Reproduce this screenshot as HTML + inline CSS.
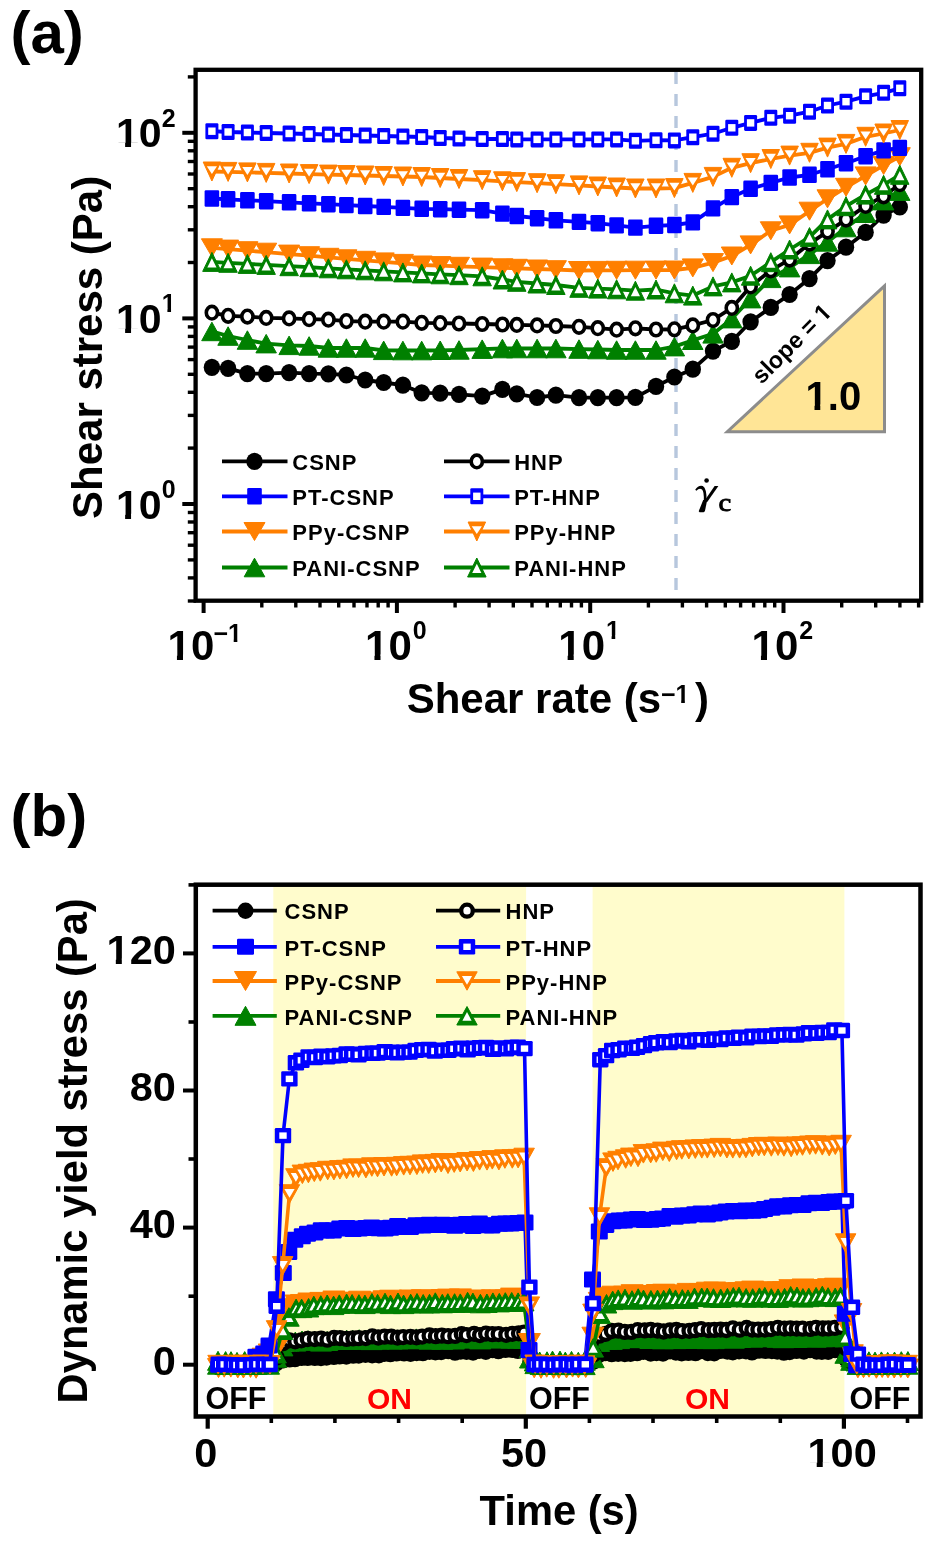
<!DOCTYPE html>
<html><head><meta charset="utf-8"><style>html,body{margin:0;padding:0;background:#fff;}body{width:934px;height:1546px;position:relative;overflow:hidden;}</style></head>
<body>
<svg width="934" height="1546" viewBox="0 0 934 1546" style="position:absolute;left:0;top:0;filter:blur(0.7px)">
<defs><clipPath id="c1b" clipPathUnits="objectBoundingBox"><rect x="-0.1" y="-0.1" width="1.2" height="0.80"/><rect x="0.40" y="0" width="0.26" height="1.1"/></clipPath><clipPath id="c1r" clipPathUnits="objectBoundingBox"><rect x="-0.1" y="-0.1" width="1.2" height="0.815"/><rect x="0.43" y="0" width="0.18" height="1.1"/></clipPath></defs>
<rect x="0" y="0" width="934" height="1546" fill="#fff"/>
<text x="10.5" y="52.6" font-family="Liberation Sans" font-size="60" font-weight="bold" font-style="normal" text-anchor="start" fill="#000" >(a)</text>
<line x1="676" y1="72" x2="676" y2="598" stroke="#b7c7dd" stroke-width="3.4" stroke-dasharray="12 10"/>
<polygon points="884.5,285.9 727.3,431.7 884.5,431.7" fill="#ffe596" stroke="#8c8c8c" stroke-width="3" stroke-linejoin="miter"/>
<text x="805.6" y="409.6" font-family="Liberation Sans" font-size="40" font-weight="bold" font-style="normal" text-anchor="start" fill="#000" clip-path="url(#c1b)">1</text><text x="827.84" y="409.6" font-family="Liberation Sans" font-size="40" font-weight="bold" font-style="normal" text-anchor="start" fill="#000" >.0</text>
<g transform="translate(761.5,385) rotate(-45)"><text x="0" y="0" font-family="Liberation Sans" font-size="23.5" font-weight="bold" font-style="normal" text-anchor="start" fill="#000" >slope = </text><text x="88.17" y="0" font-family="Liberation Sans" font-size="23.5" font-weight="bold" font-style="normal" text-anchor="start" fill="#000" clip-path="url(#c1b)">1</text></g>
<g fill="#000"><path d="M714.6,486 L718.4,486 L707.2,502 L703.6,502 Z"/><path d="M703.2,500 L707.2,500 L704.9,511.3 L703.6,512.3 L699.6,512.3 L698.7,511.2 Z"/><path d="M695.2,489.8 Q698.5,484.6 702.8,485.9 Q706.8,488 706.6,501 L703.8,501 Q704.2,491.5 702.0,489.4 Q699.2,487.6 696.4,490.8 Z"/><circle cx="706.6" cy="480.5" r="2.3"/></g>
<g transform="translate(718.6,511.4) scale(1.13,1)"><text x="0" y="0" font-family="Liberation Serif" font-size="25.5" font-weight="normal" font-style="normal" text-anchor="start" fill="#000" stroke="#000" stroke-width="0.8">c</text></g>
<polyline points="211.9,367.3 228.1,368.4 247.4,373.7 266.2,373.7 289.1,372.6 309.1,373.7 328.4,373.8 346.4,375.0 365.2,380.0 383.7,382.5 402.9,385.2 421.7,392.8 440.2,393.2 459.0,394.4 482.2,396.1 502.4,389.4 516.8,393.9 537.1,397.5 555.9,395.2 579.0,397.7 597.8,397.7 616.6,397.7 635.4,397.4 656.0,386.4 674.4,377.0 692.8,369.2 713.0,351.1 731.8,341.3 750.6,321.8 770.8,307.4 789.6,294.5 809.5,278.6 827.5,260.6 846.0,247.2 865.6,232.3 883.6,215.1 899.8,207.0" fill="none" stroke="#000000" stroke-width="3.8" stroke-linejoin="round"/>
<ellipse cx="211.9" cy="367.3" rx="8.2" ry="8.6" fill="#000000"/>
<ellipse cx="228.1" cy="368.4" rx="8.2" ry="8.6" fill="#000000"/>
<ellipse cx="247.4" cy="373.7" rx="8.2" ry="8.6" fill="#000000"/>
<ellipse cx="266.2" cy="373.7" rx="8.2" ry="8.6" fill="#000000"/>
<ellipse cx="289.1" cy="372.6" rx="8.2" ry="8.6" fill="#000000"/>
<ellipse cx="309.1" cy="373.7" rx="8.2" ry="8.6" fill="#000000"/>
<ellipse cx="328.4" cy="373.8" rx="8.2" ry="8.6" fill="#000000"/>
<ellipse cx="346.4" cy="375.0" rx="8.2" ry="8.6" fill="#000000"/>
<ellipse cx="365.2" cy="380.0" rx="8.2" ry="8.6" fill="#000000"/>
<ellipse cx="383.7" cy="382.5" rx="8.2" ry="8.6" fill="#000000"/>
<ellipse cx="402.9" cy="385.2" rx="8.2" ry="8.6" fill="#000000"/>
<ellipse cx="421.7" cy="392.8" rx="8.2" ry="8.6" fill="#000000"/>
<ellipse cx="440.2" cy="393.2" rx="8.2" ry="8.6" fill="#000000"/>
<ellipse cx="459.0" cy="394.4" rx="8.2" ry="8.6" fill="#000000"/>
<ellipse cx="482.2" cy="396.1" rx="8.2" ry="8.6" fill="#000000"/>
<ellipse cx="502.4" cy="389.4" rx="8.2" ry="8.6" fill="#000000"/>
<ellipse cx="516.8" cy="393.9" rx="8.2" ry="8.6" fill="#000000"/>
<ellipse cx="537.1" cy="397.5" rx="8.2" ry="8.6" fill="#000000"/>
<ellipse cx="555.9" cy="395.2" rx="8.2" ry="8.6" fill="#000000"/>
<ellipse cx="579.0" cy="397.7" rx="8.2" ry="8.6" fill="#000000"/>
<ellipse cx="597.8" cy="397.7" rx="8.2" ry="8.6" fill="#000000"/>
<ellipse cx="616.6" cy="397.7" rx="8.2" ry="8.6" fill="#000000"/>
<ellipse cx="635.4" cy="397.4" rx="8.2" ry="8.6" fill="#000000"/>
<ellipse cx="656.0" cy="386.4" rx="8.2" ry="8.6" fill="#000000"/>
<ellipse cx="674.4" cy="377.0" rx="8.2" ry="8.6" fill="#000000"/>
<ellipse cx="692.8" cy="369.2" rx="8.2" ry="8.6" fill="#000000"/>
<ellipse cx="713.0" cy="351.1" rx="8.2" ry="8.6" fill="#000000"/>
<ellipse cx="731.8" cy="341.3" rx="8.2" ry="8.6" fill="#000000"/>
<ellipse cx="750.6" cy="321.8" rx="8.2" ry="8.6" fill="#000000"/>
<ellipse cx="770.8" cy="307.4" rx="8.2" ry="8.6" fill="#000000"/>
<ellipse cx="789.6" cy="294.5" rx="8.2" ry="8.6" fill="#000000"/>
<ellipse cx="809.5" cy="278.6" rx="8.2" ry="8.6" fill="#000000"/>
<ellipse cx="827.5" cy="260.6" rx="8.2" ry="8.6" fill="#000000"/>
<ellipse cx="846.0" cy="247.2" rx="8.2" ry="8.6" fill="#000000"/>
<ellipse cx="865.6" cy="232.3" rx="8.2" ry="8.6" fill="#000000"/>
<ellipse cx="883.6" cy="215.1" rx="8.2" ry="8.6" fill="#000000"/>
<ellipse cx="899.8" cy="207.0" rx="8.2" ry="8.6" fill="#000000"/>
<polyline points="211.9,331.4 228.1,336.0 247.4,340.0 266.2,343.7 289.1,345.4 309.1,346.0 328.4,348.0 346.4,348.0 365.2,348.0 383.7,350.3 402.9,350.5 421.7,350.5 440.2,350.3 459.0,350.0 482.2,349.2 502.4,348.5 516.8,348.5 537.1,348.5 555.9,348.5 579.0,349.1 597.8,349.5 616.6,350.0 635.4,350.0 656.0,350.0 674.4,346.6 692.8,340.2 713.0,333.9 731.8,318.7 750.6,298.7 770.8,278.4 789.6,267.6 809.5,254.3 827.5,241.9 846.0,227.6 865.6,213.3 883.6,200.6 899.8,191.1" fill="none" stroke="#008000" stroke-width="3.8" stroke-linejoin="round"/>
<polygon points="201.7,340.7 222.2,340.7 211.9,322.2" fill="#008000" stroke="#008000" stroke-width="1" stroke-linejoin="round"/>
<polygon points="217.8,345.3 238.3,345.3 228.1,326.8" fill="#008000" stroke="#008000" stroke-width="1" stroke-linejoin="round"/>
<polygon points="237.2,349.3 257.6,349.3 247.4,330.8" fill="#008000" stroke="#008000" stroke-width="1" stroke-linejoin="round"/>
<polygon points="255.9,352.9 276.4,352.9 266.2,334.4" fill="#008000" stroke="#008000" stroke-width="1" stroke-linejoin="round"/>
<polygon points="278.9,354.6 299.4,354.6 289.1,336.1" fill="#008000" stroke="#008000" stroke-width="1" stroke-linejoin="round"/>
<polygon points="298.9,355.2 319.4,355.2 309.1,336.7" fill="#008000" stroke="#008000" stroke-width="1" stroke-linejoin="round"/>
<polygon points="318.1,357.2 338.6,357.2 328.4,338.8" fill="#008000" stroke="#008000" stroke-width="1" stroke-linejoin="round"/>
<polygon points="336.1,357.2 356.6,357.2 346.4,338.8" fill="#008000" stroke="#008000" stroke-width="1" stroke-linejoin="round"/>
<polygon points="354.9,357.2 375.4,357.2 365.2,338.8" fill="#008000" stroke="#008000" stroke-width="1" stroke-linejoin="round"/>
<polygon points="373.4,359.6 393.9,359.6 383.7,341.1" fill="#008000" stroke="#008000" stroke-width="1" stroke-linejoin="round"/>
<polygon points="392.6,359.8 413.1,359.8 402.9,341.2" fill="#008000" stroke="#008000" stroke-width="1" stroke-linejoin="round"/>
<polygon points="411.4,359.8 431.9,359.8 421.7,341.2" fill="#008000" stroke="#008000" stroke-width="1" stroke-linejoin="round"/>
<polygon points="429.9,359.5 450.4,359.5 440.2,341.0" fill="#008000" stroke="#008000" stroke-width="1" stroke-linejoin="round"/>
<polygon points="448.8,359.2 469.2,359.2 459.0,340.7" fill="#008000" stroke="#008000" stroke-width="1" stroke-linejoin="round"/>
<polygon points="471.9,358.4 492.4,358.4 482.2,339.9" fill="#008000" stroke="#008000" stroke-width="1" stroke-linejoin="round"/>
<polygon points="492.1,357.8 512.6,357.8 502.4,339.2" fill="#008000" stroke="#008000" stroke-width="1" stroke-linejoin="round"/>
<polygon points="506.5,357.8 527.0,357.8 516.8,339.2" fill="#008000" stroke="#008000" stroke-width="1" stroke-linejoin="round"/>
<polygon points="526.9,357.8 547.4,357.8 537.1,339.2" fill="#008000" stroke="#008000" stroke-width="1" stroke-linejoin="round"/>
<polygon points="545.6,357.8 566.1,357.8 555.9,339.2" fill="#008000" stroke="#008000" stroke-width="1" stroke-linejoin="round"/>
<polygon points="568.8,358.3 589.2,358.3 579.0,339.8" fill="#008000" stroke="#008000" stroke-width="1" stroke-linejoin="round"/>
<polygon points="587.5,358.8 608.0,358.8 597.8,340.3" fill="#008000" stroke="#008000" stroke-width="1" stroke-linejoin="round"/>
<polygon points="606.4,359.2 626.9,359.2 616.6,340.8" fill="#008000" stroke="#008000" stroke-width="1" stroke-linejoin="round"/>
<polygon points="625.1,359.2 645.6,359.2 635.4,340.8" fill="#008000" stroke="#008000" stroke-width="1" stroke-linejoin="round"/>
<polygon points="645.8,359.2 666.2,359.2 656.0,340.8" fill="#008000" stroke="#008000" stroke-width="1" stroke-linejoin="round"/>
<polygon points="664.1,355.9 684.6,355.9 674.4,337.4" fill="#008000" stroke="#008000" stroke-width="1" stroke-linejoin="round"/>
<polygon points="682.5,349.5 703.0,349.5 692.8,331.0" fill="#008000" stroke="#008000" stroke-width="1" stroke-linejoin="round"/>
<polygon points="702.8,343.1 723.2,343.1 713.0,324.6" fill="#008000" stroke="#008000" stroke-width="1" stroke-linejoin="round"/>
<polygon points="721.5,327.9 742.0,327.9 731.8,309.4" fill="#008000" stroke="#008000" stroke-width="1" stroke-linejoin="round"/>
<polygon points="740.4,307.9 760.9,307.9 750.6,289.4" fill="#008000" stroke="#008000" stroke-width="1" stroke-linejoin="round"/>
<polygon points="760.5,287.6 781.0,287.6 770.8,269.1" fill="#008000" stroke="#008000" stroke-width="1" stroke-linejoin="round"/>
<polygon points="779.4,276.9 799.9,276.9 789.6,258.4" fill="#008000" stroke="#008000" stroke-width="1" stroke-linejoin="round"/>
<polygon points="799.2,263.6 819.8,263.6 809.5,245.1" fill="#008000" stroke="#008000" stroke-width="1" stroke-linejoin="round"/>
<polygon points="817.2,251.2 837.8,251.2 827.5,232.7" fill="#008000" stroke="#008000" stroke-width="1" stroke-linejoin="round"/>
<polygon points="835.8,236.8 856.2,236.8 846.0,218.3" fill="#008000" stroke="#008000" stroke-width="1" stroke-linejoin="round"/>
<polygon points="855.4,222.5 875.9,222.5 865.6,204.0" fill="#008000" stroke="#008000" stroke-width="1" stroke-linejoin="round"/>
<polygon points="873.4,209.9 893.9,209.9 883.6,191.4" fill="#008000" stroke="#008000" stroke-width="1" stroke-linejoin="round"/>
<polygon points="889.5,200.4 910.0,200.4 899.8,181.9" fill="#008000" stroke="#008000" stroke-width="1" stroke-linejoin="round"/>
<polyline points="211.9,312.7 228.1,315.8 247.4,316.6 266.2,317.9 289.1,318.4 309.1,319.2 328.4,319.7 346.4,321.1 365.2,321.7 383.7,321.7 402.9,321.7 421.7,322.8 440.2,323.2 459.0,323.5 482.2,324.0 502.4,324.5 516.8,324.9 537.1,325.4 555.9,326.0 579.0,326.8 597.8,328.2 616.6,329.7 635.4,328.3 656.0,329.5 674.4,329.3 692.8,325.4 713.0,320.0 731.8,307.9 750.6,286.4 770.8,270.3 789.6,259.6 809.5,243.6 827.5,231.6 846.0,219.6 865.6,205.9 883.6,196.3 899.8,184.2" fill="none" stroke="#000000" stroke-width="3.8" stroke-linejoin="round"/>
<ellipse cx="211.9" cy="312.7" rx="5.6" ry="6.3" fill="#fff" stroke="#000000" stroke-width="3.6"/>
<ellipse cx="228.1" cy="315.8" rx="5.6" ry="6.3" fill="#fff" stroke="#000000" stroke-width="3.6"/>
<ellipse cx="247.4" cy="316.6" rx="5.6" ry="6.3" fill="#fff" stroke="#000000" stroke-width="3.6"/>
<ellipse cx="266.2" cy="317.9" rx="5.6" ry="6.3" fill="#fff" stroke="#000000" stroke-width="3.6"/>
<ellipse cx="289.1" cy="318.4" rx="5.6" ry="6.3" fill="#fff" stroke="#000000" stroke-width="3.6"/>
<ellipse cx="309.1" cy="319.2" rx="5.6" ry="6.3" fill="#fff" stroke="#000000" stroke-width="3.6"/>
<ellipse cx="328.4" cy="319.7" rx="5.6" ry="6.3" fill="#fff" stroke="#000000" stroke-width="3.6"/>
<ellipse cx="346.4" cy="321.1" rx="5.6" ry="6.3" fill="#fff" stroke="#000000" stroke-width="3.6"/>
<ellipse cx="365.2" cy="321.7" rx="5.6" ry="6.3" fill="#fff" stroke="#000000" stroke-width="3.6"/>
<ellipse cx="383.7" cy="321.7" rx="5.6" ry="6.3" fill="#fff" stroke="#000000" stroke-width="3.6"/>
<ellipse cx="402.9" cy="321.7" rx="5.6" ry="6.3" fill="#fff" stroke="#000000" stroke-width="3.6"/>
<ellipse cx="421.7" cy="322.8" rx="5.6" ry="6.3" fill="#fff" stroke="#000000" stroke-width="3.6"/>
<ellipse cx="440.2" cy="323.2" rx="5.6" ry="6.3" fill="#fff" stroke="#000000" stroke-width="3.6"/>
<ellipse cx="459.0" cy="323.5" rx="5.6" ry="6.3" fill="#fff" stroke="#000000" stroke-width="3.6"/>
<ellipse cx="482.2" cy="324.0" rx="5.6" ry="6.3" fill="#fff" stroke="#000000" stroke-width="3.6"/>
<ellipse cx="502.4" cy="324.5" rx="5.6" ry="6.3" fill="#fff" stroke="#000000" stroke-width="3.6"/>
<ellipse cx="516.8" cy="324.9" rx="5.6" ry="6.3" fill="#fff" stroke="#000000" stroke-width="3.6"/>
<ellipse cx="537.1" cy="325.4" rx="5.6" ry="6.3" fill="#fff" stroke="#000000" stroke-width="3.6"/>
<ellipse cx="555.9" cy="326.0" rx="5.6" ry="6.3" fill="#fff" stroke="#000000" stroke-width="3.6"/>
<ellipse cx="579.0" cy="326.8" rx="5.6" ry="6.3" fill="#fff" stroke="#000000" stroke-width="3.6"/>
<ellipse cx="597.8" cy="328.2" rx="5.6" ry="6.3" fill="#fff" stroke="#000000" stroke-width="3.6"/>
<ellipse cx="616.6" cy="329.7" rx="5.6" ry="6.3" fill="#fff" stroke="#000000" stroke-width="3.6"/>
<ellipse cx="635.4" cy="328.3" rx="5.6" ry="6.3" fill="#fff" stroke="#000000" stroke-width="3.6"/>
<ellipse cx="656.0" cy="329.5" rx="5.6" ry="6.3" fill="#fff" stroke="#000000" stroke-width="3.6"/>
<ellipse cx="674.4" cy="329.3" rx="5.6" ry="6.3" fill="#fff" stroke="#000000" stroke-width="3.6"/>
<ellipse cx="692.8" cy="325.4" rx="5.6" ry="6.3" fill="#fff" stroke="#000000" stroke-width="3.6"/>
<ellipse cx="713.0" cy="320.0" rx="5.6" ry="6.3" fill="#fff" stroke="#000000" stroke-width="3.6"/>
<ellipse cx="731.8" cy="307.9" rx="5.6" ry="6.3" fill="#fff" stroke="#000000" stroke-width="3.6"/>
<ellipse cx="750.6" cy="286.4" rx="5.6" ry="6.3" fill="#fff" stroke="#000000" stroke-width="3.6"/>
<ellipse cx="770.8" cy="270.3" rx="5.6" ry="6.3" fill="#fff" stroke="#000000" stroke-width="3.6"/>
<ellipse cx="789.6" cy="259.6" rx="5.6" ry="6.3" fill="#fff" stroke="#000000" stroke-width="3.6"/>
<ellipse cx="809.5" cy="243.6" rx="5.6" ry="6.3" fill="#fff" stroke="#000000" stroke-width="3.6"/>
<ellipse cx="827.5" cy="231.6" rx="5.6" ry="6.3" fill="#fff" stroke="#000000" stroke-width="3.6"/>
<ellipse cx="846.0" cy="219.6" rx="5.6" ry="6.3" fill="#fff" stroke="#000000" stroke-width="3.6"/>
<ellipse cx="865.6" cy="205.9" rx="5.6" ry="6.3" fill="#fff" stroke="#000000" stroke-width="3.6"/>
<ellipse cx="883.6" cy="196.3" rx="5.6" ry="6.3" fill="#fff" stroke="#000000" stroke-width="3.6"/>
<ellipse cx="899.8" cy="184.2" rx="5.6" ry="6.3" fill="#fff" stroke="#000000" stroke-width="3.6"/>
<polyline points="211.9,247.8 228.1,249.1 247.4,250.7 266.2,252.2 289.1,254.1 309.1,255.7 328.4,257.3 346.4,258.8 365.2,260.3 383.7,261.9 402.9,263.4 421.7,265.0 440.2,265.6 459.0,266.3 482.2,267.1 502.4,267.8 516.8,268.3 537.1,269.0 555.9,269.7 579.0,270.5 597.8,270.4 616.6,270.3 635.4,270.2 656.0,270.1 674.4,270.0 692.8,267.9 713.0,262.6 731.8,256.0 750.6,244.9 770.8,230.8 789.6,224.9 809.5,211.2 827.5,198.8 846.0,187.3 865.6,175.9 883.6,165.4 899.8,156.7" fill="none" stroke="#ff7f00" stroke-width="3.8" stroke-linejoin="round"/>
<polygon points="201.4,238.8 222.4,238.8 211.9,256.8" fill="#ff7f00" stroke="#ff7f00" stroke-width="1" stroke-linejoin="round"/>
<polygon points="217.6,240.1 238.6,240.1 228.1,258.1" fill="#ff7f00" stroke="#ff7f00" stroke-width="1" stroke-linejoin="round"/>
<polygon points="236.9,241.7 257.9,241.7 247.4,259.7" fill="#ff7f00" stroke="#ff7f00" stroke-width="1" stroke-linejoin="round"/>
<polygon points="255.7,243.2 276.7,243.2 266.2,261.2" fill="#ff7f00" stroke="#ff7f00" stroke-width="1" stroke-linejoin="round"/>
<polygon points="278.6,245.1 299.6,245.1 289.1,263.1" fill="#ff7f00" stroke="#ff7f00" stroke-width="1" stroke-linejoin="round"/>
<polygon points="298.6,246.7 319.6,246.7 309.1,264.7" fill="#ff7f00" stroke="#ff7f00" stroke-width="1" stroke-linejoin="round"/>
<polygon points="317.9,248.3 338.9,248.3 328.4,266.3" fill="#ff7f00" stroke="#ff7f00" stroke-width="1" stroke-linejoin="round"/>
<polygon points="335.9,249.8 356.9,249.8 346.4,267.8" fill="#ff7f00" stroke="#ff7f00" stroke-width="1" stroke-linejoin="round"/>
<polygon points="354.7,251.3 375.7,251.3 365.2,269.3" fill="#ff7f00" stroke="#ff7f00" stroke-width="1" stroke-linejoin="round"/>
<polygon points="373.2,252.9 394.2,252.9 383.7,270.9" fill="#ff7f00" stroke="#ff7f00" stroke-width="1" stroke-linejoin="round"/>
<polygon points="392.4,254.4 413.4,254.4 402.9,272.4" fill="#ff7f00" stroke="#ff7f00" stroke-width="1" stroke-linejoin="round"/>
<polygon points="411.2,256.0 432.2,256.0 421.7,274.0" fill="#ff7f00" stroke="#ff7f00" stroke-width="1" stroke-linejoin="round"/>
<polygon points="429.7,256.6 450.7,256.6 440.2,274.6" fill="#ff7f00" stroke="#ff7f00" stroke-width="1" stroke-linejoin="round"/>
<polygon points="448.5,257.3 469.5,257.3 459.0,275.3" fill="#ff7f00" stroke="#ff7f00" stroke-width="1" stroke-linejoin="round"/>
<polygon points="471.7,258.1 492.7,258.1 482.2,276.1" fill="#ff7f00" stroke="#ff7f00" stroke-width="1" stroke-linejoin="round"/>
<polygon points="491.9,258.8 512.9,258.8 502.4,276.8" fill="#ff7f00" stroke="#ff7f00" stroke-width="1" stroke-linejoin="round"/>
<polygon points="506.3,259.3 527.3,259.3 516.8,277.3" fill="#ff7f00" stroke="#ff7f00" stroke-width="1" stroke-linejoin="round"/>
<polygon points="526.6,260.0 547.6,260.0 537.1,278.0" fill="#ff7f00" stroke="#ff7f00" stroke-width="1" stroke-linejoin="round"/>
<polygon points="545.4,260.7 566.4,260.7 555.9,278.7" fill="#ff7f00" stroke="#ff7f00" stroke-width="1" stroke-linejoin="round"/>
<polygon points="568.5,261.5 589.5,261.5 579.0,279.5" fill="#ff7f00" stroke="#ff7f00" stroke-width="1" stroke-linejoin="round"/>
<polygon points="587.3,261.4 608.3,261.4 597.8,279.4" fill="#ff7f00" stroke="#ff7f00" stroke-width="1" stroke-linejoin="round"/>
<polygon points="606.1,261.3 627.1,261.3 616.6,279.3" fill="#ff7f00" stroke="#ff7f00" stroke-width="1" stroke-linejoin="round"/>
<polygon points="624.9,261.2 645.9,261.2 635.4,279.2" fill="#ff7f00" stroke="#ff7f00" stroke-width="1" stroke-linejoin="round"/>
<polygon points="645.5,261.1 666.5,261.1 656.0,279.1" fill="#ff7f00" stroke="#ff7f00" stroke-width="1" stroke-linejoin="round"/>
<polygon points="663.9,261.0 684.9,261.0 674.4,279.0" fill="#ff7f00" stroke="#ff7f00" stroke-width="1" stroke-linejoin="round"/>
<polygon points="682.3,258.9 703.3,258.9 692.8,276.9" fill="#ff7f00" stroke="#ff7f00" stroke-width="1" stroke-linejoin="round"/>
<polygon points="702.5,253.6 723.5,253.6 713.0,271.6" fill="#ff7f00" stroke="#ff7f00" stroke-width="1" stroke-linejoin="round"/>
<polygon points="721.3,247.0 742.3,247.0 731.8,265.0" fill="#ff7f00" stroke="#ff7f00" stroke-width="1" stroke-linejoin="round"/>
<polygon points="740.1,235.9 761.1,235.9 750.6,253.9" fill="#ff7f00" stroke="#ff7f00" stroke-width="1" stroke-linejoin="round"/>
<polygon points="760.3,221.8 781.3,221.8 770.8,239.8" fill="#ff7f00" stroke="#ff7f00" stroke-width="1" stroke-linejoin="round"/>
<polygon points="779.1,215.9 800.1,215.9 789.6,233.9" fill="#ff7f00" stroke="#ff7f00" stroke-width="1" stroke-linejoin="round"/>
<polygon points="799.0,202.2 820.0,202.2 809.5,220.2" fill="#ff7f00" stroke="#ff7f00" stroke-width="1" stroke-linejoin="round"/>
<polygon points="817.0,189.8 838.0,189.8 827.5,207.8" fill="#ff7f00" stroke="#ff7f00" stroke-width="1" stroke-linejoin="round"/>
<polygon points="835.5,178.3 856.5,178.3 846.0,196.3" fill="#ff7f00" stroke="#ff7f00" stroke-width="1" stroke-linejoin="round"/>
<polygon points="855.1,166.9 876.1,166.9 865.6,184.9" fill="#ff7f00" stroke="#ff7f00" stroke-width="1" stroke-linejoin="round"/>
<polygon points="873.1,156.4 894.1,156.4 883.6,174.4" fill="#ff7f00" stroke="#ff7f00" stroke-width="1" stroke-linejoin="round"/>
<polygon points="889.3,147.7 910.3,147.7 899.8,165.7" fill="#ff7f00" stroke="#ff7f00" stroke-width="1" stroke-linejoin="round"/>
<polyline points="211.9,261.9 228.1,262.8 247.4,263.9 266.2,264.9 289.1,266.2 309.1,267.2 328.4,268.3 346.4,269.3 365.2,270.3 383.7,271.3 402.9,272.4 421.7,273.4 440.2,274.3 459.0,275.2 482.2,276.3 502.4,279.5 516.8,281.8 537.1,283.5 555.9,285.0 579.0,287.8 597.8,288.6 616.6,289.3 635.4,290.7 656.0,289.5 674.4,293.3 692.8,295.6 713.0,286.4 731.8,282.4 750.6,275.7 770.8,262.2 789.6,249.5 809.5,237.1 827.5,219.4 846.0,206.2 865.6,194.6 883.6,184.8 899.8,174.8" fill="none" stroke="#008000" stroke-width="3.8" stroke-linejoin="round"/>
<polygon points="202.7,271.4 221.2,271.4 211.9,252.4" fill="#008000" stroke="#008000" stroke-width="1" stroke-linejoin="round"/><polygon points="207.3,267.4 216.5,267.4 211.9,258.2" fill="#fff" />
<polygon points="218.8,272.3 237.3,272.3 228.1,253.3" fill="#008000" stroke="#008000" stroke-width="1" stroke-linejoin="round"/><polygon points="223.5,268.3 232.7,268.3 228.1,259.1" fill="#fff" />
<polygon points="238.2,273.4 256.6,273.4 247.4,254.4" fill="#008000" stroke="#008000" stroke-width="1" stroke-linejoin="round"/><polygon points="242.8,269.4 252.0,269.4 247.4,260.2" fill="#fff" />
<polygon points="256.9,274.4 275.4,274.4 266.2,255.4" fill="#008000" stroke="#008000" stroke-width="1" stroke-linejoin="round"/><polygon points="261.6,270.4 270.8,270.4 266.2,261.2" fill="#fff" />
<polygon points="279.9,275.7 298.4,275.7 289.1,256.7" fill="#008000" stroke="#008000" stroke-width="1" stroke-linejoin="round"/><polygon points="284.5,271.7 293.7,271.7 289.1,262.5" fill="#fff" />
<polygon points="299.9,276.7 318.4,276.7 309.1,257.7" fill="#008000" stroke="#008000" stroke-width="1" stroke-linejoin="round"/><polygon points="304.5,272.7 313.7,272.7 309.1,263.5" fill="#fff" />
<polygon points="319.1,277.8 337.6,277.8 328.4,258.8" fill="#008000" stroke="#008000" stroke-width="1" stroke-linejoin="round"/><polygon points="323.8,273.8 333.0,273.8 328.4,264.6" fill="#fff" />
<polygon points="337.1,278.8 355.6,278.8 346.4,259.8" fill="#008000" stroke="#008000" stroke-width="1" stroke-linejoin="round"/><polygon points="341.8,274.8 351.0,274.8 346.4,265.6" fill="#fff" />
<polygon points="355.9,279.8 374.4,279.8 365.2,260.8" fill="#008000" stroke="#008000" stroke-width="1" stroke-linejoin="round"/><polygon points="360.6,275.8 369.8,275.8 365.2,266.6" fill="#fff" />
<polygon points="374.4,280.8 392.9,280.8 383.7,261.8" fill="#008000" stroke="#008000" stroke-width="1" stroke-linejoin="round"/><polygon points="379.1,276.8 388.3,276.8 383.7,267.6" fill="#fff" />
<polygon points="393.6,281.9 412.1,281.9 402.9,262.9" fill="#008000" stroke="#008000" stroke-width="1" stroke-linejoin="round"/><polygon points="398.3,277.9 407.5,277.9 402.9,268.7" fill="#fff" />
<polygon points="412.4,282.9 430.9,282.9 421.7,263.9" fill="#008000" stroke="#008000" stroke-width="1" stroke-linejoin="round"/><polygon points="417.1,278.9 426.3,278.9 421.7,269.7" fill="#fff" />
<polygon points="430.9,283.8 449.4,283.8 440.2,264.8" fill="#008000" stroke="#008000" stroke-width="1" stroke-linejoin="round"/><polygon points="435.6,279.8 444.8,279.8 440.2,270.6" fill="#fff" />
<polygon points="449.8,284.7 468.2,284.7 459.0,265.7" fill="#008000" stroke="#008000" stroke-width="1" stroke-linejoin="round"/><polygon points="454.4,280.7 463.6,280.7 459.0,271.5" fill="#fff" />
<polygon points="472.9,285.8 491.4,285.8 482.2,266.8" fill="#008000" stroke="#008000" stroke-width="1" stroke-linejoin="round"/><polygon points="477.6,281.8 486.8,281.8 482.2,272.6" fill="#fff" />
<polygon points="493.1,289.0 511.6,289.0 502.4,270.0" fill="#008000" stroke="#008000" stroke-width="1" stroke-linejoin="round"/><polygon points="497.8,285.0 507.0,285.0 502.4,275.8" fill="#fff" />
<polygon points="507.5,291.3 526.0,291.3 516.8,272.3" fill="#008000" stroke="#008000" stroke-width="1" stroke-linejoin="round"/><polygon points="512.2,287.3 521.4,287.3 516.8,278.1" fill="#fff" />
<polygon points="527.9,293.0 546.4,293.0 537.1,274.0" fill="#008000" stroke="#008000" stroke-width="1" stroke-linejoin="round"/><polygon points="532.5,289.0 541.7,289.0 537.1,279.8" fill="#fff" />
<polygon points="546.6,294.5 565.1,294.5 555.9,275.5" fill="#008000" stroke="#008000" stroke-width="1" stroke-linejoin="round"/><polygon points="551.3,290.5 560.5,290.5 555.9,281.3" fill="#fff" />
<polygon points="569.8,297.3 588.2,297.3 579.0,278.3" fill="#008000" stroke="#008000" stroke-width="1" stroke-linejoin="round"/><polygon points="574.4,293.3 583.6,293.3 579.0,284.1" fill="#fff" />
<polygon points="588.5,298.1 607.0,298.1 597.8,279.1" fill="#008000" stroke="#008000" stroke-width="1" stroke-linejoin="round"/><polygon points="593.2,294.1 602.4,294.1 597.8,284.9" fill="#fff" />
<polygon points="607.4,298.8 625.9,298.8 616.6,279.8" fill="#008000" stroke="#008000" stroke-width="1" stroke-linejoin="round"/><polygon points="612.0,294.8 621.2,294.8 616.6,285.6" fill="#fff" />
<polygon points="626.1,300.2 644.6,300.2 635.4,281.2" fill="#008000" stroke="#008000" stroke-width="1" stroke-linejoin="round"/><polygon points="630.8,296.2 640.0,296.2 635.4,287.0" fill="#fff" />
<polygon points="646.8,299.0 665.2,299.0 656.0,280.0" fill="#008000" stroke="#008000" stroke-width="1" stroke-linejoin="round"/><polygon points="651.4,295.0 660.6,295.0 656.0,285.8" fill="#fff" />
<polygon points="665.1,302.8 683.6,302.8 674.4,283.8" fill="#008000" stroke="#008000" stroke-width="1" stroke-linejoin="round"/><polygon points="669.8,298.8 679.0,298.8 674.4,289.6" fill="#fff" />
<polygon points="683.5,305.1 702.0,305.1 692.8,286.1" fill="#008000" stroke="#008000" stroke-width="1" stroke-linejoin="round"/><polygon points="688.2,301.1 697.4,301.1 692.8,291.9" fill="#fff" />
<polygon points="703.8,295.9 722.2,295.9 713.0,276.9" fill="#008000" stroke="#008000" stroke-width="1" stroke-linejoin="round"/><polygon points="708.4,291.9 717.6,291.9 713.0,282.7" fill="#fff" />
<polygon points="722.5,291.9 741.0,291.9 731.8,272.9" fill="#008000" stroke="#008000" stroke-width="1" stroke-linejoin="round"/><polygon points="727.2,287.9 736.4,287.9 731.8,278.7" fill="#fff" />
<polygon points="741.4,285.2 759.9,285.2 750.6,266.2" fill="#008000" stroke="#008000" stroke-width="1" stroke-linejoin="round"/><polygon points="746.0,281.2 755.2,281.2 750.6,272.0" fill="#fff" />
<polygon points="761.5,271.7 780.0,271.7 770.8,252.7" fill="#008000" stroke="#008000" stroke-width="1" stroke-linejoin="round"/><polygon points="766.2,267.7 775.4,267.7 770.8,258.5" fill="#fff" />
<polygon points="780.4,259.0 798.9,259.0 789.6,240.0" fill="#008000" stroke="#008000" stroke-width="1" stroke-linejoin="round"/><polygon points="785.0,255.0 794.2,255.0 789.6,245.8" fill="#fff" />
<polygon points="800.2,246.6 818.8,246.6 809.5,227.6" fill="#008000" stroke="#008000" stroke-width="1" stroke-linejoin="round"/><polygon points="804.9,242.6 814.1,242.6 809.5,233.4" fill="#fff" />
<polygon points="818.2,228.9 836.8,228.9 827.5,209.9" fill="#008000" stroke="#008000" stroke-width="1" stroke-linejoin="round"/><polygon points="822.9,224.9 832.1,224.9 827.5,215.7" fill="#fff" />
<polygon points="836.8,215.7 855.2,215.7 846.0,196.7" fill="#008000" stroke="#008000" stroke-width="1" stroke-linejoin="round"/><polygon points="841.4,211.7 850.6,211.7 846.0,202.5" fill="#fff" />
<polygon points="856.4,204.1 874.9,204.1 865.6,185.1" fill="#008000" stroke="#008000" stroke-width="1" stroke-linejoin="round"/><polygon points="861.0,200.1 870.2,200.1 865.6,190.9" fill="#fff" />
<polygon points="874.4,194.3 892.9,194.3 883.6,175.3" fill="#008000" stroke="#008000" stroke-width="1" stroke-linejoin="round"/><polygon points="879.0,190.3 888.2,190.3 883.6,181.1" fill="#fff" />
<polygon points="890.5,184.3 909.0,184.3 899.8,165.3" fill="#008000" stroke="#008000" stroke-width="1" stroke-linejoin="round"/><polygon points="895.2,180.3 904.4,180.3 899.8,171.1" fill="#fff" />
<polyline points="211.9,198.5 228.1,199.3 247.4,200.3 266.2,201.2 289.1,202.3 309.1,203.3 328.4,204.2 346.4,205.1 365.2,206.0 383.7,206.9 402.9,207.9 421.7,208.8 440.2,209.2 459.0,209.7 482.2,210.2 502.4,213.6 516.8,216.0 537.1,218.2 555.9,220.3 579.0,221.9 597.8,223.2 616.6,225.4 635.4,227.6 656.0,225.8 674.4,225.0 692.8,222.4 713.0,208.4 731.8,197.1 750.6,188.8 770.8,182.9 789.6,177.5 809.5,174.8 827.5,169.3 846.0,163.2 865.6,156.2 883.6,150.4 899.8,147.9" fill="none" stroke="#0000ff" stroke-width="3.8" stroke-linejoin="round"/>
<rect x="204.6" y="190.3" width="14.6" height="16.4" rx="1.3" fill="#0000ff"/>
<rect x="220.8" y="191.1" width="14.6" height="16.4" rx="1.3" fill="#0000ff"/>
<rect x="240.1" y="192.1" width="14.6" height="16.4" rx="1.3" fill="#0000ff"/>
<rect x="258.9" y="193.0" width="14.6" height="16.4" rx="1.3" fill="#0000ff"/>
<rect x="281.8" y="194.1" width="14.6" height="16.4" rx="1.3" fill="#0000ff"/>
<rect x="301.8" y="195.1" width="14.6" height="16.4" rx="1.3" fill="#0000ff"/>
<rect x="321.1" y="196.0" width="14.6" height="16.4" rx="1.3" fill="#0000ff"/>
<rect x="339.1" y="196.9" width="14.6" height="16.4" rx="1.3" fill="#0000ff"/>
<rect x="357.9" y="197.8" width="14.6" height="16.4" rx="1.3" fill="#0000ff"/>
<rect x="376.4" y="198.7" width="14.6" height="16.4" rx="1.3" fill="#0000ff"/>
<rect x="395.6" y="199.7" width="14.6" height="16.4" rx="1.3" fill="#0000ff"/>
<rect x="414.4" y="200.6" width="14.6" height="16.4" rx="1.3" fill="#0000ff"/>
<rect x="432.9" y="201.0" width="14.6" height="16.4" rx="1.3" fill="#0000ff"/>
<rect x="451.7" y="201.5" width="14.6" height="16.4" rx="1.3" fill="#0000ff"/>
<rect x="474.9" y="202.0" width="14.6" height="16.4" rx="1.3" fill="#0000ff"/>
<rect x="495.1" y="205.4" width="14.6" height="16.4" rx="1.3" fill="#0000ff"/>
<rect x="509.5" y="207.8" width="14.6" height="16.4" rx="1.3" fill="#0000ff"/>
<rect x="529.8" y="210.0" width="14.6" height="16.4" rx="1.3" fill="#0000ff"/>
<rect x="548.6" y="212.1" width="14.6" height="16.4" rx="1.3" fill="#0000ff"/>
<rect x="571.7" y="213.7" width="14.6" height="16.4" rx="1.3" fill="#0000ff"/>
<rect x="590.5" y="215.0" width="14.6" height="16.4" rx="1.3" fill="#0000ff"/>
<rect x="609.3" y="217.2" width="14.6" height="16.4" rx="1.3" fill="#0000ff"/>
<rect x="628.1" y="219.4" width="14.6" height="16.4" rx="1.3" fill="#0000ff"/>
<rect x="648.7" y="217.6" width="14.6" height="16.4" rx="1.3" fill="#0000ff"/>
<rect x="667.1" y="216.8" width="14.6" height="16.4" rx="1.3" fill="#0000ff"/>
<rect x="685.5" y="214.2" width="14.6" height="16.4" rx="1.3" fill="#0000ff"/>
<rect x="705.7" y="200.2" width="14.6" height="16.4" rx="1.3" fill="#0000ff"/>
<rect x="724.5" y="188.9" width="14.6" height="16.4" rx="1.3" fill="#0000ff"/>
<rect x="743.3" y="180.6" width="14.6" height="16.4" rx="1.3" fill="#0000ff"/>
<rect x="763.5" y="174.7" width="14.6" height="16.4" rx="1.3" fill="#0000ff"/>
<rect x="782.3" y="169.3" width="14.6" height="16.4" rx="1.3" fill="#0000ff"/>
<rect x="802.2" y="166.6" width="14.6" height="16.4" rx="1.3" fill="#0000ff"/>
<rect x="820.2" y="161.1" width="14.6" height="16.4" rx="1.3" fill="#0000ff"/>
<rect x="838.7" y="155.0" width="14.6" height="16.4" rx="1.3" fill="#0000ff"/>
<rect x="858.3" y="148.0" width="14.6" height="16.4" rx="1.3" fill="#0000ff"/>
<rect x="876.3" y="142.2" width="14.6" height="16.4" rx="1.3" fill="#0000ff"/>
<rect x="892.5" y="139.7" width="14.6" height="16.4" rx="1.3" fill="#0000ff"/>
<polyline points="211.9,171.5 228.1,171.9 247.4,172.4 266.2,172.9 289.1,173.5 309.1,174.1 328.4,174.6 346.4,175.0 365.2,175.5 383.7,176.0 402.9,176.5 421.7,177.0 440.2,178.0 459.0,179.0 482.2,180.2 502.4,181.3 516.8,182.1 537.1,183.2 555.9,184.2 579.0,185.4 597.8,186.5 616.6,187.5 635.4,188.5 656.0,188.5 674.4,188.1 692.8,182.9 713.0,176.9 731.8,167.8 750.6,163.2 770.8,159.0 789.6,155.6 809.5,152.8 827.5,147.6 846.0,143.9 865.6,136.8 883.6,133.5 899.8,130.0" fill="none" stroke="#ff7f00" stroke-width="3.8" stroke-linejoin="round"/>
<polygon points="203.2,162.0 220.7,162.0 211.9,181.0" fill="#ff7f00" stroke="#ff7f00" stroke-width="1" stroke-linejoin="round"/><polygon points="206.8,166.2 217.0,166.2 211.9,174.0" fill="#fff" />
<polygon points="219.3,162.4 236.8,162.4 228.1,181.4" fill="#ff7f00" stroke="#ff7f00" stroke-width="1" stroke-linejoin="round"/><polygon points="223.0,166.6 233.2,166.6 228.1,174.4" fill="#fff" />
<polygon points="238.7,162.9 256.1,162.9 247.4,181.9" fill="#ff7f00" stroke="#ff7f00" stroke-width="1" stroke-linejoin="round"/><polygon points="242.3,167.1 252.5,167.1 247.4,174.9" fill="#fff" />
<polygon points="257.4,163.4 274.9,163.4 266.2,182.4" fill="#ff7f00" stroke="#ff7f00" stroke-width="1" stroke-linejoin="round"/><polygon points="261.1,167.6 271.3,167.6 266.2,175.4" fill="#fff" />
<polygon points="280.4,164.0 297.9,164.0 289.1,183.0" fill="#ff7f00" stroke="#ff7f00" stroke-width="1" stroke-linejoin="round"/><polygon points="284.0,168.2 294.2,168.2 289.1,176.0" fill="#fff" />
<polygon points="300.4,164.6 317.9,164.6 309.1,183.6" fill="#ff7f00" stroke="#ff7f00" stroke-width="1" stroke-linejoin="round"/><polygon points="304.0,168.8 314.2,168.8 309.1,176.6" fill="#fff" />
<polygon points="319.6,165.1 337.1,165.1 328.4,184.1" fill="#ff7f00" stroke="#ff7f00" stroke-width="1" stroke-linejoin="round"/><polygon points="323.3,169.3 333.5,169.3 328.4,177.1" fill="#fff" />
<polygon points="337.6,165.5 355.1,165.5 346.4,184.5" fill="#ff7f00" stroke="#ff7f00" stroke-width="1" stroke-linejoin="round"/><polygon points="341.3,169.7 351.5,169.7 346.4,177.5" fill="#fff" />
<polygon points="356.4,166.0 373.9,166.0 365.2,185.0" fill="#ff7f00" stroke="#ff7f00" stroke-width="1" stroke-linejoin="round"/><polygon points="360.1,170.2 370.3,170.2 365.2,178.0" fill="#fff" />
<polygon points="374.9,166.5 392.4,166.5 383.7,185.5" fill="#ff7f00" stroke="#ff7f00" stroke-width="1" stroke-linejoin="round"/><polygon points="378.6,170.7 388.8,170.7 383.7,178.5" fill="#fff" />
<polygon points="394.1,167.0 411.6,167.0 402.9,186.0" fill="#ff7f00" stroke="#ff7f00" stroke-width="1" stroke-linejoin="round"/><polygon points="397.8,171.2 408.0,171.2 402.9,179.0" fill="#fff" />
<polygon points="412.9,167.5 430.4,167.5 421.7,186.5" fill="#ff7f00" stroke="#ff7f00" stroke-width="1" stroke-linejoin="round"/><polygon points="416.6,171.7 426.8,171.7 421.7,179.5" fill="#fff" />
<polygon points="431.4,168.5 448.9,168.5 440.2,187.5" fill="#ff7f00" stroke="#ff7f00" stroke-width="1" stroke-linejoin="round"/><polygon points="435.1,172.7 445.3,172.7 440.2,180.5" fill="#fff" />
<polygon points="450.2,169.5 467.8,169.5 459.0,188.5" fill="#ff7f00" stroke="#ff7f00" stroke-width="1" stroke-linejoin="round"/><polygon points="453.9,173.7 464.1,173.7 459.0,181.5" fill="#fff" />
<polygon points="473.4,170.7 490.9,170.7 482.2,189.7" fill="#ff7f00" stroke="#ff7f00" stroke-width="1" stroke-linejoin="round"/><polygon points="477.1,174.9 487.3,174.9 482.2,182.7" fill="#fff" />
<polygon points="493.6,171.8 511.1,171.8 502.4,190.8" fill="#ff7f00" stroke="#ff7f00" stroke-width="1" stroke-linejoin="round"/><polygon points="497.3,176.0 507.5,176.0 502.4,183.8" fill="#fff" />
<polygon points="508.0,172.6 525.5,172.6 516.8,191.6" fill="#ff7f00" stroke="#ff7f00" stroke-width="1" stroke-linejoin="round"/><polygon points="511.7,176.8 521.9,176.8 516.8,184.6" fill="#fff" />
<polygon points="528.4,173.7 545.9,173.7 537.1,192.7" fill="#ff7f00" stroke="#ff7f00" stroke-width="1" stroke-linejoin="round"/><polygon points="532.0,177.9 542.2,177.9 537.1,185.7" fill="#fff" />
<polygon points="547.1,174.7 564.6,174.7 555.9,193.7" fill="#ff7f00" stroke="#ff7f00" stroke-width="1" stroke-linejoin="round"/><polygon points="550.8,178.9 561.0,178.9 555.9,186.7" fill="#fff" />
<polygon points="570.2,175.9 587.8,175.9 579.0,194.9" fill="#ff7f00" stroke="#ff7f00" stroke-width="1" stroke-linejoin="round"/><polygon points="573.9,180.1 584.1,180.1 579.0,187.9" fill="#fff" />
<polygon points="589.0,177.0 606.5,177.0 597.8,196.0" fill="#ff7f00" stroke="#ff7f00" stroke-width="1" stroke-linejoin="round"/><polygon points="592.7,181.2 602.9,181.2 597.8,189.0" fill="#fff" />
<polygon points="607.9,178.0 625.4,178.0 616.6,197.0" fill="#ff7f00" stroke="#ff7f00" stroke-width="1" stroke-linejoin="round"/><polygon points="611.5,182.2 621.7,182.2 616.6,190.0" fill="#fff" />
<polygon points="626.6,179.0 644.1,179.0 635.4,198.0" fill="#ff7f00" stroke="#ff7f00" stroke-width="1" stroke-linejoin="round"/><polygon points="630.3,183.2 640.5,183.2 635.4,191.0" fill="#fff" />
<polygon points="647.2,179.0 664.8,179.0 656.0,198.0" fill="#ff7f00" stroke="#ff7f00" stroke-width="1" stroke-linejoin="round"/><polygon points="650.9,183.2 661.1,183.2 656.0,191.0" fill="#fff" />
<polygon points="665.6,178.6 683.1,178.6 674.4,197.6" fill="#ff7f00" stroke="#ff7f00" stroke-width="1" stroke-linejoin="round"/><polygon points="669.3,182.8 679.5,182.8 674.4,190.6" fill="#fff" />
<polygon points="684.0,173.4 701.5,173.4 692.8,192.4" fill="#ff7f00" stroke="#ff7f00" stroke-width="1" stroke-linejoin="round"/><polygon points="687.7,177.6 697.9,177.6 692.8,185.4" fill="#fff" />
<polygon points="704.2,167.4 721.8,167.4 713.0,186.4" fill="#ff7f00" stroke="#ff7f00" stroke-width="1" stroke-linejoin="round"/><polygon points="707.9,171.6 718.1,171.6 713.0,179.4" fill="#fff" />
<polygon points="723.0,158.3 740.5,158.3 731.8,177.3" fill="#ff7f00" stroke="#ff7f00" stroke-width="1" stroke-linejoin="round"/><polygon points="726.7,162.5 736.9,162.5 731.8,170.3" fill="#fff" />
<polygon points="741.9,153.7 759.4,153.7 750.6,172.7" fill="#ff7f00" stroke="#ff7f00" stroke-width="1" stroke-linejoin="round"/><polygon points="745.5,157.9 755.7,157.9 750.6,165.7" fill="#fff" />
<polygon points="762.0,149.5 779.5,149.5 770.8,168.5" fill="#ff7f00" stroke="#ff7f00" stroke-width="1" stroke-linejoin="round"/><polygon points="765.7,153.7 775.9,153.7 770.8,161.5" fill="#fff" />
<polygon points="780.9,146.1 798.4,146.1 789.6,165.1" fill="#ff7f00" stroke="#ff7f00" stroke-width="1" stroke-linejoin="round"/><polygon points="784.5,150.3 794.7,150.3 789.6,158.1" fill="#fff" />
<polygon points="800.8,143.3 818.2,143.3 809.5,162.3" fill="#ff7f00" stroke="#ff7f00" stroke-width="1" stroke-linejoin="round"/><polygon points="804.4,147.5 814.6,147.5 809.5,155.3" fill="#fff" />
<polygon points="818.8,138.1 836.2,138.1 827.5,157.1" fill="#ff7f00" stroke="#ff7f00" stroke-width="1" stroke-linejoin="round"/><polygon points="822.4,142.3 832.6,142.3 827.5,150.1" fill="#fff" />
<polygon points="837.2,134.4 854.8,134.4 846.0,153.4" fill="#ff7f00" stroke="#ff7f00" stroke-width="1" stroke-linejoin="round"/><polygon points="840.9,138.6 851.1,138.6 846.0,146.4" fill="#fff" />
<polygon points="856.9,127.3 874.4,127.3 865.6,146.3" fill="#ff7f00" stroke="#ff7f00" stroke-width="1" stroke-linejoin="round"/><polygon points="860.5,131.5 870.7,131.5 865.6,139.3" fill="#fff" />
<polygon points="874.9,124.0 892.4,124.0 883.6,143.0" fill="#ff7f00" stroke="#ff7f00" stroke-width="1" stroke-linejoin="round"/><polygon points="878.5,128.2 888.7,128.2 883.6,136.0" fill="#fff" />
<polygon points="891.0,120.5 908.5,120.5 899.8,139.5" fill="#ff7f00" stroke="#ff7f00" stroke-width="1" stroke-linejoin="round"/><polygon points="894.7,124.7 904.9,124.7 899.8,132.5" fill="#fff" />
<polyline points="211.9,131.2 228.1,132.0 247.4,132.5 266.2,133.0 289.1,133.5 309.1,134.0 328.4,134.5 346.4,135.0 365.2,135.5 383.7,136.0 402.9,136.5 421.7,137.0 440.2,138.0 459.0,138.5 482.2,139.0 502.4,139.0 516.8,139.4 537.1,139.4 555.9,139.4 579.0,139.4 597.8,139.4 616.6,139.4 635.4,140.8 656.0,140.2 674.4,140.4 692.8,137.2 713.0,133.7 731.8,127.8 750.6,122.9 770.8,117.8 789.6,115.7 809.5,111.7 827.5,105.5 846.0,101.7 865.6,96.3 883.6,92.8 899.8,88.3" fill="none" stroke="#0000ff" stroke-width="3.8" stroke-linejoin="round"/>
<rect x="205.4" y="123.2" width="13.0" height="16.0" rx="1.3" fill="#0000ff"/><rect x="208.2" y="127.5" width="7.4" height="7.4" fill="#fff"/>
<rect x="221.6" y="124.0" width="13.0" height="16.0" rx="1.3" fill="#0000ff"/><rect x="224.4" y="128.3" width="7.4" height="7.4" fill="#fff"/>
<rect x="240.9" y="124.5" width="13.0" height="16.0" rx="1.3" fill="#0000ff"/><rect x="243.7" y="128.8" width="7.4" height="7.4" fill="#fff"/>
<rect x="259.7" y="125.0" width="13.0" height="16.0" rx="1.3" fill="#0000ff"/><rect x="262.5" y="129.3" width="7.4" height="7.4" fill="#fff"/>
<rect x="282.6" y="125.5" width="13.0" height="16.0" rx="1.3" fill="#0000ff"/><rect x="285.4" y="129.8" width="7.4" height="7.4" fill="#fff"/>
<rect x="302.6" y="126.0" width="13.0" height="16.0" rx="1.3" fill="#0000ff"/><rect x="305.4" y="130.3" width="7.4" height="7.4" fill="#fff"/>
<rect x="321.9" y="126.5" width="13.0" height="16.0" rx="1.3" fill="#0000ff"/><rect x="324.7" y="130.8" width="7.4" height="7.4" fill="#fff"/>
<rect x="339.9" y="127.0" width="13.0" height="16.0" rx="1.3" fill="#0000ff"/><rect x="342.7" y="131.3" width="7.4" height="7.4" fill="#fff"/>
<rect x="358.7" y="127.5" width="13.0" height="16.0" rx="1.3" fill="#0000ff"/><rect x="361.5" y="131.8" width="7.4" height="7.4" fill="#fff"/>
<rect x="377.2" y="128.0" width="13.0" height="16.0" rx="1.3" fill="#0000ff"/><rect x="380.0" y="132.3" width="7.4" height="7.4" fill="#fff"/>
<rect x="396.4" y="128.5" width="13.0" height="16.0" rx="1.3" fill="#0000ff"/><rect x="399.2" y="132.8" width="7.4" height="7.4" fill="#fff"/>
<rect x="415.2" y="129.0" width="13.0" height="16.0" rx="1.3" fill="#0000ff"/><rect x="418.0" y="133.3" width="7.4" height="7.4" fill="#fff"/>
<rect x="433.7" y="130.0" width="13.0" height="16.0" rx="1.3" fill="#0000ff"/><rect x="436.5" y="134.3" width="7.4" height="7.4" fill="#fff"/>
<rect x="452.5" y="130.5" width="13.0" height="16.0" rx="1.3" fill="#0000ff"/><rect x="455.3" y="134.8" width="7.4" height="7.4" fill="#fff"/>
<rect x="475.7" y="131.0" width="13.0" height="16.0" rx="1.3" fill="#0000ff"/><rect x="478.5" y="135.3" width="7.4" height="7.4" fill="#fff"/>
<rect x="495.9" y="131.0" width="13.0" height="16.0" rx="1.3" fill="#0000ff"/><rect x="498.7" y="135.3" width="7.4" height="7.4" fill="#fff"/>
<rect x="510.3" y="131.4" width="13.0" height="16.0" rx="1.3" fill="#0000ff"/><rect x="513.1" y="135.7" width="7.4" height="7.4" fill="#fff"/>
<rect x="530.6" y="131.4" width="13.0" height="16.0" rx="1.3" fill="#0000ff"/><rect x="533.4" y="135.7" width="7.4" height="7.4" fill="#fff"/>
<rect x="549.4" y="131.4" width="13.0" height="16.0" rx="1.3" fill="#0000ff"/><rect x="552.2" y="135.7" width="7.4" height="7.4" fill="#fff"/>
<rect x="572.5" y="131.4" width="13.0" height="16.0" rx="1.3" fill="#0000ff"/><rect x="575.3" y="135.7" width="7.4" height="7.4" fill="#fff"/>
<rect x="591.3" y="131.4" width="13.0" height="16.0" rx="1.3" fill="#0000ff"/><rect x="594.1" y="135.7" width="7.4" height="7.4" fill="#fff"/>
<rect x="610.1" y="131.4" width="13.0" height="16.0" rx="1.3" fill="#0000ff"/><rect x="612.9" y="135.7" width="7.4" height="7.4" fill="#fff"/>
<rect x="628.9" y="132.8" width="13.0" height="16.0" rx="1.3" fill="#0000ff"/><rect x="631.7" y="137.1" width="7.4" height="7.4" fill="#fff"/>
<rect x="649.5" y="132.2" width="13.0" height="16.0" rx="1.3" fill="#0000ff"/><rect x="652.3" y="136.5" width="7.4" height="7.4" fill="#fff"/>
<rect x="667.9" y="132.4" width="13.0" height="16.0" rx="1.3" fill="#0000ff"/><rect x="670.7" y="136.7" width="7.4" height="7.4" fill="#fff"/>
<rect x="686.3" y="129.2" width="13.0" height="16.0" rx="1.3" fill="#0000ff"/><rect x="689.1" y="133.5" width="7.4" height="7.4" fill="#fff"/>
<rect x="706.5" y="125.7" width="13.0" height="16.0" rx="1.3" fill="#0000ff"/><rect x="709.3" y="130.0" width="7.4" height="7.4" fill="#fff"/>
<rect x="725.3" y="119.8" width="13.0" height="16.0" rx="1.3" fill="#0000ff"/><rect x="728.1" y="124.1" width="7.4" height="7.4" fill="#fff"/>
<rect x="744.1" y="114.9" width="13.0" height="16.0" rx="1.3" fill="#0000ff"/><rect x="746.9" y="119.2" width="7.4" height="7.4" fill="#fff"/>
<rect x="764.3" y="109.8" width="13.0" height="16.0" rx="1.3" fill="#0000ff"/><rect x="767.1" y="114.1" width="7.4" height="7.4" fill="#fff"/>
<rect x="783.1" y="107.7" width="13.0" height="16.0" rx="1.3" fill="#0000ff"/><rect x="785.9" y="112.0" width="7.4" height="7.4" fill="#fff"/>
<rect x="803.0" y="103.7" width="13.0" height="16.0" rx="1.3" fill="#0000ff"/><rect x="805.8" y="108.0" width="7.4" height="7.4" fill="#fff"/>
<rect x="821.0" y="97.5" width="13.0" height="16.0" rx="1.3" fill="#0000ff"/><rect x="823.8" y="101.8" width="7.4" height="7.4" fill="#fff"/>
<rect x="839.5" y="93.7" width="13.0" height="16.0" rx="1.3" fill="#0000ff"/><rect x="842.3" y="98.0" width="7.4" height="7.4" fill="#fff"/>
<rect x="859.1" y="88.3" width="13.0" height="16.0" rx="1.3" fill="#0000ff"/><rect x="861.9" y="92.6" width="7.4" height="7.4" fill="#fff"/>
<rect x="877.1" y="84.8" width="13.0" height="16.0" rx="1.3" fill="#0000ff"/><rect x="879.9" y="89.1" width="7.4" height="7.4" fill="#fff"/>
<rect x="893.3" y="80.3" width="13.0" height="16.0" rx="1.3" fill="#0000ff"/><rect x="896.1" y="84.6" width="7.4" height="7.4" fill="#fff"/>
<rect x="195.6" y="69.8" width="725.6" height="530.9" fill="none" stroke="#000" stroke-width="4.3"/>
<line x1="182.3" y1="504.0" x2="196" y2="504.0" stroke="#000" stroke-width="4"/>
<line x1="182.3" y1="318.4" x2="196" y2="318.4" stroke="#000" stroke-width="4"/>
<line x1="182.3" y1="132.8" x2="196" y2="132.8" stroke="#000" stroke-width="4"/>
<line x1="187.8" y1="601.0" x2="196" y2="601.0" stroke="#000" stroke-width="3.4"/>
<line x1="187.8" y1="577.9" x2="196" y2="577.9" stroke="#000" stroke-width="3.4"/>
<line x1="187.8" y1="559.9" x2="196" y2="559.9" stroke="#000" stroke-width="3.4"/>
<line x1="187.8" y1="545.2" x2="196" y2="545.2" stroke="#000" stroke-width="3.4"/>
<line x1="187.8" y1="532.7" x2="196" y2="532.7" stroke="#000" stroke-width="3.4"/>
<line x1="187.8" y1="522.0" x2="196" y2="522.0" stroke="#000" stroke-width="3.4"/>
<line x1="187.8" y1="512.5" x2="196" y2="512.5" stroke="#000" stroke-width="3.4"/>
<line x1="187.8" y1="448.1" x2="196" y2="448.1" stroke="#000" stroke-width="3.4"/>
<line x1="187.8" y1="415.4" x2="196" y2="415.4" stroke="#000" stroke-width="3.4"/>
<line x1="187.8" y1="392.3" x2="196" y2="392.3" stroke="#000" stroke-width="3.4"/>
<line x1="187.8" y1="374.3" x2="196" y2="374.3" stroke="#000" stroke-width="3.4"/>
<line x1="187.8" y1="359.6" x2="196" y2="359.6" stroke="#000" stroke-width="3.4"/>
<line x1="187.8" y1="347.1" x2="196" y2="347.1" stroke="#000" stroke-width="3.4"/>
<line x1="187.8" y1="336.4" x2="196" y2="336.4" stroke="#000" stroke-width="3.4"/>
<line x1="187.8" y1="326.9" x2="196" y2="326.9" stroke="#000" stroke-width="3.4"/>
<line x1="187.8" y1="262.5" x2="196" y2="262.5" stroke="#000" stroke-width="3.4"/>
<line x1="187.8" y1="229.8" x2="196" y2="229.8" stroke="#000" stroke-width="3.4"/>
<line x1="187.8" y1="206.7" x2="196" y2="206.7" stroke="#000" stroke-width="3.4"/>
<line x1="187.8" y1="188.7" x2="196" y2="188.7" stroke="#000" stroke-width="3.4"/>
<line x1="187.8" y1="174.0" x2="196" y2="174.0" stroke="#000" stroke-width="3.4"/>
<line x1="187.8" y1="161.5" x2="196" y2="161.5" stroke="#000" stroke-width="3.4"/>
<line x1="187.8" y1="150.8" x2="196" y2="150.8" stroke="#000" stroke-width="3.4"/>
<line x1="187.8" y1="141.3" x2="196" y2="141.3" stroke="#000" stroke-width="3.4"/>
<line x1="187.8" y1="76.9" x2="196" y2="76.9" stroke="#000" stroke-width="3.4"/>
<line x1="203.6" y1="600" x2="203.6" y2="613" stroke="#000" stroke-width="4"/>
<line x1="396.9" y1="600" x2="396.9" y2="613" stroke="#000" stroke-width="4"/>
<line x1="590.2" y1="600" x2="590.2" y2="613" stroke="#000" stroke-width="4"/>
<line x1="783.5" y1="600" x2="783.5" y2="613" stroke="#000" stroke-width="4"/>
<line x1="261.8" y1="600" x2="261.8" y2="607.5" stroke="#000" stroke-width="3.4"/>
<line x1="295.8" y1="600" x2="295.8" y2="607.5" stroke="#000" stroke-width="3.4"/>
<line x1="320.0" y1="600" x2="320.0" y2="607.5" stroke="#000" stroke-width="3.4"/>
<line x1="338.7" y1="600" x2="338.7" y2="607.5" stroke="#000" stroke-width="3.4"/>
<line x1="354.0" y1="600" x2="354.0" y2="607.5" stroke="#000" stroke-width="3.4"/>
<line x1="367.0" y1="600" x2="367.0" y2="607.5" stroke="#000" stroke-width="3.4"/>
<line x1="378.2" y1="600" x2="378.2" y2="607.5" stroke="#000" stroke-width="3.4"/>
<line x1="388.1" y1="600" x2="388.1" y2="607.5" stroke="#000" stroke-width="3.4"/>
<line x1="455.1" y1="600" x2="455.1" y2="607.5" stroke="#000" stroke-width="3.4"/>
<line x1="489.1" y1="600" x2="489.1" y2="607.5" stroke="#000" stroke-width="3.4"/>
<line x1="513.3" y1="600" x2="513.3" y2="607.5" stroke="#000" stroke-width="3.4"/>
<line x1="532.0" y1="600" x2="532.0" y2="607.5" stroke="#000" stroke-width="3.4"/>
<line x1="547.3" y1="600" x2="547.3" y2="607.5" stroke="#000" stroke-width="3.4"/>
<line x1="560.3" y1="600" x2="560.3" y2="607.5" stroke="#000" stroke-width="3.4"/>
<line x1="571.5" y1="600" x2="571.5" y2="607.5" stroke="#000" stroke-width="3.4"/>
<line x1="581.4" y1="600" x2="581.4" y2="607.5" stroke="#000" stroke-width="3.4"/>
<line x1="648.4" y1="600" x2="648.4" y2="607.5" stroke="#000" stroke-width="3.4"/>
<line x1="682.4" y1="600" x2="682.4" y2="607.5" stroke="#000" stroke-width="3.4"/>
<line x1="706.6" y1="600" x2="706.6" y2="607.5" stroke="#000" stroke-width="3.4"/>
<line x1="725.3" y1="600" x2="725.3" y2="607.5" stroke="#000" stroke-width="3.4"/>
<line x1="740.6" y1="600" x2="740.6" y2="607.5" stroke="#000" stroke-width="3.4"/>
<line x1="753.6" y1="600" x2="753.6" y2="607.5" stroke="#000" stroke-width="3.4"/>
<line x1="764.8" y1="600" x2="764.8" y2="607.5" stroke="#000" stroke-width="3.4"/>
<line x1="774.7" y1="600" x2="774.7" y2="607.5" stroke="#000" stroke-width="3.4"/>
<line x1="841.7" y1="600" x2="841.7" y2="607.5" stroke="#000" stroke-width="3.4"/>
<line x1="875.7" y1="600" x2="875.7" y2="607.5" stroke="#000" stroke-width="3.4"/>
<line x1="899.9" y1="600" x2="899.9" y2="607.5" stroke="#000" stroke-width="3.4"/>
<line x1="918.6" y1="600" x2="918.6" y2="607.5" stroke="#000" stroke-width="3.4"/>
<text x="116" y="147.4" font-family="Liberation Sans" font-size="41" font-weight="bold" font-style="normal" text-anchor="start" fill="#000" clip-path="url(#c1b)">1</text><text x="138.8" y="147.4" font-family="Liberation Sans" font-size="41" font-weight="bold" font-style="normal" text-anchor="start" fill="#000" >0</text>
<text x="161.8" y="126.6" font-family="Liberation Sans" font-size="25" font-weight="bold" font-style="normal" text-anchor="start" fill="#000" >2</text>
<text x="116" y="333.0" font-family="Liberation Sans" font-size="41" font-weight="bold" font-style="normal" text-anchor="start" fill="#000" clip-path="url(#c1b)">1</text><text x="138.8" y="333.0" font-family="Liberation Sans" font-size="41" font-weight="bold" font-style="normal" text-anchor="start" fill="#000" >0</text>
<text x="161.8" y="312.2" font-family="Liberation Sans" font-size="25" font-weight="bold" font-style="normal" text-anchor="start" fill="#000" clip-path="url(#c1b)">1</text>
<text x="116" y="518.6" font-family="Liberation Sans" font-size="41" font-weight="bold" font-style="normal" text-anchor="start" fill="#000" clip-path="url(#c1b)">1</text><text x="138.8" y="518.6" font-family="Liberation Sans" font-size="41" font-weight="bold" font-style="normal" text-anchor="start" fill="#000" >0</text>
<text x="161.8" y="497.8" font-family="Liberation Sans" font-size="25" font-weight="bold" font-style="normal" text-anchor="start" fill="#000" >0</text>
<text x="167.6" y="659.5" font-family="Liberation Sans" font-size="42" font-weight="bold" font-style="normal" text-anchor="start" fill="#000" clip-path="url(#c1b)">1</text><text x="190.95" y="659.5" font-family="Liberation Sans" font-size="42" font-weight="bold" font-style="normal" text-anchor="start" fill="#000" >0</text>
<text x="213.5" y="642.4" font-family="Liberation Sans" font-size="25" font-weight="bold" font-style="normal" text-anchor="start" fill="#000" >−</text><text x="228.1" y="642.4" font-family="Liberation Sans" font-size="25" font-weight="bold" font-style="normal" text-anchor="start" fill="#000" clip-path="url(#c1b)">1</text>
<text x="365.1" y="659.5" font-family="Liberation Sans" font-size="42" font-weight="bold" font-style="normal" text-anchor="start" fill="#000" clip-path="url(#c1b)">1</text><text x="388.45" y="659.5" font-family="Liberation Sans" font-size="42" font-weight="bold" font-style="normal" text-anchor="start" fill="#000" >0</text>
<text x="412.8" y="639" font-family="Liberation Sans" font-size="25" font-weight="bold" font-style="normal" text-anchor="start" fill="#000" >0</text>
<text x="558.3" y="659.5" font-family="Liberation Sans" font-size="42" font-weight="bold" font-style="normal" text-anchor="start" fill="#000" clip-path="url(#c1b)">1</text><text x="581.65" y="659.5" font-family="Liberation Sans" font-size="42" font-weight="bold" font-style="normal" text-anchor="start" fill="#000" >0</text>
<text x="606" y="639" font-family="Liberation Sans" font-size="25" font-weight="bold" font-style="normal" text-anchor="start" fill="#000" clip-path="url(#c1b)">1</text>
<text x="751.6" y="659.5" font-family="Liberation Sans" font-size="42" font-weight="bold" font-style="normal" text-anchor="start" fill="#000" clip-path="url(#c1b)">1</text><text x="774.95" y="659.5" font-family="Liberation Sans" font-size="42" font-weight="bold" font-style="normal" text-anchor="start" fill="#000" >0</text>
<text x="799.3" y="639" font-family="Liberation Sans" font-size="25" font-weight="bold" font-style="normal" text-anchor="start" fill="#000" >2</text>
<g transform="translate(102,519) rotate(-90)"><text x="0" y="0" font-family="Liberation Sans" font-size="42" font-weight="bold" font-style="normal" text-anchor="start" fill="#000" >Shear stress (Pa)</text></g>
<text x="406.7" y="712.8" font-family="Liberation Sans" font-size="42" font-weight="bold" font-style="normal" text-anchor="start" fill="#000" >Shear rate (s</text><text x="661" y="703.4" font-family="Liberation Sans" font-size="25" font-weight="bold" font-style="normal" text-anchor="start" fill="#000" >−</text><text x="675.6" y="703.4" font-family="Liberation Sans" font-size="25" font-weight="bold" font-style="normal" text-anchor="start" fill="#000" clip-path="url(#c1b)">1</text><text x="695" y="712.8" font-family="Liberation Sans" font-size="42" font-weight="bold" font-style="normal" text-anchor="start" fill="#000" >)</text>
<line x1="222" y1="461.4" x2="287.5" y2="461.4" stroke="#000000" stroke-width="3.8"/>
<ellipse cx="254.5" cy="461.4" rx="8.2" ry="8.6" fill="#000000"/>
<text x="292.3" y="469.7" font-family="Liberation Sans" font-size="22" font-weight="bold" font-style="normal" text-anchor="start" fill="#000" letter-spacing="1">CSNP</text>
<line x1="222" y1="496.3" x2="287.5" y2="496.3" stroke="#0000ff" stroke-width="3.8"/>
<rect x="247.2" y="488.1" width="14.6" height="16.4" rx="1.3" fill="#0000ff"/>
<text x="292.3" y="504.6" font-family="Liberation Sans" font-size="22" font-weight="bold" font-style="normal" text-anchor="start" fill="#000" letter-spacing="1">PT-CSNP</text>
<line x1="222" y1="531.5" x2="287.5" y2="531.5" stroke="#ff7f00" stroke-width="3.8"/>
<polygon points="244.0,522.5 265.0,522.5 254.5,540.5" fill="#ff7f00" stroke="#ff7f00" stroke-width="1" stroke-linejoin="round"/>
<text x="292.3" y="539.8" font-family="Liberation Sans" font-size="22" font-weight="bold" font-style="normal" text-anchor="start" fill="#000" letter-spacing="1">PPy-CSNP</text>
<line x1="222" y1="567.5" x2="287.5" y2="567.5" stroke="#008000" stroke-width="3.8"/>
<polygon points="244.2,576.8 264.8,576.8 254.5,558.2" fill="#008000" stroke="#008000" stroke-width="1" stroke-linejoin="round"/>
<text x="292.3" y="575.8" font-family="Liberation Sans" font-size="22" font-weight="bold" font-style="normal" text-anchor="start" fill="#000" letter-spacing="1">PANI-CSNP</text>
<line x1="444" y1="461.4" x2="509.5" y2="461.4" stroke="#000000" stroke-width="3.8"/>
<ellipse cx="476.8" cy="461.4" rx="5.6" ry="6.3" fill="#fff" stroke="#000000" stroke-width="3.6"/>
<text x="514.2" y="469.7" font-family="Liberation Sans" font-size="22" font-weight="bold" font-style="normal" text-anchor="start" fill="#000" letter-spacing="1">HNP</text>
<line x1="444" y1="496.3" x2="509.5" y2="496.3" stroke="#0000ff" stroke-width="3.8"/>
<rect x="470.3" y="488.3" width="13.0" height="16.0" rx="1.3" fill="#0000ff"/><rect x="473.1" y="492.6" width="7.4" height="7.4" fill="#fff"/>
<text x="514.2" y="504.6" font-family="Liberation Sans" font-size="22" font-weight="bold" font-style="normal" text-anchor="start" fill="#000" letter-spacing="1">PT-HNP</text>
<line x1="444" y1="531.5" x2="509.5" y2="531.5" stroke="#ff7f00" stroke-width="3.8"/>
<polygon points="468.1,522.0 485.6,522.0 476.8,541.0" fill="#ff7f00" stroke="#ff7f00" stroke-width="1" stroke-linejoin="round"/><polygon points="471.7,526.2 481.9,526.2 476.8,534.0" fill="#fff" />
<text x="514.2" y="539.8" font-family="Liberation Sans" font-size="22" font-weight="bold" font-style="normal" text-anchor="start" fill="#000" letter-spacing="1">PPy-HNP</text>
<line x1="444" y1="567.5" x2="509.5" y2="567.5" stroke="#008000" stroke-width="3.8"/>
<polygon points="467.6,577.0 486.1,577.0 476.8,558.0" fill="#008000" stroke="#008000" stroke-width="1" stroke-linejoin="round"/><polygon points="472.2,573.0 481.4,573.0 476.8,563.8" fill="#fff" />
<text x="514.2" y="575.8" font-family="Liberation Sans" font-size="22" font-weight="bold" font-style="normal" text-anchor="start" fill="#000" letter-spacing="1">PANI-HNP</text>
<text x="10.5" y="836" font-family="Liberation Sans" font-size="60" font-weight="bold" font-style="normal" text-anchor="start" fill="#000" >(b)</text>
<rect x="273.3" y="884" width="252.8" height="532" fill="#fffccc"/>
<rect x="592.6" y="884" width="251.8" height="532" fill="#fffccc"/>
<clipPath id="cb"><rect x="196" y="885" width="725" height="531"/></clipPath>
<g clip-path="url(#cb)">
<polyline points="218.2,1365.2 225.1,1365.3 231.3,1364.9 236.9,1364.7 243.3,1364.8 249.7,1365.3 256.6,1364.3 262.5,1365.1 269.6,1364.1 276.5,1363.1 283.5,1360.2 289.7,1359.4 295.0,1359.1 301.6,1357.9 307.7,1357.9 314.8,1357.9 321.0,1358.0 326.6,1357.5 333.9,1356.9 339.7,1356.4 346.3,1356.5 353.2,1355.6 358.7,1355.5 365.5,1354.8 372.2,1355.3 378.9,1355.2 384.4,1353.8 390.4,1354.1 396.6,1353.4 404.1,1353.4 410.6,1353.8 416.7,1353.0 422.9,1353.1 429.6,1351.8 435.4,1352.3 441.2,1352.0 448.4,1351.1 455.0,1352.6 460.7,1351.5 466.5,1351.8 473.1,1352.5 479.3,1350.7 485.8,1351.8 492.6,1350.1 498.4,1351.1 505.5,1349.9 512.3,1349.9 517.8,1350.9 524.3,1349.7 530.3,1361.8 534.2,1365.1 540.0,1364.7 546.9,1365.0 552.4,1364.8 559.3,1364.6 566.6,1364.4 572.3,1364.5 578.9,1365.3 585.6,1364.3 593.8,1361.5 599.4,1354.6 605.4,1353.1 611.7,1354.1 618.2,1353.8 624.8,1354.0 630.6,1353.7 637.2,1353.1 643.4,1351.8 650.7,1353.5 656.5,1353.0 663.0,1353.5 670.1,1351.3 675.9,1352.5 681.7,1353.3 688.4,1352.9 695.5,1353.1 700.7,1351.1 707.8,1353.0 714.2,1353.2 720.5,1350.9 727.4,1351.5 732.8,1352.3 739.1,1351.2 746.0,1351.2 752.0,1352.4 759.1,1350.6 765.5,1350.9 771.9,1351.0 777.3,1351.5 783.9,1352.6 789.7,1352.0 796.5,1350.9 803.9,1351.5 810.2,1350.1 816.6,1351.5 821.8,1351.8 828.2,1351.8 835.2,1350.1 841.9,1351.0 846.0,1359.1 850.9,1363.5 857.9,1364.3 863.4,1364.7 868.9,1364.3 875.5,1364.3 882.8,1364.8 888.3,1364.1 895.1,1365.2 900.6,1365.2 908.1,1364.3" fill="none" stroke="#000000" stroke-width="3.6" stroke-linejoin="round"/>
<ellipse cx="218.2" cy="1365.2" rx="8.0" ry="8.2" fill="#000000"/>
<ellipse cx="225.1" cy="1365.3" rx="8.0" ry="8.2" fill="#000000"/>
<ellipse cx="231.3" cy="1364.9" rx="8.0" ry="8.2" fill="#000000"/>
<ellipse cx="236.9" cy="1364.7" rx="8.0" ry="8.2" fill="#000000"/>
<ellipse cx="243.3" cy="1364.8" rx="8.0" ry="8.2" fill="#000000"/>
<ellipse cx="249.7" cy="1365.3" rx="8.0" ry="8.2" fill="#000000"/>
<ellipse cx="256.6" cy="1364.3" rx="8.0" ry="8.2" fill="#000000"/>
<ellipse cx="262.5" cy="1365.1" rx="8.0" ry="8.2" fill="#000000"/>
<ellipse cx="269.6" cy="1364.1" rx="8.0" ry="8.2" fill="#000000"/>
<ellipse cx="276.5" cy="1363.1" rx="8.0" ry="8.2" fill="#000000"/>
<ellipse cx="283.5" cy="1360.2" rx="8.0" ry="8.2" fill="#000000"/>
<ellipse cx="289.7" cy="1359.4" rx="8.0" ry="8.2" fill="#000000"/>
<ellipse cx="295.0" cy="1359.1" rx="8.0" ry="8.2" fill="#000000"/>
<ellipse cx="301.6" cy="1357.9" rx="8.0" ry="8.2" fill="#000000"/>
<ellipse cx="307.7" cy="1357.9" rx="8.0" ry="8.2" fill="#000000"/>
<ellipse cx="314.8" cy="1357.9" rx="8.0" ry="8.2" fill="#000000"/>
<ellipse cx="321.0" cy="1358.0" rx="8.0" ry="8.2" fill="#000000"/>
<ellipse cx="326.6" cy="1357.5" rx="8.0" ry="8.2" fill="#000000"/>
<ellipse cx="333.9" cy="1356.9" rx="8.0" ry="8.2" fill="#000000"/>
<ellipse cx="339.7" cy="1356.4" rx="8.0" ry="8.2" fill="#000000"/>
<ellipse cx="346.3" cy="1356.5" rx="8.0" ry="8.2" fill="#000000"/>
<ellipse cx="353.2" cy="1355.6" rx="8.0" ry="8.2" fill="#000000"/>
<ellipse cx="358.7" cy="1355.5" rx="8.0" ry="8.2" fill="#000000"/>
<ellipse cx="365.5" cy="1354.8" rx="8.0" ry="8.2" fill="#000000"/>
<ellipse cx="372.2" cy="1355.3" rx="8.0" ry="8.2" fill="#000000"/>
<ellipse cx="378.9" cy="1355.2" rx="8.0" ry="8.2" fill="#000000"/>
<ellipse cx="384.4" cy="1353.8" rx="8.0" ry="8.2" fill="#000000"/>
<ellipse cx="390.4" cy="1354.1" rx="8.0" ry="8.2" fill="#000000"/>
<ellipse cx="396.6" cy="1353.4" rx="8.0" ry="8.2" fill="#000000"/>
<ellipse cx="404.1" cy="1353.4" rx="8.0" ry="8.2" fill="#000000"/>
<ellipse cx="410.6" cy="1353.8" rx="8.0" ry="8.2" fill="#000000"/>
<ellipse cx="416.7" cy="1353.0" rx="8.0" ry="8.2" fill="#000000"/>
<ellipse cx="422.9" cy="1353.1" rx="8.0" ry="8.2" fill="#000000"/>
<ellipse cx="429.6" cy="1351.8" rx="8.0" ry="8.2" fill="#000000"/>
<ellipse cx="435.4" cy="1352.3" rx="8.0" ry="8.2" fill="#000000"/>
<ellipse cx="441.2" cy="1352.0" rx="8.0" ry="8.2" fill="#000000"/>
<ellipse cx="448.4" cy="1351.1" rx="8.0" ry="8.2" fill="#000000"/>
<ellipse cx="455.0" cy="1352.6" rx="8.0" ry="8.2" fill="#000000"/>
<ellipse cx="460.7" cy="1351.5" rx="8.0" ry="8.2" fill="#000000"/>
<ellipse cx="466.5" cy="1351.8" rx="8.0" ry="8.2" fill="#000000"/>
<ellipse cx="473.1" cy="1352.5" rx="8.0" ry="8.2" fill="#000000"/>
<ellipse cx="479.3" cy="1350.7" rx="8.0" ry="8.2" fill="#000000"/>
<ellipse cx="485.8" cy="1351.8" rx="8.0" ry="8.2" fill="#000000"/>
<ellipse cx="492.6" cy="1350.1" rx="8.0" ry="8.2" fill="#000000"/>
<ellipse cx="498.4" cy="1351.1" rx="8.0" ry="8.2" fill="#000000"/>
<ellipse cx="505.5" cy="1349.9" rx="8.0" ry="8.2" fill="#000000"/>
<ellipse cx="512.3" cy="1349.9" rx="8.0" ry="8.2" fill="#000000"/>
<ellipse cx="517.8" cy="1350.9" rx="8.0" ry="8.2" fill="#000000"/>
<ellipse cx="524.3" cy="1349.7" rx="8.0" ry="8.2" fill="#000000"/>
<ellipse cx="530.3" cy="1361.8" rx="8.0" ry="8.2" fill="#000000"/>
<ellipse cx="534.2" cy="1365.1" rx="8.0" ry="8.2" fill="#000000"/>
<ellipse cx="540.0" cy="1364.7" rx="8.0" ry="8.2" fill="#000000"/>
<ellipse cx="546.9" cy="1365.0" rx="8.0" ry="8.2" fill="#000000"/>
<ellipse cx="552.4" cy="1364.8" rx="8.0" ry="8.2" fill="#000000"/>
<ellipse cx="559.3" cy="1364.6" rx="8.0" ry="8.2" fill="#000000"/>
<ellipse cx="566.6" cy="1364.4" rx="8.0" ry="8.2" fill="#000000"/>
<ellipse cx="572.3" cy="1364.5" rx="8.0" ry="8.2" fill="#000000"/>
<ellipse cx="578.9" cy="1365.3" rx="8.0" ry="8.2" fill="#000000"/>
<ellipse cx="585.6" cy="1364.3" rx="8.0" ry="8.2" fill="#000000"/>
<ellipse cx="593.8" cy="1361.5" rx="8.0" ry="8.2" fill="#000000"/>
<ellipse cx="599.4" cy="1354.6" rx="8.0" ry="8.2" fill="#000000"/>
<ellipse cx="605.4" cy="1353.1" rx="8.0" ry="8.2" fill="#000000"/>
<ellipse cx="611.7" cy="1354.1" rx="8.0" ry="8.2" fill="#000000"/>
<ellipse cx="618.2" cy="1353.8" rx="8.0" ry="8.2" fill="#000000"/>
<ellipse cx="624.8" cy="1354.0" rx="8.0" ry="8.2" fill="#000000"/>
<ellipse cx="630.6" cy="1353.7" rx="8.0" ry="8.2" fill="#000000"/>
<ellipse cx="637.2" cy="1353.1" rx="8.0" ry="8.2" fill="#000000"/>
<ellipse cx="643.4" cy="1351.8" rx="8.0" ry="8.2" fill="#000000"/>
<ellipse cx="650.7" cy="1353.5" rx="8.0" ry="8.2" fill="#000000"/>
<ellipse cx="656.5" cy="1353.0" rx="8.0" ry="8.2" fill="#000000"/>
<ellipse cx="663.0" cy="1353.5" rx="8.0" ry="8.2" fill="#000000"/>
<ellipse cx="670.1" cy="1351.3" rx="8.0" ry="8.2" fill="#000000"/>
<ellipse cx="675.9" cy="1352.5" rx="8.0" ry="8.2" fill="#000000"/>
<ellipse cx="681.7" cy="1353.3" rx="8.0" ry="8.2" fill="#000000"/>
<ellipse cx="688.4" cy="1352.9" rx="8.0" ry="8.2" fill="#000000"/>
<ellipse cx="695.5" cy="1353.1" rx="8.0" ry="8.2" fill="#000000"/>
<ellipse cx="700.7" cy="1351.1" rx="8.0" ry="8.2" fill="#000000"/>
<ellipse cx="707.8" cy="1353.0" rx="8.0" ry="8.2" fill="#000000"/>
<ellipse cx="714.2" cy="1353.2" rx="8.0" ry="8.2" fill="#000000"/>
<ellipse cx="720.5" cy="1350.9" rx="8.0" ry="8.2" fill="#000000"/>
<ellipse cx="727.4" cy="1351.5" rx="8.0" ry="8.2" fill="#000000"/>
<ellipse cx="732.8" cy="1352.3" rx="8.0" ry="8.2" fill="#000000"/>
<ellipse cx="739.1" cy="1351.2" rx="8.0" ry="8.2" fill="#000000"/>
<ellipse cx="746.0" cy="1351.2" rx="8.0" ry="8.2" fill="#000000"/>
<ellipse cx="752.0" cy="1352.4" rx="8.0" ry="8.2" fill="#000000"/>
<ellipse cx="759.1" cy="1350.6" rx="8.0" ry="8.2" fill="#000000"/>
<ellipse cx="765.5" cy="1350.9" rx="8.0" ry="8.2" fill="#000000"/>
<ellipse cx="771.9" cy="1351.0" rx="8.0" ry="8.2" fill="#000000"/>
<ellipse cx="777.3" cy="1351.5" rx="8.0" ry="8.2" fill="#000000"/>
<ellipse cx="783.9" cy="1352.6" rx="8.0" ry="8.2" fill="#000000"/>
<ellipse cx="789.7" cy="1352.0" rx="8.0" ry="8.2" fill="#000000"/>
<ellipse cx="796.5" cy="1350.9" rx="8.0" ry="8.2" fill="#000000"/>
<ellipse cx="803.9" cy="1351.5" rx="8.0" ry="8.2" fill="#000000"/>
<ellipse cx="810.2" cy="1350.1" rx="8.0" ry="8.2" fill="#000000"/>
<ellipse cx="816.6" cy="1351.5" rx="8.0" ry="8.2" fill="#000000"/>
<ellipse cx="821.8" cy="1351.8" rx="8.0" ry="8.2" fill="#000000"/>
<ellipse cx="828.2" cy="1351.8" rx="8.0" ry="8.2" fill="#000000"/>
<ellipse cx="835.2" cy="1350.1" rx="8.0" ry="8.2" fill="#000000"/>
<ellipse cx="841.9" cy="1351.0" rx="8.0" ry="8.2" fill="#000000"/>
<ellipse cx="846.0" cy="1359.1" rx="8.0" ry="8.2" fill="#000000"/>
<ellipse cx="850.9" cy="1363.5" rx="8.0" ry="8.2" fill="#000000"/>
<ellipse cx="857.9" cy="1364.3" rx="8.0" ry="8.2" fill="#000000"/>
<ellipse cx="863.4" cy="1364.7" rx="8.0" ry="8.2" fill="#000000"/>
<ellipse cx="868.9" cy="1364.3" rx="8.0" ry="8.2" fill="#000000"/>
<ellipse cx="875.5" cy="1364.3" rx="8.0" ry="8.2" fill="#000000"/>
<ellipse cx="882.8" cy="1364.8" rx="8.0" ry="8.2" fill="#000000"/>
<ellipse cx="888.3" cy="1364.1" rx="8.0" ry="8.2" fill="#000000"/>
<ellipse cx="895.1" cy="1365.2" rx="8.0" ry="8.2" fill="#000000"/>
<ellipse cx="900.6" cy="1365.2" rx="8.0" ry="8.2" fill="#000000"/>
<ellipse cx="908.1" cy="1364.3" rx="8.0" ry="8.2" fill="#000000"/>
<polyline points="218.0,1360.8 225.6,1361.1 231.0,1361.2 237.0,1361.9 244.7,1361.1 250.4,1360.7 256.6,1360.8 263.5,1361.7 269.0,1361.6 276.0,1357.7 282.4,1346.4 288.6,1341.6 295.3,1341.6 302.0,1340.5 308.1,1340.2 314.6,1340.7 321.0,1341.6 327.2,1341.0 332.9,1339.5 339.5,1340.0 346.7,1339.8 352.5,1339.8 359.2,1339.2 364.9,1339.6 371.5,1340.1 378.6,1339.6 384.7,1339.0 391.6,1339.6 397.5,1339.4 403.7,1339.0 409.9,1339.3 416.3,1338.4 423.0,1338.5 429.8,1339.7 435.6,1338.2 442.3,1339.8 447.6,1339.1 453.9,1339.5 460.3,1338.5 467.7,1338.0 473.1,1338.3 480.2,1339.4 486.9,1337.7 492.3,1337.7 498.9,1338.6 506.2,1337.8 511.3,1338.6 518.2,1338.7 524.1,1338.7 530.0,1358.5 534.8,1361.4 539.7,1361.5 547.0,1361.3 552.5,1360.6 560.0,1360.6 565.3,1361.6 571.5,1360.9 578.3,1361.8 584.8,1360.7 593.7,1358.2 599.1,1341.9 606.1,1339.7 611.7,1339.9 619.0,1339.1 624.4,1337.9 631.6,1338.2 637.1,1338.0 643.5,1337.9 650.4,1339.0 656.9,1337.7 662.9,1339.3 669.6,1339.0 675.3,1339.1 681.6,1339.0 688.4,1338.7 695.4,1338.7 701.4,1338.8 707.5,1339.1 713.7,1339.1 720.8,1337.9 726.4,1338.0 733.9,1338.7 740.1,1338.0 745.9,1337.1 752.1,1337.7 758.9,1336.7 764.8,1336.9 771.7,1337.3 777.6,1337.8 783.4,1338.2 789.8,1336.9 796.4,1338.0 802.5,1336.6 810.1,1336.9 815.6,1337.7 822.0,1337.2 828.1,1337.2 834.6,1336.0 842.1,1336.8 845.4,1353.8 851.2,1360.8 856.5,1361.4 862.9,1361.3 868.9,1361.3 875.0,1361.6 881.4,1361.4 887.7,1361.9 894.5,1361.6 901.3,1361.2 907.9,1361.1" fill="none" stroke="#008000" stroke-width="3.6" stroke-linejoin="round"/>
<polygon points="207.5,1370.3 228.5,1370.3 218.0,1351.3" fill="#008000" stroke="#008000" stroke-width="1" stroke-linejoin="round"/>
<polygon points="215.1,1370.6 236.1,1370.6 225.6,1351.6" fill="#008000" stroke="#008000" stroke-width="1" stroke-linejoin="round"/>
<polygon points="220.5,1370.7 241.5,1370.7 231.0,1351.7" fill="#008000" stroke="#008000" stroke-width="1" stroke-linejoin="round"/>
<polygon points="226.5,1371.4 247.5,1371.4 237.0,1352.4" fill="#008000" stroke="#008000" stroke-width="1" stroke-linejoin="round"/>
<polygon points="234.2,1370.6 255.2,1370.6 244.7,1351.6" fill="#008000" stroke="#008000" stroke-width="1" stroke-linejoin="round"/>
<polygon points="239.9,1370.2 260.9,1370.2 250.4,1351.2" fill="#008000" stroke="#008000" stroke-width="1" stroke-linejoin="round"/>
<polygon points="246.1,1370.3 267.1,1370.3 256.6,1351.3" fill="#008000" stroke="#008000" stroke-width="1" stroke-linejoin="round"/>
<polygon points="253.0,1371.2 274.0,1371.2 263.5,1352.2" fill="#008000" stroke="#008000" stroke-width="1" stroke-linejoin="round"/>
<polygon points="258.5,1371.1 279.5,1371.1 269.0,1352.1" fill="#008000" stroke="#008000" stroke-width="1" stroke-linejoin="round"/>
<polygon points="265.5,1367.2 286.5,1367.2 276.0,1348.2" fill="#008000" stroke="#008000" stroke-width="1" stroke-linejoin="round"/>
<polygon points="271.9,1355.9 292.9,1355.9 282.4,1336.9" fill="#008000" stroke="#008000" stroke-width="1" stroke-linejoin="round"/>
<polygon points="278.1,1351.1 299.1,1351.1 288.6,1332.1" fill="#008000" stroke="#008000" stroke-width="1" stroke-linejoin="round"/>
<polygon points="284.8,1351.1 305.8,1351.1 295.3,1332.1" fill="#008000" stroke="#008000" stroke-width="1" stroke-linejoin="round"/>
<polygon points="291.5,1350.0 312.5,1350.0 302.0,1331.0" fill="#008000" stroke="#008000" stroke-width="1" stroke-linejoin="round"/>
<polygon points="297.6,1349.7 318.6,1349.7 308.1,1330.7" fill="#008000" stroke="#008000" stroke-width="1" stroke-linejoin="round"/>
<polygon points="304.1,1350.2 325.1,1350.2 314.6,1331.2" fill="#008000" stroke="#008000" stroke-width="1" stroke-linejoin="round"/>
<polygon points="310.5,1351.1 331.5,1351.1 321.0,1332.1" fill="#008000" stroke="#008000" stroke-width="1" stroke-linejoin="round"/>
<polygon points="316.7,1350.5 337.7,1350.5 327.2,1331.5" fill="#008000" stroke="#008000" stroke-width="1" stroke-linejoin="round"/>
<polygon points="322.4,1349.0 343.4,1349.0 332.9,1330.0" fill="#008000" stroke="#008000" stroke-width="1" stroke-linejoin="round"/>
<polygon points="329.0,1349.5 350.0,1349.5 339.5,1330.5" fill="#008000" stroke="#008000" stroke-width="1" stroke-linejoin="round"/>
<polygon points="336.2,1349.3 357.2,1349.3 346.7,1330.3" fill="#008000" stroke="#008000" stroke-width="1" stroke-linejoin="round"/>
<polygon points="342.0,1349.3 363.0,1349.3 352.5,1330.3" fill="#008000" stroke="#008000" stroke-width="1" stroke-linejoin="round"/>
<polygon points="348.7,1348.7 369.7,1348.7 359.2,1329.7" fill="#008000" stroke="#008000" stroke-width="1" stroke-linejoin="round"/>
<polygon points="354.4,1349.1 375.4,1349.1 364.9,1330.1" fill="#008000" stroke="#008000" stroke-width="1" stroke-linejoin="round"/>
<polygon points="361.0,1349.6 382.0,1349.6 371.5,1330.6" fill="#008000" stroke="#008000" stroke-width="1" stroke-linejoin="round"/>
<polygon points="368.1,1349.1 389.1,1349.1 378.6,1330.1" fill="#008000" stroke="#008000" stroke-width="1" stroke-linejoin="round"/>
<polygon points="374.2,1348.5 395.2,1348.5 384.7,1329.5" fill="#008000" stroke="#008000" stroke-width="1" stroke-linejoin="round"/>
<polygon points="381.1,1349.1 402.1,1349.1 391.6,1330.1" fill="#008000" stroke="#008000" stroke-width="1" stroke-linejoin="round"/>
<polygon points="387.0,1348.9 408.0,1348.9 397.5,1329.9" fill="#008000" stroke="#008000" stroke-width="1" stroke-linejoin="round"/>
<polygon points="393.2,1348.5 414.2,1348.5 403.7,1329.5" fill="#008000" stroke="#008000" stroke-width="1" stroke-linejoin="round"/>
<polygon points="399.4,1348.8 420.4,1348.8 409.9,1329.8" fill="#008000" stroke="#008000" stroke-width="1" stroke-linejoin="round"/>
<polygon points="405.8,1347.9 426.8,1347.9 416.3,1328.9" fill="#008000" stroke="#008000" stroke-width="1" stroke-linejoin="round"/>
<polygon points="412.5,1348.0 433.5,1348.0 423.0,1329.0" fill="#008000" stroke="#008000" stroke-width="1" stroke-linejoin="round"/>
<polygon points="419.3,1349.2 440.3,1349.2 429.8,1330.2" fill="#008000" stroke="#008000" stroke-width="1" stroke-linejoin="round"/>
<polygon points="425.1,1347.7 446.1,1347.7 435.6,1328.7" fill="#008000" stroke="#008000" stroke-width="1" stroke-linejoin="round"/>
<polygon points="431.8,1349.3 452.8,1349.3 442.3,1330.3" fill="#008000" stroke="#008000" stroke-width="1" stroke-linejoin="round"/>
<polygon points="437.1,1348.6 458.1,1348.6 447.6,1329.6" fill="#008000" stroke="#008000" stroke-width="1" stroke-linejoin="round"/>
<polygon points="443.4,1349.0 464.4,1349.0 453.9,1330.0" fill="#008000" stroke="#008000" stroke-width="1" stroke-linejoin="round"/>
<polygon points="449.8,1348.0 470.8,1348.0 460.3,1329.0" fill="#008000" stroke="#008000" stroke-width="1" stroke-linejoin="round"/>
<polygon points="457.2,1347.5 478.2,1347.5 467.7,1328.5" fill="#008000" stroke="#008000" stroke-width="1" stroke-linejoin="round"/>
<polygon points="462.6,1347.8 483.6,1347.8 473.1,1328.8" fill="#008000" stroke="#008000" stroke-width="1" stroke-linejoin="round"/>
<polygon points="469.7,1348.9 490.7,1348.9 480.2,1329.9" fill="#008000" stroke="#008000" stroke-width="1" stroke-linejoin="round"/>
<polygon points="476.4,1347.2 497.4,1347.2 486.9,1328.2" fill="#008000" stroke="#008000" stroke-width="1" stroke-linejoin="round"/>
<polygon points="481.8,1347.2 502.8,1347.2 492.3,1328.2" fill="#008000" stroke="#008000" stroke-width="1" stroke-linejoin="round"/>
<polygon points="488.4,1348.1 509.4,1348.1 498.9,1329.1" fill="#008000" stroke="#008000" stroke-width="1" stroke-linejoin="round"/>
<polygon points="495.7,1347.3 516.7,1347.3 506.2,1328.3" fill="#008000" stroke="#008000" stroke-width="1" stroke-linejoin="round"/>
<polygon points="500.8,1348.1 521.8,1348.1 511.3,1329.1" fill="#008000" stroke="#008000" stroke-width="1" stroke-linejoin="round"/>
<polygon points="507.7,1348.2 528.7,1348.2 518.2,1329.2" fill="#008000" stroke="#008000" stroke-width="1" stroke-linejoin="round"/>
<polygon points="513.6,1348.2 534.6,1348.2 524.1,1329.2" fill="#008000" stroke="#008000" stroke-width="1" stroke-linejoin="round"/>
<polygon points="519.5,1368.0 540.5,1368.0 530.0,1349.0" fill="#008000" stroke="#008000" stroke-width="1" stroke-linejoin="round"/>
<polygon points="524.3,1370.9 545.3,1370.9 534.8,1351.9" fill="#008000" stroke="#008000" stroke-width="1" stroke-linejoin="round"/>
<polygon points="529.2,1371.0 550.2,1371.0 539.7,1352.0" fill="#008000" stroke="#008000" stroke-width="1" stroke-linejoin="round"/>
<polygon points="536.5,1370.8 557.5,1370.8 547.0,1351.8" fill="#008000" stroke="#008000" stroke-width="1" stroke-linejoin="round"/>
<polygon points="542.0,1370.1 563.0,1370.1 552.5,1351.1" fill="#008000" stroke="#008000" stroke-width="1" stroke-linejoin="round"/>
<polygon points="549.5,1370.1 570.5,1370.1 560.0,1351.1" fill="#008000" stroke="#008000" stroke-width="1" stroke-linejoin="round"/>
<polygon points="554.8,1371.1 575.8,1371.1 565.3,1352.1" fill="#008000" stroke="#008000" stroke-width="1" stroke-linejoin="round"/>
<polygon points="561.0,1370.4 582.0,1370.4 571.5,1351.4" fill="#008000" stroke="#008000" stroke-width="1" stroke-linejoin="round"/>
<polygon points="567.8,1371.3 588.8,1371.3 578.3,1352.3" fill="#008000" stroke="#008000" stroke-width="1" stroke-linejoin="round"/>
<polygon points="574.3,1370.2 595.3,1370.2 584.8,1351.2" fill="#008000" stroke="#008000" stroke-width="1" stroke-linejoin="round"/>
<polygon points="583.2,1367.7 604.2,1367.7 593.7,1348.7" fill="#008000" stroke="#008000" stroke-width="1" stroke-linejoin="round"/>
<polygon points="588.6,1351.4 609.6,1351.4 599.1,1332.4" fill="#008000" stroke="#008000" stroke-width="1" stroke-linejoin="round"/>
<polygon points="595.6,1349.2 616.6,1349.2 606.1,1330.2" fill="#008000" stroke="#008000" stroke-width="1" stroke-linejoin="round"/>
<polygon points="601.2,1349.4 622.2,1349.4 611.7,1330.4" fill="#008000" stroke="#008000" stroke-width="1" stroke-linejoin="round"/>
<polygon points="608.5,1348.6 629.5,1348.6 619.0,1329.6" fill="#008000" stroke="#008000" stroke-width="1" stroke-linejoin="round"/>
<polygon points="613.9,1347.4 634.9,1347.4 624.4,1328.4" fill="#008000" stroke="#008000" stroke-width="1" stroke-linejoin="round"/>
<polygon points="621.1,1347.7 642.1,1347.7 631.6,1328.7" fill="#008000" stroke="#008000" stroke-width="1" stroke-linejoin="round"/>
<polygon points="626.6,1347.5 647.6,1347.5 637.1,1328.5" fill="#008000" stroke="#008000" stroke-width="1" stroke-linejoin="round"/>
<polygon points="633.0,1347.4 654.0,1347.4 643.5,1328.4" fill="#008000" stroke="#008000" stroke-width="1" stroke-linejoin="round"/>
<polygon points="639.9,1348.5 660.9,1348.5 650.4,1329.5" fill="#008000" stroke="#008000" stroke-width="1" stroke-linejoin="round"/>
<polygon points="646.4,1347.2 667.4,1347.2 656.9,1328.2" fill="#008000" stroke="#008000" stroke-width="1" stroke-linejoin="round"/>
<polygon points="652.4,1348.8 673.4,1348.8 662.9,1329.8" fill="#008000" stroke="#008000" stroke-width="1" stroke-linejoin="round"/>
<polygon points="659.1,1348.5 680.1,1348.5 669.6,1329.5" fill="#008000" stroke="#008000" stroke-width="1" stroke-linejoin="round"/>
<polygon points="664.8,1348.6 685.8,1348.6 675.3,1329.6" fill="#008000" stroke="#008000" stroke-width="1" stroke-linejoin="round"/>
<polygon points="671.1,1348.5 692.1,1348.5 681.6,1329.5" fill="#008000" stroke="#008000" stroke-width="1" stroke-linejoin="round"/>
<polygon points="677.9,1348.2 698.9,1348.2 688.4,1329.2" fill="#008000" stroke="#008000" stroke-width="1" stroke-linejoin="round"/>
<polygon points="684.9,1348.2 705.9,1348.2 695.4,1329.2" fill="#008000" stroke="#008000" stroke-width="1" stroke-linejoin="round"/>
<polygon points="690.9,1348.3 711.9,1348.3 701.4,1329.3" fill="#008000" stroke="#008000" stroke-width="1" stroke-linejoin="round"/>
<polygon points="697.0,1348.6 718.0,1348.6 707.5,1329.6" fill="#008000" stroke="#008000" stroke-width="1" stroke-linejoin="round"/>
<polygon points="703.2,1348.6 724.2,1348.6 713.7,1329.6" fill="#008000" stroke="#008000" stroke-width="1" stroke-linejoin="round"/>
<polygon points="710.3,1347.4 731.3,1347.4 720.8,1328.4" fill="#008000" stroke="#008000" stroke-width="1" stroke-linejoin="round"/>
<polygon points="715.9,1347.5 736.9,1347.5 726.4,1328.5" fill="#008000" stroke="#008000" stroke-width="1" stroke-linejoin="round"/>
<polygon points="723.4,1348.2 744.4,1348.2 733.9,1329.2" fill="#008000" stroke="#008000" stroke-width="1" stroke-linejoin="round"/>
<polygon points="729.6,1347.5 750.6,1347.5 740.1,1328.5" fill="#008000" stroke="#008000" stroke-width="1" stroke-linejoin="round"/>
<polygon points="735.4,1346.6 756.4,1346.6 745.9,1327.6" fill="#008000" stroke="#008000" stroke-width="1" stroke-linejoin="round"/>
<polygon points="741.6,1347.2 762.6,1347.2 752.1,1328.2" fill="#008000" stroke="#008000" stroke-width="1" stroke-linejoin="round"/>
<polygon points="748.4,1346.2 769.4,1346.2 758.9,1327.2" fill="#008000" stroke="#008000" stroke-width="1" stroke-linejoin="round"/>
<polygon points="754.3,1346.4 775.3,1346.4 764.8,1327.4" fill="#008000" stroke="#008000" stroke-width="1" stroke-linejoin="round"/>
<polygon points="761.2,1346.8 782.2,1346.8 771.7,1327.8" fill="#008000" stroke="#008000" stroke-width="1" stroke-linejoin="round"/>
<polygon points="767.1,1347.3 788.1,1347.3 777.6,1328.3" fill="#008000" stroke="#008000" stroke-width="1" stroke-linejoin="round"/>
<polygon points="772.9,1347.7 793.9,1347.7 783.4,1328.7" fill="#008000" stroke="#008000" stroke-width="1" stroke-linejoin="round"/>
<polygon points="779.3,1346.4 800.3,1346.4 789.8,1327.4" fill="#008000" stroke="#008000" stroke-width="1" stroke-linejoin="round"/>
<polygon points="785.9,1347.5 806.9,1347.5 796.4,1328.5" fill="#008000" stroke="#008000" stroke-width="1" stroke-linejoin="round"/>
<polygon points="792.0,1346.1 813.0,1346.1 802.5,1327.1" fill="#008000" stroke="#008000" stroke-width="1" stroke-linejoin="round"/>
<polygon points="799.6,1346.4 820.6,1346.4 810.1,1327.4" fill="#008000" stroke="#008000" stroke-width="1" stroke-linejoin="round"/>
<polygon points="805.1,1347.2 826.1,1347.2 815.6,1328.2" fill="#008000" stroke="#008000" stroke-width="1" stroke-linejoin="round"/>
<polygon points="811.5,1346.7 832.5,1346.7 822.0,1327.7" fill="#008000" stroke="#008000" stroke-width="1" stroke-linejoin="round"/>
<polygon points="817.6,1346.7 838.6,1346.7 828.1,1327.7" fill="#008000" stroke="#008000" stroke-width="1" stroke-linejoin="round"/>
<polygon points="824.1,1345.5 845.1,1345.5 834.6,1326.5" fill="#008000" stroke="#008000" stroke-width="1" stroke-linejoin="round"/>
<polygon points="831.6,1346.3 852.6,1346.3 842.1,1327.3" fill="#008000" stroke="#008000" stroke-width="1" stroke-linejoin="round"/>
<polygon points="834.9,1363.3 855.9,1363.3 845.4,1344.3" fill="#008000" stroke="#008000" stroke-width="1" stroke-linejoin="round"/>
<polygon points="840.7,1370.3 861.7,1370.3 851.2,1351.3" fill="#008000" stroke="#008000" stroke-width="1" stroke-linejoin="round"/>
<polygon points="846.0,1370.9 867.0,1370.9 856.5,1351.9" fill="#008000" stroke="#008000" stroke-width="1" stroke-linejoin="round"/>
<polygon points="852.4,1370.8 873.4,1370.8 862.9,1351.8" fill="#008000" stroke="#008000" stroke-width="1" stroke-linejoin="round"/>
<polygon points="858.4,1370.8 879.4,1370.8 868.9,1351.8" fill="#008000" stroke="#008000" stroke-width="1" stroke-linejoin="round"/>
<polygon points="864.5,1371.1 885.5,1371.1 875.0,1352.1" fill="#008000" stroke="#008000" stroke-width="1" stroke-linejoin="round"/>
<polygon points="870.9,1370.9 891.9,1370.9 881.4,1351.9" fill="#008000" stroke="#008000" stroke-width="1" stroke-linejoin="round"/>
<polygon points="877.2,1371.4 898.2,1371.4 887.7,1352.4" fill="#008000" stroke="#008000" stroke-width="1" stroke-linejoin="round"/>
<polygon points="884.0,1371.1 905.0,1371.1 894.5,1352.1" fill="#008000" stroke="#008000" stroke-width="1" stroke-linejoin="round"/>
<polygon points="890.8,1370.7 911.8,1370.7 901.3,1351.7" fill="#008000" stroke="#008000" stroke-width="1" stroke-linejoin="round"/>
<polygon points="897.4,1370.6 918.4,1370.6 907.9,1351.6" fill="#008000" stroke="#008000" stroke-width="1" stroke-linejoin="round"/>
<polyline points="218.8,1364.2 224.7,1364.9 232.0,1365.2 237.9,1364.5 243.3,1364.2 250.9,1364.5 257.0,1364.3 262.5,1364.7 269.4,1364.2 276.9,1357.4 282.9,1343.3 289.4,1340.3 295.1,1341.3 301.3,1340.3 307.6,1339.0 314.7,1339.1 321.1,1338.7 327.3,1339.7 334.1,1337.9 340.0,1338.1 346.6,1338.9 353.1,1338.4 358.5,1338.2 365.8,1338.1 372.2,1336.4 378.2,1337.5 384.5,1336.7 391.3,1336.7 397.5,1337.6 403.1,1337.1 410.4,1336.8 416.5,1337.3 422.1,1336.6 429.4,1335.5 435.7,1336.2 441.8,1335.7 448.1,1336.2 455.1,1335.9 461.6,1334.2 466.5,1335.1 474.1,1333.8 479.9,1335.1 485.9,1333.6 492.3,1334.2 498.5,1334.1 506.1,1334.8 512.3,1333.8 518.8,1333.3 524.1,1332.7 529.6,1355.1 533.9,1364.7 540.4,1365.0 546.2,1364.9 552.9,1364.2 558.8,1364.4 566.4,1365.2 572.9,1364.4 579.2,1365.0 584.8,1364.8 594.0,1354.3 599.4,1335.7 605.6,1333.8 611.7,1331.0 618.4,1330.7 624.7,1331.9 631.4,1331.9 637.6,1330.2 644.7,1330.4 650.7,1330.0 657.5,1330.6 663.6,1331.5 669.9,1330.5 676.3,1330.0 682.0,1331.1 689.3,1330.8 695.0,1330.2 701.1,1329.2 708.5,1330.1 714.4,1329.9 720.6,1329.6 726.3,1330.0 732.8,1328.3 739.6,1329.7 746.5,1328.0 752.2,1329.6 758.2,1329.7 764.8,1329.6 771.0,1329.1 777.8,1327.8 784.5,1328.6 790.3,1328.3 796.6,1328.6 802.5,1328.7 810.3,1328.9 815.9,1327.8 822.8,1328.5 828.3,1328.4 834.8,1327.9 842.0,1327.0 846.4,1348.5 850.8,1361.0 857.9,1364.7 863.1,1365.4 869.2,1364.1 876.2,1364.2 882.8,1365.0 887.8,1365.2 894.8,1364.5 901.8,1364.4 907.7,1364.3" fill="none" stroke="#000000" stroke-width="3.6" stroke-linejoin="round"/>
<ellipse cx="218.8" cy="1364.2" rx="5.8" ry="6.0" fill="#fff" stroke="#000000" stroke-width="4.3"/>
<ellipse cx="224.7" cy="1364.9" rx="5.8" ry="6.0" fill="#fff" stroke="#000000" stroke-width="4.3"/>
<ellipse cx="232.0" cy="1365.2" rx="5.8" ry="6.0" fill="#fff" stroke="#000000" stroke-width="4.3"/>
<ellipse cx="237.9" cy="1364.5" rx="5.8" ry="6.0" fill="#fff" stroke="#000000" stroke-width="4.3"/>
<ellipse cx="243.3" cy="1364.2" rx="5.8" ry="6.0" fill="#fff" stroke="#000000" stroke-width="4.3"/>
<ellipse cx="250.9" cy="1364.5" rx="5.8" ry="6.0" fill="#fff" stroke="#000000" stroke-width="4.3"/>
<ellipse cx="257.0" cy="1364.3" rx="5.8" ry="6.0" fill="#fff" stroke="#000000" stroke-width="4.3"/>
<ellipse cx="262.5" cy="1364.7" rx="5.8" ry="6.0" fill="#fff" stroke="#000000" stroke-width="4.3"/>
<ellipse cx="269.4" cy="1364.2" rx="5.8" ry="6.0" fill="#fff" stroke="#000000" stroke-width="4.3"/>
<ellipse cx="276.9" cy="1357.4" rx="5.8" ry="6.0" fill="#fff" stroke="#000000" stroke-width="4.3"/>
<ellipse cx="282.9" cy="1343.3" rx="5.8" ry="6.0" fill="#fff" stroke="#000000" stroke-width="4.3"/>
<ellipse cx="289.4" cy="1340.3" rx="5.8" ry="6.0" fill="#fff" stroke="#000000" stroke-width="4.3"/>
<ellipse cx="295.1" cy="1341.3" rx="5.8" ry="6.0" fill="#fff" stroke="#000000" stroke-width="4.3"/>
<ellipse cx="301.3" cy="1340.3" rx="5.8" ry="6.0" fill="#fff" stroke="#000000" stroke-width="4.3"/>
<ellipse cx="307.6" cy="1339.0" rx="5.8" ry="6.0" fill="#fff" stroke="#000000" stroke-width="4.3"/>
<ellipse cx="314.7" cy="1339.1" rx="5.8" ry="6.0" fill="#fff" stroke="#000000" stroke-width="4.3"/>
<ellipse cx="321.1" cy="1338.7" rx="5.8" ry="6.0" fill="#fff" stroke="#000000" stroke-width="4.3"/>
<ellipse cx="327.3" cy="1339.7" rx="5.8" ry="6.0" fill="#fff" stroke="#000000" stroke-width="4.3"/>
<ellipse cx="334.1" cy="1337.9" rx="5.8" ry="6.0" fill="#fff" stroke="#000000" stroke-width="4.3"/>
<ellipse cx="340.0" cy="1338.1" rx="5.8" ry="6.0" fill="#fff" stroke="#000000" stroke-width="4.3"/>
<ellipse cx="346.6" cy="1338.9" rx="5.8" ry="6.0" fill="#fff" stroke="#000000" stroke-width="4.3"/>
<ellipse cx="353.1" cy="1338.4" rx="5.8" ry="6.0" fill="#fff" stroke="#000000" stroke-width="4.3"/>
<ellipse cx="358.5" cy="1338.2" rx="5.8" ry="6.0" fill="#fff" stroke="#000000" stroke-width="4.3"/>
<ellipse cx="365.8" cy="1338.1" rx="5.8" ry="6.0" fill="#fff" stroke="#000000" stroke-width="4.3"/>
<ellipse cx="372.2" cy="1336.4" rx="5.8" ry="6.0" fill="#fff" stroke="#000000" stroke-width="4.3"/>
<ellipse cx="378.2" cy="1337.5" rx="5.8" ry="6.0" fill="#fff" stroke="#000000" stroke-width="4.3"/>
<ellipse cx="384.5" cy="1336.7" rx="5.8" ry="6.0" fill="#fff" stroke="#000000" stroke-width="4.3"/>
<ellipse cx="391.3" cy="1336.7" rx="5.8" ry="6.0" fill="#fff" stroke="#000000" stroke-width="4.3"/>
<ellipse cx="397.5" cy="1337.6" rx="5.8" ry="6.0" fill="#fff" stroke="#000000" stroke-width="4.3"/>
<ellipse cx="403.1" cy="1337.1" rx="5.8" ry="6.0" fill="#fff" stroke="#000000" stroke-width="4.3"/>
<ellipse cx="410.4" cy="1336.8" rx="5.8" ry="6.0" fill="#fff" stroke="#000000" stroke-width="4.3"/>
<ellipse cx="416.5" cy="1337.3" rx="5.8" ry="6.0" fill="#fff" stroke="#000000" stroke-width="4.3"/>
<ellipse cx="422.1" cy="1336.6" rx="5.8" ry="6.0" fill="#fff" stroke="#000000" stroke-width="4.3"/>
<ellipse cx="429.4" cy="1335.5" rx="5.8" ry="6.0" fill="#fff" stroke="#000000" stroke-width="4.3"/>
<ellipse cx="435.7" cy="1336.2" rx="5.8" ry="6.0" fill="#fff" stroke="#000000" stroke-width="4.3"/>
<ellipse cx="441.8" cy="1335.7" rx="5.8" ry="6.0" fill="#fff" stroke="#000000" stroke-width="4.3"/>
<ellipse cx="448.1" cy="1336.2" rx="5.8" ry="6.0" fill="#fff" stroke="#000000" stroke-width="4.3"/>
<ellipse cx="455.1" cy="1335.9" rx="5.8" ry="6.0" fill="#fff" stroke="#000000" stroke-width="4.3"/>
<ellipse cx="461.6" cy="1334.2" rx="5.8" ry="6.0" fill="#fff" stroke="#000000" stroke-width="4.3"/>
<ellipse cx="466.5" cy="1335.1" rx="5.8" ry="6.0" fill="#fff" stroke="#000000" stroke-width="4.3"/>
<ellipse cx="474.1" cy="1333.8" rx="5.8" ry="6.0" fill="#fff" stroke="#000000" stroke-width="4.3"/>
<ellipse cx="479.9" cy="1335.1" rx="5.8" ry="6.0" fill="#fff" stroke="#000000" stroke-width="4.3"/>
<ellipse cx="485.9" cy="1333.6" rx="5.8" ry="6.0" fill="#fff" stroke="#000000" stroke-width="4.3"/>
<ellipse cx="492.3" cy="1334.2" rx="5.8" ry="6.0" fill="#fff" stroke="#000000" stroke-width="4.3"/>
<ellipse cx="498.5" cy="1334.1" rx="5.8" ry="6.0" fill="#fff" stroke="#000000" stroke-width="4.3"/>
<ellipse cx="506.1" cy="1334.8" rx="5.8" ry="6.0" fill="#fff" stroke="#000000" stroke-width="4.3"/>
<ellipse cx="512.3" cy="1333.8" rx="5.8" ry="6.0" fill="#fff" stroke="#000000" stroke-width="4.3"/>
<ellipse cx="518.8" cy="1333.3" rx="5.8" ry="6.0" fill="#fff" stroke="#000000" stroke-width="4.3"/>
<ellipse cx="524.1" cy="1332.7" rx="5.8" ry="6.0" fill="#fff" stroke="#000000" stroke-width="4.3"/>
<ellipse cx="529.6" cy="1355.1" rx="5.8" ry="6.0" fill="#fff" stroke="#000000" stroke-width="4.3"/>
<ellipse cx="533.9" cy="1364.7" rx="5.8" ry="6.0" fill="#fff" stroke="#000000" stroke-width="4.3"/>
<ellipse cx="540.4" cy="1365.0" rx="5.8" ry="6.0" fill="#fff" stroke="#000000" stroke-width="4.3"/>
<ellipse cx="546.2" cy="1364.9" rx="5.8" ry="6.0" fill="#fff" stroke="#000000" stroke-width="4.3"/>
<ellipse cx="552.9" cy="1364.2" rx="5.8" ry="6.0" fill="#fff" stroke="#000000" stroke-width="4.3"/>
<ellipse cx="558.8" cy="1364.4" rx="5.8" ry="6.0" fill="#fff" stroke="#000000" stroke-width="4.3"/>
<ellipse cx="566.4" cy="1365.2" rx="5.8" ry="6.0" fill="#fff" stroke="#000000" stroke-width="4.3"/>
<ellipse cx="572.9" cy="1364.4" rx="5.8" ry="6.0" fill="#fff" stroke="#000000" stroke-width="4.3"/>
<ellipse cx="579.2" cy="1365.0" rx="5.8" ry="6.0" fill="#fff" stroke="#000000" stroke-width="4.3"/>
<ellipse cx="584.8" cy="1364.8" rx="5.8" ry="6.0" fill="#fff" stroke="#000000" stroke-width="4.3"/>
<ellipse cx="594.0" cy="1354.3" rx="5.8" ry="6.0" fill="#fff" stroke="#000000" stroke-width="4.3"/>
<ellipse cx="599.4" cy="1335.7" rx="5.8" ry="6.0" fill="#fff" stroke="#000000" stroke-width="4.3"/>
<ellipse cx="605.6" cy="1333.8" rx="5.8" ry="6.0" fill="#fff" stroke="#000000" stroke-width="4.3"/>
<ellipse cx="611.7" cy="1331.0" rx="5.8" ry="6.0" fill="#fff" stroke="#000000" stroke-width="4.3"/>
<ellipse cx="618.4" cy="1330.7" rx="5.8" ry="6.0" fill="#fff" stroke="#000000" stroke-width="4.3"/>
<ellipse cx="624.7" cy="1331.9" rx="5.8" ry="6.0" fill="#fff" stroke="#000000" stroke-width="4.3"/>
<ellipse cx="631.4" cy="1331.9" rx="5.8" ry="6.0" fill="#fff" stroke="#000000" stroke-width="4.3"/>
<ellipse cx="637.6" cy="1330.2" rx="5.8" ry="6.0" fill="#fff" stroke="#000000" stroke-width="4.3"/>
<ellipse cx="644.7" cy="1330.4" rx="5.8" ry="6.0" fill="#fff" stroke="#000000" stroke-width="4.3"/>
<ellipse cx="650.7" cy="1330.0" rx="5.8" ry="6.0" fill="#fff" stroke="#000000" stroke-width="4.3"/>
<ellipse cx="657.5" cy="1330.6" rx="5.8" ry="6.0" fill="#fff" stroke="#000000" stroke-width="4.3"/>
<ellipse cx="663.6" cy="1331.5" rx="5.8" ry="6.0" fill="#fff" stroke="#000000" stroke-width="4.3"/>
<ellipse cx="669.9" cy="1330.5" rx="5.8" ry="6.0" fill="#fff" stroke="#000000" stroke-width="4.3"/>
<ellipse cx="676.3" cy="1330.0" rx="5.8" ry="6.0" fill="#fff" stroke="#000000" stroke-width="4.3"/>
<ellipse cx="682.0" cy="1331.1" rx="5.8" ry="6.0" fill="#fff" stroke="#000000" stroke-width="4.3"/>
<ellipse cx="689.3" cy="1330.8" rx="5.8" ry="6.0" fill="#fff" stroke="#000000" stroke-width="4.3"/>
<ellipse cx="695.0" cy="1330.2" rx="5.8" ry="6.0" fill="#fff" stroke="#000000" stroke-width="4.3"/>
<ellipse cx="701.1" cy="1329.2" rx="5.8" ry="6.0" fill="#fff" stroke="#000000" stroke-width="4.3"/>
<ellipse cx="708.5" cy="1330.1" rx="5.8" ry="6.0" fill="#fff" stroke="#000000" stroke-width="4.3"/>
<ellipse cx="714.4" cy="1329.9" rx="5.8" ry="6.0" fill="#fff" stroke="#000000" stroke-width="4.3"/>
<ellipse cx="720.6" cy="1329.6" rx="5.8" ry="6.0" fill="#fff" stroke="#000000" stroke-width="4.3"/>
<ellipse cx="726.3" cy="1330.0" rx="5.8" ry="6.0" fill="#fff" stroke="#000000" stroke-width="4.3"/>
<ellipse cx="732.8" cy="1328.3" rx="5.8" ry="6.0" fill="#fff" stroke="#000000" stroke-width="4.3"/>
<ellipse cx="739.6" cy="1329.7" rx="5.8" ry="6.0" fill="#fff" stroke="#000000" stroke-width="4.3"/>
<ellipse cx="746.5" cy="1328.0" rx="5.8" ry="6.0" fill="#fff" stroke="#000000" stroke-width="4.3"/>
<ellipse cx="752.2" cy="1329.6" rx="5.8" ry="6.0" fill="#fff" stroke="#000000" stroke-width="4.3"/>
<ellipse cx="758.2" cy="1329.7" rx="5.8" ry="6.0" fill="#fff" stroke="#000000" stroke-width="4.3"/>
<ellipse cx="764.8" cy="1329.6" rx="5.8" ry="6.0" fill="#fff" stroke="#000000" stroke-width="4.3"/>
<ellipse cx="771.0" cy="1329.1" rx="5.8" ry="6.0" fill="#fff" stroke="#000000" stroke-width="4.3"/>
<ellipse cx="777.8" cy="1327.8" rx="5.8" ry="6.0" fill="#fff" stroke="#000000" stroke-width="4.3"/>
<ellipse cx="784.5" cy="1328.6" rx="5.8" ry="6.0" fill="#fff" stroke="#000000" stroke-width="4.3"/>
<ellipse cx="790.3" cy="1328.3" rx="5.8" ry="6.0" fill="#fff" stroke="#000000" stroke-width="4.3"/>
<ellipse cx="796.6" cy="1328.6" rx="5.8" ry="6.0" fill="#fff" stroke="#000000" stroke-width="4.3"/>
<ellipse cx="802.5" cy="1328.7" rx="5.8" ry="6.0" fill="#fff" stroke="#000000" stroke-width="4.3"/>
<ellipse cx="810.3" cy="1328.9" rx="5.8" ry="6.0" fill="#fff" stroke="#000000" stroke-width="4.3"/>
<ellipse cx="815.9" cy="1327.8" rx="5.8" ry="6.0" fill="#fff" stroke="#000000" stroke-width="4.3"/>
<ellipse cx="822.8" cy="1328.5" rx="5.8" ry="6.0" fill="#fff" stroke="#000000" stroke-width="4.3"/>
<ellipse cx="828.3" cy="1328.4" rx="5.8" ry="6.0" fill="#fff" stroke="#000000" stroke-width="4.3"/>
<ellipse cx="834.8" cy="1327.9" rx="5.8" ry="6.0" fill="#fff" stroke="#000000" stroke-width="4.3"/>
<ellipse cx="842.0" cy="1327.0" rx="5.8" ry="6.0" fill="#fff" stroke="#000000" stroke-width="4.3"/>
<ellipse cx="846.4" cy="1348.5" rx="5.8" ry="6.0" fill="#fff" stroke="#000000" stroke-width="4.3"/>
<ellipse cx="850.8" cy="1361.0" rx="5.8" ry="6.0" fill="#fff" stroke="#000000" stroke-width="4.3"/>
<ellipse cx="857.9" cy="1364.7" rx="5.8" ry="6.0" fill="#fff" stroke="#000000" stroke-width="4.3"/>
<ellipse cx="863.1" cy="1365.4" rx="5.8" ry="6.0" fill="#fff" stroke="#000000" stroke-width="4.3"/>
<ellipse cx="869.2" cy="1364.1" rx="5.8" ry="6.0" fill="#fff" stroke="#000000" stroke-width="4.3"/>
<ellipse cx="876.2" cy="1364.2" rx="5.8" ry="6.0" fill="#fff" stroke="#000000" stroke-width="4.3"/>
<ellipse cx="882.8" cy="1365.0" rx="5.8" ry="6.0" fill="#fff" stroke="#000000" stroke-width="4.3"/>
<ellipse cx="887.8" cy="1365.2" rx="5.8" ry="6.0" fill="#fff" stroke="#000000" stroke-width="4.3"/>
<ellipse cx="894.8" cy="1364.5" rx="5.8" ry="6.0" fill="#fff" stroke="#000000" stroke-width="4.3"/>
<ellipse cx="901.8" cy="1364.4" rx="5.8" ry="6.0" fill="#fff" stroke="#000000" stroke-width="4.3"/>
<ellipse cx="907.7" cy="1364.3" rx="5.8" ry="6.0" fill="#fff" stroke="#000000" stroke-width="4.3"/>
<polyline points="218.5,1368.1 224.2,1367.7 230.8,1367.6 237.8,1368.4 243.4,1368.5 250.5,1367.9 256.1,1368.7 263.1,1357.7 269.2,1353.5 276.6,1348.9 282.5,1320.3 289.8,1307.7 296.1,1304.5 301.5,1304.1 308.9,1302.5 314.3,1304.0 320.9,1301.9 327.2,1302.7 333.9,1300.5 339.6,1302.8 346.1,1301.7 353.0,1302.2 359.6,1300.7 365.5,1302.1 372.6,1301.7 378.7,1301.8 384.1,1300.3 390.6,1299.7 397.3,1301.7 403.2,1301.0 410.3,1299.5 415.8,1300.9 422.3,1299.2 428.6,1301.6 434.8,1300.5 442.4,1299.0 448.5,1298.6 455.2,1300.2 460.4,1298.4 467.6,1300.8 473.9,1299.7 479.8,1299.7 485.9,1300.4 492.4,1299.3 499.8,1299.8 506.2,1299.4 511.6,1297.6 518.7,1298.5 523.8,1298.3 529.4,1343.0 534.2,1368.3 541.0,1368.8 546.7,1367.7 553.6,1368.8 558.8,1368.7 566.5,1368.5 572.6,1367.6 578.4,1368.4 585.7,1368.0 592.9,1336.7 599.3,1301.9 605.2,1296.9 613.0,1295.7 619.4,1297.1 624.6,1295.7 632.1,1294.2 637.6,1295.9 644.0,1295.0 651.1,1295.7 657.3,1294.0 663.7,1293.7 669.7,1294.7 675.7,1294.4 682.7,1295.0 688.2,1292.9 694.6,1294.6 700.7,1293.1 707.5,1291.7 714.7,1291.5 720.1,1293.7 726.2,1292.4 733.5,1292.3 739.2,1292.2 746.1,1291.3 752.7,1290.6 758.9,1292.4 765.5,1291.7 771.5,1291.3 778.1,1291.5 783.7,1291.2 789.9,1289.2 796.9,1290.6 803.0,1288.5 809.6,1290.4 816.4,1289.0 823.0,1290.3 828.6,1288.2 835.5,1287.7 840.7,1289.2 845.2,1324.4 852.3,1354.3 857.9,1368.3 863.5,1368.2 869.0,1367.7 876.4,1368.7 882.2,1368.0 888.0,1368.3 894.2,1368.5 900.8,1368.0 907.8,1368.5" fill="none" stroke="#ff7f00" stroke-width="3.6" stroke-linejoin="round"/>
<polygon points="207.5,1358.6 229.5,1358.6 218.5,1377.6" fill="#ff7f00" stroke="#ff7f00" stroke-width="1" stroke-linejoin="round"/>
<polygon points="213.2,1358.2 235.2,1358.2 224.2,1377.2" fill="#ff7f00" stroke="#ff7f00" stroke-width="1" stroke-linejoin="round"/>
<polygon points="219.8,1358.1 241.8,1358.1 230.8,1377.1" fill="#ff7f00" stroke="#ff7f00" stroke-width="1" stroke-linejoin="round"/>
<polygon points="226.8,1358.9 248.8,1358.9 237.8,1377.9" fill="#ff7f00" stroke="#ff7f00" stroke-width="1" stroke-linejoin="round"/>
<polygon points="232.4,1359.0 254.4,1359.0 243.4,1378.0" fill="#ff7f00" stroke="#ff7f00" stroke-width="1" stroke-linejoin="round"/>
<polygon points="239.5,1358.4 261.5,1358.4 250.5,1377.4" fill="#ff7f00" stroke="#ff7f00" stroke-width="1" stroke-linejoin="round"/>
<polygon points="245.1,1359.2 267.1,1359.2 256.1,1378.2" fill="#ff7f00" stroke="#ff7f00" stroke-width="1" stroke-linejoin="round"/>
<polygon points="252.1,1348.2 274.1,1348.2 263.1,1367.2" fill="#ff7f00" stroke="#ff7f00" stroke-width="1" stroke-linejoin="round"/>
<polygon points="258.2,1344.0 280.2,1344.0 269.2,1363.0" fill="#ff7f00" stroke="#ff7f00" stroke-width="1" stroke-linejoin="round"/>
<polygon points="265.6,1339.4 287.6,1339.4 276.6,1358.4" fill="#ff7f00" stroke="#ff7f00" stroke-width="1" stroke-linejoin="round"/>
<polygon points="271.5,1310.8 293.5,1310.8 282.5,1329.8" fill="#ff7f00" stroke="#ff7f00" stroke-width="1" stroke-linejoin="round"/>
<polygon points="278.8,1298.2 300.8,1298.2 289.8,1317.2" fill="#ff7f00" stroke="#ff7f00" stroke-width="1" stroke-linejoin="round"/>
<polygon points="285.1,1295.0 307.1,1295.0 296.1,1314.0" fill="#ff7f00" stroke="#ff7f00" stroke-width="1" stroke-linejoin="round"/>
<polygon points="290.5,1294.6 312.5,1294.6 301.5,1313.6" fill="#ff7f00" stroke="#ff7f00" stroke-width="1" stroke-linejoin="round"/>
<polygon points="297.9,1293.0 319.9,1293.0 308.9,1312.0" fill="#ff7f00" stroke="#ff7f00" stroke-width="1" stroke-linejoin="round"/>
<polygon points="303.3,1294.5 325.3,1294.5 314.3,1313.5" fill="#ff7f00" stroke="#ff7f00" stroke-width="1" stroke-linejoin="round"/>
<polygon points="309.9,1292.4 331.9,1292.4 320.9,1311.4" fill="#ff7f00" stroke="#ff7f00" stroke-width="1" stroke-linejoin="round"/>
<polygon points="316.2,1293.2 338.2,1293.2 327.2,1312.2" fill="#ff7f00" stroke="#ff7f00" stroke-width="1" stroke-linejoin="round"/>
<polygon points="322.9,1291.0 344.9,1291.0 333.9,1310.0" fill="#ff7f00" stroke="#ff7f00" stroke-width="1" stroke-linejoin="round"/>
<polygon points="328.6,1293.3 350.6,1293.3 339.6,1312.3" fill="#ff7f00" stroke="#ff7f00" stroke-width="1" stroke-linejoin="round"/>
<polygon points="335.1,1292.2 357.1,1292.2 346.1,1311.2" fill="#ff7f00" stroke="#ff7f00" stroke-width="1" stroke-linejoin="round"/>
<polygon points="342.0,1292.7 364.0,1292.7 353.0,1311.7" fill="#ff7f00" stroke="#ff7f00" stroke-width="1" stroke-linejoin="round"/>
<polygon points="348.6,1291.2 370.6,1291.2 359.6,1310.2" fill="#ff7f00" stroke="#ff7f00" stroke-width="1" stroke-linejoin="round"/>
<polygon points="354.5,1292.6 376.5,1292.6 365.5,1311.6" fill="#ff7f00" stroke="#ff7f00" stroke-width="1" stroke-linejoin="round"/>
<polygon points="361.6,1292.2 383.6,1292.2 372.6,1311.2" fill="#ff7f00" stroke="#ff7f00" stroke-width="1" stroke-linejoin="round"/>
<polygon points="367.7,1292.3 389.7,1292.3 378.7,1311.3" fill="#ff7f00" stroke="#ff7f00" stroke-width="1" stroke-linejoin="round"/>
<polygon points="373.1,1290.8 395.1,1290.8 384.1,1309.8" fill="#ff7f00" stroke="#ff7f00" stroke-width="1" stroke-linejoin="round"/>
<polygon points="379.6,1290.2 401.6,1290.2 390.6,1309.2" fill="#ff7f00" stroke="#ff7f00" stroke-width="1" stroke-linejoin="round"/>
<polygon points="386.3,1292.2 408.3,1292.2 397.3,1311.2" fill="#ff7f00" stroke="#ff7f00" stroke-width="1" stroke-linejoin="round"/>
<polygon points="392.2,1291.5 414.2,1291.5 403.2,1310.5" fill="#ff7f00" stroke="#ff7f00" stroke-width="1" stroke-linejoin="round"/>
<polygon points="399.3,1290.0 421.3,1290.0 410.3,1309.0" fill="#ff7f00" stroke="#ff7f00" stroke-width="1" stroke-linejoin="round"/>
<polygon points="404.8,1291.4 426.8,1291.4 415.8,1310.4" fill="#ff7f00" stroke="#ff7f00" stroke-width="1" stroke-linejoin="round"/>
<polygon points="411.3,1289.7 433.3,1289.7 422.3,1308.7" fill="#ff7f00" stroke="#ff7f00" stroke-width="1" stroke-linejoin="round"/>
<polygon points="417.6,1292.1 439.6,1292.1 428.6,1311.1" fill="#ff7f00" stroke="#ff7f00" stroke-width="1" stroke-linejoin="round"/>
<polygon points="423.8,1291.0 445.8,1291.0 434.8,1310.0" fill="#ff7f00" stroke="#ff7f00" stroke-width="1" stroke-linejoin="round"/>
<polygon points="431.4,1289.5 453.4,1289.5 442.4,1308.5" fill="#ff7f00" stroke="#ff7f00" stroke-width="1" stroke-linejoin="round"/>
<polygon points="437.5,1289.1 459.5,1289.1 448.5,1308.1" fill="#ff7f00" stroke="#ff7f00" stroke-width="1" stroke-linejoin="round"/>
<polygon points="444.2,1290.7 466.2,1290.7 455.2,1309.7" fill="#ff7f00" stroke="#ff7f00" stroke-width="1" stroke-linejoin="round"/>
<polygon points="449.4,1288.9 471.4,1288.9 460.4,1307.9" fill="#ff7f00" stroke="#ff7f00" stroke-width="1" stroke-linejoin="round"/>
<polygon points="456.6,1291.3 478.6,1291.3 467.6,1310.3" fill="#ff7f00" stroke="#ff7f00" stroke-width="1" stroke-linejoin="round"/>
<polygon points="462.9,1290.2 484.9,1290.2 473.9,1309.2" fill="#ff7f00" stroke="#ff7f00" stroke-width="1" stroke-linejoin="round"/>
<polygon points="468.8,1290.2 490.8,1290.2 479.8,1309.2" fill="#ff7f00" stroke="#ff7f00" stroke-width="1" stroke-linejoin="round"/>
<polygon points="474.9,1290.9 496.9,1290.9 485.9,1309.9" fill="#ff7f00" stroke="#ff7f00" stroke-width="1" stroke-linejoin="round"/>
<polygon points="481.4,1289.8 503.4,1289.8 492.4,1308.8" fill="#ff7f00" stroke="#ff7f00" stroke-width="1" stroke-linejoin="round"/>
<polygon points="488.8,1290.3 510.8,1290.3 499.8,1309.3" fill="#ff7f00" stroke="#ff7f00" stroke-width="1" stroke-linejoin="round"/>
<polygon points="495.2,1289.9 517.2,1289.9 506.2,1308.9" fill="#ff7f00" stroke="#ff7f00" stroke-width="1" stroke-linejoin="round"/>
<polygon points="500.6,1288.1 522.6,1288.1 511.6,1307.1" fill="#ff7f00" stroke="#ff7f00" stroke-width="1" stroke-linejoin="round"/>
<polygon points="507.7,1289.0 529.7,1289.0 518.7,1308.0" fill="#ff7f00" stroke="#ff7f00" stroke-width="1" stroke-linejoin="round"/>
<polygon points="512.8,1288.8 534.8,1288.8 523.8,1307.8" fill="#ff7f00" stroke="#ff7f00" stroke-width="1" stroke-linejoin="round"/>
<polygon points="518.4,1333.5 540.4,1333.5 529.4,1352.5" fill="#ff7f00" stroke="#ff7f00" stroke-width="1" stroke-linejoin="round"/>
<polygon points="523.2,1358.8 545.2,1358.8 534.2,1377.8" fill="#ff7f00" stroke="#ff7f00" stroke-width="1" stroke-linejoin="round"/>
<polygon points="530.0,1359.3 552.0,1359.3 541.0,1378.3" fill="#ff7f00" stroke="#ff7f00" stroke-width="1" stroke-linejoin="round"/>
<polygon points="535.7,1358.2 557.7,1358.2 546.7,1377.2" fill="#ff7f00" stroke="#ff7f00" stroke-width="1" stroke-linejoin="round"/>
<polygon points="542.6,1359.3 564.6,1359.3 553.6,1378.3" fill="#ff7f00" stroke="#ff7f00" stroke-width="1" stroke-linejoin="round"/>
<polygon points="547.8,1359.2 569.8,1359.2 558.8,1378.2" fill="#ff7f00" stroke="#ff7f00" stroke-width="1" stroke-linejoin="round"/>
<polygon points="555.5,1359.0 577.5,1359.0 566.5,1378.0" fill="#ff7f00" stroke="#ff7f00" stroke-width="1" stroke-linejoin="round"/>
<polygon points="561.6,1358.1 583.6,1358.1 572.6,1377.1" fill="#ff7f00" stroke="#ff7f00" stroke-width="1" stroke-linejoin="round"/>
<polygon points="567.4,1358.9 589.4,1358.9 578.4,1377.9" fill="#ff7f00" stroke="#ff7f00" stroke-width="1" stroke-linejoin="round"/>
<polygon points="574.7,1358.5 596.7,1358.5 585.7,1377.5" fill="#ff7f00" stroke="#ff7f00" stroke-width="1" stroke-linejoin="round"/>
<polygon points="581.9,1327.2 603.9,1327.2 592.9,1346.2" fill="#ff7f00" stroke="#ff7f00" stroke-width="1" stroke-linejoin="round"/>
<polygon points="588.3,1292.4 610.3,1292.4 599.3,1311.4" fill="#ff7f00" stroke="#ff7f00" stroke-width="1" stroke-linejoin="round"/>
<polygon points="594.2,1287.4 616.2,1287.4 605.2,1306.4" fill="#ff7f00" stroke="#ff7f00" stroke-width="1" stroke-linejoin="round"/>
<polygon points="602.0,1286.2 624.0,1286.2 613.0,1305.2" fill="#ff7f00" stroke="#ff7f00" stroke-width="1" stroke-linejoin="round"/>
<polygon points="608.4,1287.6 630.4,1287.6 619.4,1306.6" fill="#ff7f00" stroke="#ff7f00" stroke-width="1" stroke-linejoin="round"/>
<polygon points="613.6,1286.2 635.6,1286.2 624.6,1305.2" fill="#ff7f00" stroke="#ff7f00" stroke-width="1" stroke-linejoin="round"/>
<polygon points="621.1,1284.7 643.1,1284.7 632.1,1303.7" fill="#ff7f00" stroke="#ff7f00" stroke-width="1" stroke-linejoin="round"/>
<polygon points="626.6,1286.4 648.6,1286.4 637.6,1305.4" fill="#ff7f00" stroke="#ff7f00" stroke-width="1" stroke-linejoin="round"/>
<polygon points="633.0,1285.5 655.0,1285.5 644.0,1304.5" fill="#ff7f00" stroke="#ff7f00" stroke-width="1" stroke-linejoin="round"/>
<polygon points="640.1,1286.2 662.1,1286.2 651.1,1305.2" fill="#ff7f00" stroke="#ff7f00" stroke-width="1" stroke-linejoin="round"/>
<polygon points="646.3,1284.5 668.3,1284.5 657.3,1303.5" fill="#ff7f00" stroke="#ff7f00" stroke-width="1" stroke-linejoin="round"/>
<polygon points="652.7,1284.2 674.7,1284.2 663.7,1303.2" fill="#ff7f00" stroke="#ff7f00" stroke-width="1" stroke-linejoin="round"/>
<polygon points="658.7,1285.2 680.7,1285.2 669.7,1304.2" fill="#ff7f00" stroke="#ff7f00" stroke-width="1" stroke-linejoin="round"/>
<polygon points="664.7,1284.9 686.7,1284.9 675.7,1303.9" fill="#ff7f00" stroke="#ff7f00" stroke-width="1" stroke-linejoin="round"/>
<polygon points="671.7,1285.5 693.7,1285.5 682.7,1304.5" fill="#ff7f00" stroke="#ff7f00" stroke-width="1" stroke-linejoin="round"/>
<polygon points="677.2,1283.4 699.2,1283.4 688.2,1302.4" fill="#ff7f00" stroke="#ff7f00" stroke-width="1" stroke-linejoin="round"/>
<polygon points="683.6,1285.1 705.6,1285.1 694.6,1304.1" fill="#ff7f00" stroke="#ff7f00" stroke-width="1" stroke-linejoin="round"/>
<polygon points="689.7,1283.6 711.7,1283.6 700.7,1302.6" fill="#ff7f00" stroke="#ff7f00" stroke-width="1" stroke-linejoin="round"/>
<polygon points="696.5,1282.2 718.5,1282.2 707.5,1301.2" fill="#ff7f00" stroke="#ff7f00" stroke-width="1" stroke-linejoin="round"/>
<polygon points="703.7,1282.0 725.7,1282.0 714.7,1301.0" fill="#ff7f00" stroke="#ff7f00" stroke-width="1" stroke-linejoin="round"/>
<polygon points="709.1,1284.2 731.1,1284.2 720.1,1303.2" fill="#ff7f00" stroke="#ff7f00" stroke-width="1" stroke-linejoin="round"/>
<polygon points="715.2,1282.9 737.2,1282.9 726.2,1301.9" fill="#ff7f00" stroke="#ff7f00" stroke-width="1" stroke-linejoin="round"/>
<polygon points="722.5,1282.8 744.5,1282.8 733.5,1301.8" fill="#ff7f00" stroke="#ff7f00" stroke-width="1" stroke-linejoin="round"/>
<polygon points="728.2,1282.7 750.2,1282.7 739.2,1301.7" fill="#ff7f00" stroke="#ff7f00" stroke-width="1" stroke-linejoin="round"/>
<polygon points="735.1,1281.8 757.1,1281.8 746.1,1300.8" fill="#ff7f00" stroke="#ff7f00" stroke-width="1" stroke-linejoin="round"/>
<polygon points="741.7,1281.1 763.7,1281.1 752.7,1300.1" fill="#ff7f00" stroke="#ff7f00" stroke-width="1" stroke-linejoin="round"/>
<polygon points="747.9,1282.9 769.9,1282.9 758.9,1301.9" fill="#ff7f00" stroke="#ff7f00" stroke-width="1" stroke-linejoin="round"/>
<polygon points="754.5,1282.2 776.5,1282.2 765.5,1301.2" fill="#ff7f00" stroke="#ff7f00" stroke-width="1" stroke-linejoin="round"/>
<polygon points="760.5,1281.8 782.5,1281.8 771.5,1300.8" fill="#ff7f00" stroke="#ff7f00" stroke-width="1" stroke-linejoin="round"/>
<polygon points="767.1,1282.0 789.1,1282.0 778.1,1301.0" fill="#ff7f00" stroke="#ff7f00" stroke-width="1" stroke-linejoin="round"/>
<polygon points="772.7,1281.7 794.7,1281.7 783.7,1300.7" fill="#ff7f00" stroke="#ff7f00" stroke-width="1" stroke-linejoin="round"/>
<polygon points="778.9,1279.7 800.9,1279.7 789.9,1298.7" fill="#ff7f00" stroke="#ff7f00" stroke-width="1" stroke-linejoin="round"/>
<polygon points="785.9,1281.1 807.9,1281.1 796.9,1300.1" fill="#ff7f00" stroke="#ff7f00" stroke-width="1" stroke-linejoin="round"/>
<polygon points="792.0,1279.0 814.0,1279.0 803.0,1298.0" fill="#ff7f00" stroke="#ff7f00" stroke-width="1" stroke-linejoin="round"/>
<polygon points="798.6,1280.9 820.6,1280.9 809.6,1299.9" fill="#ff7f00" stroke="#ff7f00" stroke-width="1" stroke-linejoin="round"/>
<polygon points="805.4,1279.5 827.4,1279.5 816.4,1298.5" fill="#ff7f00" stroke="#ff7f00" stroke-width="1" stroke-linejoin="round"/>
<polygon points="812.0,1280.8 834.0,1280.8 823.0,1299.8" fill="#ff7f00" stroke="#ff7f00" stroke-width="1" stroke-linejoin="round"/>
<polygon points="817.6,1278.7 839.6,1278.7 828.6,1297.7" fill="#ff7f00" stroke="#ff7f00" stroke-width="1" stroke-linejoin="round"/>
<polygon points="824.5,1278.2 846.5,1278.2 835.5,1297.2" fill="#ff7f00" stroke="#ff7f00" stroke-width="1" stroke-linejoin="round"/>
<polygon points="829.7,1279.7 851.7,1279.7 840.7,1298.7" fill="#ff7f00" stroke="#ff7f00" stroke-width="1" stroke-linejoin="round"/>
<polygon points="834.2,1314.9 856.2,1314.9 845.2,1333.9" fill="#ff7f00" stroke="#ff7f00" stroke-width="1" stroke-linejoin="round"/>
<polygon points="841.3,1344.8 863.3,1344.8 852.3,1363.8" fill="#ff7f00" stroke="#ff7f00" stroke-width="1" stroke-linejoin="round"/>
<polygon points="846.9,1358.8 868.9,1358.8 857.9,1377.8" fill="#ff7f00" stroke="#ff7f00" stroke-width="1" stroke-linejoin="round"/>
<polygon points="852.5,1358.7 874.5,1358.7 863.5,1377.7" fill="#ff7f00" stroke="#ff7f00" stroke-width="1" stroke-linejoin="round"/>
<polygon points="858.0,1358.2 880.0,1358.2 869.0,1377.2" fill="#ff7f00" stroke="#ff7f00" stroke-width="1" stroke-linejoin="round"/>
<polygon points="865.4,1359.2 887.4,1359.2 876.4,1378.2" fill="#ff7f00" stroke="#ff7f00" stroke-width="1" stroke-linejoin="round"/>
<polygon points="871.2,1358.5 893.2,1358.5 882.2,1377.5" fill="#ff7f00" stroke="#ff7f00" stroke-width="1" stroke-linejoin="round"/>
<polygon points="877.0,1358.8 899.0,1358.8 888.0,1377.8" fill="#ff7f00" stroke="#ff7f00" stroke-width="1" stroke-linejoin="round"/>
<polygon points="883.2,1359.0 905.2,1359.0 894.2,1378.0" fill="#ff7f00" stroke="#ff7f00" stroke-width="1" stroke-linejoin="round"/>
<polygon points="889.8,1358.5 911.8,1358.5 900.8,1377.5" fill="#ff7f00" stroke="#ff7f00" stroke-width="1" stroke-linejoin="round"/>
<polygon points="896.8,1359.0 918.8,1359.0 907.8,1378.0" fill="#ff7f00" stroke="#ff7f00" stroke-width="1" stroke-linejoin="round"/>
<polyline points="217.8,1364.9 225.1,1365.1 231.0,1365.1 238.1,1364.6 243.3,1365.2 250.2,1364.6 256.9,1365.3 262.5,1364.4 269.3,1365.0 276.1,1353.8 282.5,1330.3 288.9,1316.9 296.1,1308.4 301.6,1308.4 308.6,1307.7 313.8,1305.4 320.8,1305.0 327.2,1304.2 333.6,1305.3 339.3,1304.2 346.6,1303.2 352.1,1303.8 358.9,1304.0 364.9,1304.4 371.9,1302.7 377.6,1303.7 385.0,1302.4 390.5,1304.3 398.0,1302.2 403.6,1304.3 410.7,1303.4 417.0,1302.7 423.2,1303.8 429.5,1303.6 435.3,1302.0 442.3,1303.5 447.8,1303.0 454.6,1302.9 460.3,1303.2 467.6,1301.6 472.9,1302.3 480.4,1303.5 486.9,1303.3 492.9,1302.2 499.3,1302.7 505.3,1302.0 511.7,1301.7 518.1,1302.2 523.8,1301.7 529.6,1348.2 535.1,1364.3 540.4,1365.1 546.8,1365.2 552.6,1364.8 558.9,1364.8 565.9,1365.3 572.5,1365.3 579.0,1364.3 585.0,1365.3 593.2,1347.9 600.3,1314.2 606.5,1303.8 612.7,1300.4 618.2,1299.2 625.0,1298.5 632.0,1300.0 638.2,1298.1 643.5,1299.4 650.9,1299.7 657.5,1299.4 663.7,1299.6 669.6,1297.6 675.5,1299.1 682.3,1298.9 688.0,1299.1 694.5,1297.2 701.7,1297.2 707.2,1297.4 713.5,1297.9 720.7,1298.2 727.4,1297.7 733.3,1296.8 739.0,1296.4 746.1,1297.8 752.7,1298.0 759.4,1297.2 764.8,1296.6 771.3,1297.9 778.1,1298.2 784.6,1297.6 790.7,1295.7 797.0,1296.4 802.9,1297.9 808.8,1297.5 816.1,1296.7 822.3,1295.5 828.1,1297.0 835.2,1297.4 840.6,1296.5 845.2,1337.6 851.1,1357.7 857.4,1365.1 863.2,1364.7 868.8,1364.1 875.3,1365.2 881.5,1364.5 889.0,1364.3 894.6,1365.0 900.4,1364.5 907.6,1364.9" fill="none" stroke="#008000" stroke-width="3.6" stroke-linejoin="round"/>
<polygon points="207.5,1374.2 228.0,1374.2 217.8,1355.7" fill="#008000" stroke="#008000" stroke-width="1" stroke-linejoin="round"/><polygon points="213.2,1369.9 222.4,1369.9 217.8,1361.3" fill="#fff" />
<polygon points="214.9,1374.4 235.4,1374.4 225.1,1355.9" fill="#008000" stroke="#008000" stroke-width="1" stroke-linejoin="round"/><polygon points="220.5,1370.1 229.7,1370.1 225.1,1361.5" fill="#fff" />
<polygon points="220.7,1374.4 241.2,1374.4 231.0,1355.9" fill="#008000" stroke="#008000" stroke-width="1" stroke-linejoin="round"/><polygon points="226.4,1370.1 235.6,1370.1 231.0,1361.5" fill="#fff" />
<polygon points="227.8,1373.9 248.3,1373.9 238.1,1355.4" fill="#008000" stroke="#008000" stroke-width="1" stroke-linejoin="round"/><polygon points="233.5,1369.6 242.7,1369.6 238.1,1361.0" fill="#fff" />
<polygon points="233.0,1374.5 253.5,1374.5 243.3,1356.0" fill="#008000" stroke="#008000" stroke-width="1" stroke-linejoin="round"/><polygon points="238.7,1370.2 247.9,1370.2 243.3,1361.6" fill="#fff" />
<polygon points="239.9,1373.9 260.4,1373.9 250.2,1355.4" fill="#008000" stroke="#008000" stroke-width="1" stroke-linejoin="round"/><polygon points="245.6,1369.6 254.8,1369.6 250.2,1361.0" fill="#fff" />
<polygon points="246.6,1374.5 267.1,1374.5 256.9,1356.0" fill="#008000" stroke="#008000" stroke-width="1" stroke-linejoin="round"/><polygon points="252.3,1370.2 261.5,1370.2 256.9,1361.6" fill="#fff" />
<polygon points="252.3,1373.7 272.8,1373.7 262.5,1355.2" fill="#008000" stroke="#008000" stroke-width="1" stroke-linejoin="round"/><polygon points="257.9,1369.4 267.1,1369.4 262.5,1360.8" fill="#fff" />
<polygon points="259.0,1374.2 279.5,1374.2 269.3,1355.7" fill="#008000" stroke="#008000" stroke-width="1" stroke-linejoin="round"/><polygon points="264.7,1369.9 273.9,1369.9 269.3,1361.3" fill="#fff" />
<polygon points="265.9,1363.0 286.4,1363.0 276.1,1344.5" fill="#008000" stroke="#008000" stroke-width="1" stroke-linejoin="round"/><polygon points="271.5,1358.7 280.7,1358.7 276.1,1350.1" fill="#fff" />
<polygon points="272.2,1339.5 292.7,1339.5 282.5,1321.0" fill="#008000" stroke="#008000" stroke-width="1" stroke-linejoin="round"/><polygon points="277.9,1335.2 287.1,1335.2 282.5,1326.6" fill="#fff" />
<polygon points="278.7,1326.2 299.2,1326.2 288.9,1307.7" fill="#008000" stroke="#008000" stroke-width="1" stroke-linejoin="round"/><polygon points="284.3,1321.9 293.5,1321.9 288.9,1313.3" fill="#fff" />
<polygon points="285.8,1317.6 306.3,1317.6 296.1,1299.1" fill="#008000" stroke="#008000" stroke-width="1" stroke-linejoin="round"/><polygon points="291.5,1313.3 300.7,1313.3 296.1,1304.7" fill="#fff" />
<polygon points="291.4,1317.6 311.9,1317.6 301.6,1299.1" fill="#008000" stroke="#008000" stroke-width="1" stroke-linejoin="round"/><polygon points="297.0,1313.3 306.2,1313.3 301.6,1304.7" fill="#fff" />
<polygon points="298.3,1317.0 318.8,1317.0 308.6,1298.5" fill="#008000" stroke="#008000" stroke-width="1" stroke-linejoin="round"/><polygon points="304.0,1312.7 313.2,1312.7 308.6,1304.1" fill="#fff" />
<polygon points="303.6,1314.7 324.1,1314.7 313.8,1296.2" fill="#008000" stroke="#008000" stroke-width="1" stroke-linejoin="round"/><polygon points="309.2,1310.4 318.4,1310.4 313.8,1301.8" fill="#fff" />
<polygon points="310.6,1314.2 331.1,1314.2 320.8,1295.7" fill="#008000" stroke="#008000" stroke-width="1" stroke-linejoin="round"/><polygon points="316.2,1309.9 325.4,1309.9 320.8,1301.3" fill="#fff" />
<polygon points="316.9,1313.5 337.4,1313.5 327.2,1295.0" fill="#008000" stroke="#008000" stroke-width="1" stroke-linejoin="round"/><polygon points="322.6,1309.2 331.8,1309.2 327.2,1300.6" fill="#fff" />
<polygon points="323.4,1314.6 343.9,1314.6 333.6,1296.1" fill="#008000" stroke="#008000" stroke-width="1" stroke-linejoin="round"/><polygon points="329.0,1310.3 338.2,1310.3 333.6,1301.7" fill="#fff" />
<polygon points="329.0,1313.4 349.5,1313.4 339.3,1294.9" fill="#008000" stroke="#008000" stroke-width="1" stroke-linejoin="round"/><polygon points="334.7,1309.1 343.9,1309.1 339.3,1300.5" fill="#fff" />
<polygon points="336.4,1312.5 356.9,1312.5 346.6,1294.0" fill="#008000" stroke="#008000" stroke-width="1" stroke-linejoin="round"/><polygon points="342.0,1308.2 351.2,1308.2 346.6,1299.6" fill="#fff" />
<polygon points="341.9,1313.0 362.4,1313.0 352.1,1294.5" fill="#008000" stroke="#008000" stroke-width="1" stroke-linejoin="round"/><polygon points="347.5,1308.7 356.7,1308.7 352.1,1300.1" fill="#fff" />
<polygon points="348.7,1313.2 369.2,1313.2 358.9,1294.7" fill="#008000" stroke="#008000" stroke-width="1" stroke-linejoin="round"/><polygon points="354.3,1308.9 363.5,1308.9 358.9,1300.3" fill="#fff" />
<polygon points="354.7,1313.6 375.2,1313.6 364.9,1295.1" fill="#008000" stroke="#008000" stroke-width="1" stroke-linejoin="round"/><polygon points="360.3,1309.3 369.5,1309.3 364.9,1300.7" fill="#fff" />
<polygon points="361.6,1312.0 382.1,1312.0 371.9,1293.5" fill="#008000" stroke="#008000" stroke-width="1" stroke-linejoin="round"/><polygon points="367.3,1307.7 376.5,1307.7 371.9,1299.1" fill="#fff" />
<polygon points="367.4,1312.9 387.9,1312.9 377.6,1294.4" fill="#008000" stroke="#008000" stroke-width="1" stroke-linejoin="round"/><polygon points="373.0,1308.6 382.2,1308.6 377.6,1300.0" fill="#fff" />
<polygon points="374.8,1311.7 395.3,1311.7 385.0,1293.2" fill="#008000" stroke="#008000" stroke-width="1" stroke-linejoin="round"/><polygon points="380.4,1307.4 389.6,1307.4 385.0,1298.8" fill="#fff" />
<polygon points="380.2,1313.6 400.7,1313.6 390.5,1295.1" fill="#008000" stroke="#008000" stroke-width="1" stroke-linejoin="round"/><polygon points="385.9,1309.3 395.1,1309.3 390.5,1300.7" fill="#fff" />
<polygon points="387.7,1311.5 408.2,1311.5 398.0,1293.0" fill="#008000" stroke="#008000" stroke-width="1" stroke-linejoin="round"/><polygon points="393.4,1307.2 402.6,1307.2 398.0,1298.6" fill="#fff" />
<polygon points="393.4,1313.6 413.9,1313.6 403.6,1295.1" fill="#008000" stroke="#008000" stroke-width="1" stroke-linejoin="round"/><polygon points="399.0,1309.3 408.2,1309.3 403.6,1300.7" fill="#fff" />
<polygon points="400.4,1312.7 420.9,1312.7 410.7,1294.2" fill="#008000" stroke="#008000" stroke-width="1" stroke-linejoin="round"/><polygon points="406.1,1308.4 415.3,1308.4 410.7,1299.8" fill="#fff" />
<polygon points="406.7,1312.0 427.2,1312.0 417.0,1293.5" fill="#008000" stroke="#008000" stroke-width="1" stroke-linejoin="round"/><polygon points="412.4,1307.7 421.6,1307.7 417.0,1299.1" fill="#fff" />
<polygon points="413.0,1313.0 433.5,1313.0 423.2,1294.5" fill="#008000" stroke="#008000" stroke-width="1" stroke-linejoin="round"/><polygon points="418.6,1308.7 427.8,1308.7 423.2,1300.1" fill="#fff" />
<polygon points="419.3,1312.8 439.8,1312.8 429.5,1294.3" fill="#008000" stroke="#008000" stroke-width="1" stroke-linejoin="round"/><polygon points="424.9,1308.5 434.1,1308.5 429.5,1299.9" fill="#fff" />
<polygon points="425.1,1311.3 445.6,1311.3 435.3,1292.8" fill="#008000" stroke="#008000" stroke-width="1" stroke-linejoin="round"/><polygon points="430.7,1307.0 439.9,1307.0 435.3,1298.4" fill="#fff" />
<polygon points="432.1,1312.8 452.6,1312.8 442.3,1294.3" fill="#008000" stroke="#008000" stroke-width="1" stroke-linejoin="round"/><polygon points="437.7,1308.5 446.9,1308.5 442.3,1299.9" fill="#fff" />
<polygon points="437.5,1312.2 458.0,1312.2 447.8,1293.7" fill="#008000" stroke="#008000" stroke-width="1" stroke-linejoin="round"/><polygon points="443.2,1307.9 452.4,1307.9 447.8,1299.3" fill="#fff" />
<polygon points="444.3,1312.2 464.8,1312.2 454.6,1293.7" fill="#008000" stroke="#008000" stroke-width="1" stroke-linejoin="round"/><polygon points="450.0,1307.9 459.2,1307.9 454.6,1299.3" fill="#fff" />
<polygon points="450.1,1312.4 470.6,1312.4 460.3,1293.9" fill="#008000" stroke="#008000" stroke-width="1" stroke-linejoin="round"/><polygon points="455.7,1308.1 464.9,1308.1 460.3,1299.5" fill="#fff" />
<polygon points="457.4,1310.8 477.9,1310.8 467.6,1292.3" fill="#008000" stroke="#008000" stroke-width="1" stroke-linejoin="round"/><polygon points="463.0,1306.5 472.2,1306.5 467.6,1297.9" fill="#fff" />
<polygon points="462.7,1311.6 483.2,1311.6 472.9,1293.1" fill="#008000" stroke="#008000" stroke-width="1" stroke-linejoin="round"/><polygon points="468.3,1307.3 477.5,1307.3 472.9,1298.7" fill="#fff" />
<polygon points="470.1,1312.8 490.6,1312.8 480.4,1294.3" fill="#008000" stroke="#008000" stroke-width="1" stroke-linejoin="round"/><polygon points="475.8,1308.5 485.0,1308.5 480.4,1299.9" fill="#fff" />
<polygon points="476.6,1312.5 497.1,1312.5 486.9,1294.0" fill="#008000" stroke="#008000" stroke-width="1" stroke-linejoin="round"/><polygon points="482.3,1308.2 491.5,1308.2 486.9,1299.6" fill="#fff" />
<polygon points="482.6,1311.4 503.1,1311.4 492.9,1292.9" fill="#008000" stroke="#008000" stroke-width="1" stroke-linejoin="round"/><polygon points="488.3,1307.1 497.5,1307.1 492.9,1298.5" fill="#fff" />
<polygon points="489.0,1311.9 509.5,1311.9 499.3,1293.4" fill="#008000" stroke="#008000" stroke-width="1" stroke-linejoin="round"/><polygon points="494.7,1307.6 503.9,1307.6 499.3,1299.0" fill="#fff" />
<polygon points="495.1,1311.2 515.6,1311.2 505.3,1292.7" fill="#008000" stroke="#008000" stroke-width="1" stroke-linejoin="round"/><polygon points="500.7,1306.9 509.9,1306.9 505.3,1298.3" fill="#fff" />
<polygon points="501.4,1311.0 521.9,1311.0 511.7,1292.5" fill="#008000" stroke="#008000" stroke-width="1" stroke-linejoin="round"/><polygon points="507.1,1306.7 516.3,1306.7 511.7,1298.1" fill="#fff" />
<polygon points="507.8,1311.4 528.3,1311.4 518.1,1292.9" fill="#008000" stroke="#008000" stroke-width="1" stroke-linejoin="round"/><polygon points="513.5,1307.1 522.7,1307.1 518.1,1298.5" fill="#fff" />
<polygon points="513.5,1310.9 534.0,1310.9 523.8,1292.4" fill="#008000" stroke="#008000" stroke-width="1" stroke-linejoin="round"/><polygon points="519.2,1306.6 528.4,1306.6 523.8,1298.0" fill="#fff" />
<polygon points="519.4,1357.4 539.9,1357.4 529.6,1338.9" fill="#008000" stroke="#008000" stroke-width="1" stroke-linejoin="round"/><polygon points="525.0,1353.1 534.2,1353.1 529.6,1344.5" fill="#fff" />
<polygon points="524.9,1373.6 545.4,1373.6 535.1,1355.1" fill="#008000" stroke="#008000" stroke-width="1" stroke-linejoin="round"/><polygon points="530.5,1369.3 539.7,1369.3 535.1,1360.7" fill="#fff" />
<polygon points="530.1,1374.4 550.6,1374.4 540.4,1355.9" fill="#008000" stroke="#008000" stroke-width="1" stroke-linejoin="round"/><polygon points="535.8,1370.1 545.0,1370.1 540.4,1361.5" fill="#fff" />
<polygon points="536.5,1374.5 557.0,1374.5 546.8,1356.0" fill="#008000" stroke="#008000" stroke-width="1" stroke-linejoin="round"/><polygon points="542.2,1370.2 551.4,1370.2 546.8,1361.6" fill="#fff" />
<polygon points="542.3,1374.0 562.8,1374.0 552.6,1355.5" fill="#008000" stroke="#008000" stroke-width="1" stroke-linejoin="round"/><polygon points="548.0,1369.7 557.2,1369.7 552.6,1361.1" fill="#fff" />
<polygon points="548.6,1374.0 569.1,1374.0 558.9,1355.5" fill="#008000" stroke="#008000" stroke-width="1" stroke-linejoin="round"/><polygon points="554.3,1369.7 563.5,1369.7 558.9,1361.1" fill="#fff" />
<polygon points="555.6,1374.6 576.1,1374.6 565.9,1356.1" fill="#008000" stroke="#008000" stroke-width="1" stroke-linejoin="round"/><polygon points="561.3,1370.3 570.5,1370.3 565.9,1361.7" fill="#fff" />
<polygon points="562.2,1374.5 582.7,1374.5 572.5,1356.0" fill="#008000" stroke="#008000" stroke-width="1" stroke-linejoin="round"/><polygon points="567.9,1370.2 577.1,1370.2 572.5,1361.6" fill="#fff" />
<polygon points="568.7,1373.6 589.2,1373.6 579.0,1355.1" fill="#008000" stroke="#008000" stroke-width="1" stroke-linejoin="round"/><polygon points="574.4,1369.3 583.6,1369.3 579.0,1360.7" fill="#fff" />
<polygon points="574.7,1374.6 595.2,1374.6 585.0,1356.1" fill="#008000" stroke="#008000" stroke-width="1" stroke-linejoin="round"/><polygon points="580.4,1370.3 589.6,1370.3 585.0,1361.7" fill="#fff" />
<polygon points="583.0,1357.1 603.5,1357.1 593.2,1338.6" fill="#008000" stroke="#008000" stroke-width="1" stroke-linejoin="round"/><polygon points="588.6,1352.8 597.8,1352.8 593.2,1344.2" fill="#fff" />
<polygon points="590.0,1323.4 610.5,1323.4 600.3,1304.9" fill="#008000" stroke="#008000" stroke-width="1" stroke-linejoin="round"/><polygon points="595.7,1319.1 604.9,1319.1 600.3,1310.5" fill="#fff" />
<polygon points="596.3,1313.0 616.8,1313.0 606.5,1294.5" fill="#008000" stroke="#008000" stroke-width="1" stroke-linejoin="round"/><polygon points="601.9,1308.7 611.1,1308.7 606.5,1300.1" fill="#fff" />
<polygon points="602.4,1309.6 622.9,1309.6 612.7,1291.1" fill="#008000" stroke="#008000" stroke-width="1" stroke-linejoin="round"/><polygon points="608.1,1305.3 617.3,1305.3 612.7,1296.7" fill="#fff" />
<polygon points="608.0,1308.4 628.5,1308.4 618.2,1289.9" fill="#008000" stroke="#008000" stroke-width="1" stroke-linejoin="round"/><polygon points="613.6,1304.1 622.8,1304.1 618.2,1295.5" fill="#fff" />
<polygon points="614.8,1307.7 635.3,1307.7 625.0,1289.2" fill="#008000" stroke="#008000" stroke-width="1" stroke-linejoin="round"/><polygon points="620.4,1303.4 629.6,1303.4 625.0,1294.8" fill="#fff" />
<polygon points="621.8,1309.2 642.3,1309.2 632.0,1290.7" fill="#008000" stroke="#008000" stroke-width="1" stroke-linejoin="round"/><polygon points="627.4,1304.9 636.6,1304.9 632.0,1296.3" fill="#fff" />
<polygon points="628.0,1307.3 648.5,1307.3 638.2,1288.8" fill="#008000" stroke="#008000" stroke-width="1" stroke-linejoin="round"/><polygon points="633.6,1303.0 642.8,1303.0 638.2,1294.4" fill="#fff" />
<polygon points="633.2,1308.6 653.7,1308.6 643.5,1290.1" fill="#008000" stroke="#008000" stroke-width="1" stroke-linejoin="round"/><polygon points="638.9,1304.3 648.1,1304.3 643.5,1295.7" fill="#fff" />
<polygon points="640.6,1309.0 661.1,1309.0 650.9,1290.5" fill="#008000" stroke="#008000" stroke-width="1" stroke-linejoin="round"/><polygon points="646.3,1304.7 655.5,1304.7 650.9,1296.1" fill="#fff" />
<polygon points="647.2,1308.6 667.7,1308.6 657.5,1290.1" fill="#008000" stroke="#008000" stroke-width="1" stroke-linejoin="round"/><polygon points="652.9,1304.3 662.1,1304.3 657.5,1295.7" fill="#fff" />
<polygon points="653.5,1308.8 674.0,1308.8 663.7,1290.3" fill="#008000" stroke="#008000" stroke-width="1" stroke-linejoin="round"/><polygon points="659.1,1304.5 668.3,1304.5 663.7,1295.9" fill="#fff" />
<polygon points="659.3,1306.9 679.8,1306.9 669.6,1288.4" fill="#008000" stroke="#008000" stroke-width="1" stroke-linejoin="round"/><polygon points="665.0,1302.6 674.2,1302.6 669.6,1294.0" fill="#fff" />
<polygon points="665.2,1308.4 685.7,1308.4 675.5,1289.9" fill="#008000" stroke="#008000" stroke-width="1" stroke-linejoin="round"/><polygon points="670.9,1304.1 680.1,1304.1 675.5,1295.5" fill="#fff" />
<polygon points="672.1,1308.1 692.6,1308.1 682.3,1289.6" fill="#008000" stroke="#008000" stroke-width="1" stroke-linejoin="round"/><polygon points="677.7,1303.8 686.9,1303.8 682.3,1295.2" fill="#fff" />
<polygon points="677.7,1308.4 698.2,1308.4 688.0,1289.9" fill="#008000" stroke="#008000" stroke-width="1" stroke-linejoin="round"/><polygon points="683.4,1304.1 692.6,1304.1 688.0,1295.5" fill="#fff" />
<polygon points="684.3,1306.5 704.8,1306.5 694.5,1288.0" fill="#008000" stroke="#008000" stroke-width="1" stroke-linejoin="round"/><polygon points="689.9,1302.2 699.1,1302.2 694.5,1293.6" fill="#fff" />
<polygon points="691.4,1306.5 711.9,1306.5 701.7,1288.0" fill="#008000" stroke="#008000" stroke-width="1" stroke-linejoin="round"/><polygon points="697.1,1302.2 706.3,1302.2 701.7,1293.6" fill="#fff" />
<polygon points="697.0,1306.6 717.5,1306.6 707.2,1288.1" fill="#008000" stroke="#008000" stroke-width="1" stroke-linejoin="round"/><polygon points="702.6,1302.3 711.8,1302.3 707.2,1293.7" fill="#fff" />
<polygon points="703.3,1307.2 723.8,1307.2 713.5,1288.7" fill="#008000" stroke="#008000" stroke-width="1" stroke-linejoin="round"/><polygon points="708.9,1302.9 718.1,1302.9 713.5,1294.3" fill="#fff" />
<polygon points="710.4,1307.5 730.9,1307.5 720.7,1289.0" fill="#008000" stroke="#008000" stroke-width="1" stroke-linejoin="round"/><polygon points="716.1,1303.2 725.3,1303.2 720.7,1294.6" fill="#fff" />
<polygon points="717.2,1306.9 737.7,1306.9 727.4,1288.4" fill="#008000" stroke="#008000" stroke-width="1" stroke-linejoin="round"/><polygon points="722.8,1302.6 732.0,1302.6 727.4,1294.0" fill="#fff" />
<polygon points="723.1,1306.0 743.6,1306.0 733.3,1287.5" fill="#008000" stroke="#008000" stroke-width="1" stroke-linejoin="round"/><polygon points="728.7,1301.7 737.9,1301.7 733.3,1293.1" fill="#fff" />
<polygon points="728.7,1305.7 749.2,1305.7 739.0,1287.2" fill="#008000" stroke="#008000" stroke-width="1" stroke-linejoin="round"/><polygon points="734.4,1301.4 743.6,1301.4 739.0,1292.8" fill="#fff" />
<polygon points="735.9,1307.0 756.4,1307.0 746.1,1288.5" fill="#008000" stroke="#008000" stroke-width="1" stroke-linejoin="round"/><polygon points="741.5,1302.7 750.7,1302.7 746.1,1294.1" fill="#fff" />
<polygon points="742.5,1307.2 763.0,1307.2 752.7,1288.7" fill="#008000" stroke="#008000" stroke-width="1" stroke-linejoin="round"/><polygon points="748.1,1302.9 757.3,1302.9 752.7,1294.3" fill="#fff" />
<polygon points="749.1,1306.4 769.6,1306.4 759.4,1287.9" fill="#008000" stroke="#008000" stroke-width="1" stroke-linejoin="round"/><polygon points="754.8,1302.1 764.0,1302.1 759.4,1293.5" fill="#fff" />
<polygon points="754.5,1305.9 775.0,1305.9 764.8,1287.4" fill="#008000" stroke="#008000" stroke-width="1" stroke-linejoin="round"/><polygon points="760.2,1301.6 769.4,1301.6 764.8,1293.0" fill="#fff" />
<polygon points="761.0,1307.2 781.5,1307.2 771.3,1288.7" fill="#008000" stroke="#008000" stroke-width="1" stroke-linejoin="round"/><polygon points="766.7,1302.9 775.9,1302.9 771.3,1294.3" fill="#fff" />
<polygon points="767.9,1307.4 788.4,1307.4 778.1,1288.9" fill="#008000" stroke="#008000" stroke-width="1" stroke-linejoin="round"/><polygon points="773.5,1303.1 782.7,1303.1 778.1,1294.5" fill="#fff" />
<polygon points="774.3,1306.8 794.8,1306.8 784.6,1288.3" fill="#008000" stroke="#008000" stroke-width="1" stroke-linejoin="round"/><polygon points="780.0,1302.5 789.2,1302.5 784.6,1293.9" fill="#fff" />
<polygon points="780.4,1305.0 800.9,1305.0 790.7,1286.5" fill="#008000" stroke="#008000" stroke-width="1" stroke-linejoin="round"/><polygon points="786.1,1300.7 795.3,1300.7 790.7,1292.1" fill="#fff" />
<polygon points="786.7,1305.6 807.2,1305.6 797.0,1287.1" fill="#008000" stroke="#008000" stroke-width="1" stroke-linejoin="round"/><polygon points="792.4,1301.3 801.6,1301.3 797.0,1292.7" fill="#fff" />
<polygon points="792.6,1307.1 813.1,1307.1 802.9,1288.6" fill="#008000" stroke="#008000" stroke-width="1" stroke-linejoin="round"/><polygon points="798.3,1302.8 807.5,1302.8 802.9,1294.2" fill="#fff" />
<polygon points="798.6,1306.7 819.1,1306.7 808.8,1288.2" fill="#008000" stroke="#008000" stroke-width="1" stroke-linejoin="round"/><polygon points="804.2,1302.4 813.4,1302.4 808.8,1293.8" fill="#fff" />
<polygon points="805.8,1305.9 826.3,1305.9 816.1,1287.4" fill="#008000" stroke="#008000" stroke-width="1" stroke-linejoin="round"/><polygon points="811.5,1301.6 820.7,1301.6 816.1,1293.0" fill="#fff" />
<polygon points="812.0,1304.7 832.5,1304.7 822.3,1286.2" fill="#008000" stroke="#008000" stroke-width="1" stroke-linejoin="round"/><polygon points="817.7,1300.4 826.9,1300.4 822.3,1291.8" fill="#fff" />
<polygon points="817.8,1306.2 838.3,1306.2 828.1,1287.7" fill="#008000" stroke="#008000" stroke-width="1" stroke-linejoin="round"/><polygon points="823.5,1301.9 832.7,1301.9 828.1,1293.3" fill="#fff" />
<polygon points="825.0,1306.6 845.5,1306.6 835.2,1288.1" fill="#008000" stroke="#008000" stroke-width="1" stroke-linejoin="round"/><polygon points="830.6,1302.3 839.8,1302.3 835.2,1293.7" fill="#fff" />
<polygon points="830.3,1305.7 850.8,1305.7 840.6,1287.2" fill="#008000" stroke="#008000" stroke-width="1" stroke-linejoin="round"/><polygon points="836.0,1301.4 845.2,1301.4 840.6,1292.8" fill="#fff" />
<polygon points="835.0,1346.9 855.5,1346.9 845.2,1328.4" fill="#008000" stroke="#008000" stroke-width="1" stroke-linejoin="round"/><polygon points="840.6,1342.6 849.8,1342.6 845.2,1334.0" fill="#fff" />
<polygon points="840.9,1367.0 861.4,1367.0 851.1,1348.5" fill="#008000" stroke="#008000" stroke-width="1" stroke-linejoin="round"/><polygon points="846.5,1362.7 855.7,1362.7 851.1,1354.1" fill="#fff" />
<polygon points="847.1,1374.4 867.6,1374.4 857.4,1355.9" fill="#008000" stroke="#008000" stroke-width="1" stroke-linejoin="round"/><polygon points="852.8,1370.1 862.0,1370.1 857.4,1361.5" fill="#fff" />
<polygon points="852.9,1374.0 873.4,1374.0 863.2,1355.5" fill="#008000" stroke="#008000" stroke-width="1" stroke-linejoin="round"/><polygon points="858.6,1369.7 867.8,1369.7 863.2,1361.1" fill="#fff" />
<polygon points="858.5,1373.4 879.0,1373.4 868.8,1354.9" fill="#008000" stroke="#008000" stroke-width="1" stroke-linejoin="round"/><polygon points="864.2,1369.1 873.4,1369.1 868.8,1360.5" fill="#fff" />
<polygon points="865.1,1374.4 885.6,1374.4 875.3,1355.9" fill="#008000" stroke="#008000" stroke-width="1" stroke-linejoin="round"/><polygon points="870.7,1370.1 879.9,1370.1 875.3,1361.5" fill="#fff" />
<polygon points="871.2,1373.8 891.7,1373.8 881.5,1355.3" fill="#008000" stroke="#008000" stroke-width="1" stroke-linejoin="round"/><polygon points="876.9,1369.5 886.1,1369.5 881.5,1360.9" fill="#fff" />
<polygon points="878.8,1373.6 899.3,1373.6 889.0,1355.1" fill="#008000" stroke="#008000" stroke-width="1" stroke-linejoin="round"/><polygon points="884.4,1369.3 893.6,1369.3 889.0,1360.7" fill="#fff" />
<polygon points="884.4,1374.3 904.9,1374.3 894.6,1355.8" fill="#008000" stroke="#008000" stroke-width="1" stroke-linejoin="round"/><polygon points="890.0,1370.0 899.2,1370.0 894.6,1361.4" fill="#fff" />
<polygon points="890.2,1373.8 910.7,1373.8 900.4,1355.3" fill="#008000" stroke="#008000" stroke-width="1" stroke-linejoin="round"/><polygon points="895.8,1369.5 905.0,1369.5 900.4,1360.9" fill="#fff" />
<polygon points="897.4,1374.2 917.9,1374.2 907.6,1355.7" fill="#008000" stroke="#008000" stroke-width="1" stroke-linejoin="round"/><polygon points="903.0,1369.9 912.2,1369.9 907.6,1361.3" fill="#fff" />
<polyline points="218.7,1364.8 225.5,1364.4 230.9,1364.1 236.9,1364.7 243.8,1365.1 249.7,1364.3 255.9,1356.7 263.7,1353.6 269.0,1345.6 276.4,1299.2 283.3,1272.9 288.8,1252.1 294.8,1239.8 302.3,1236.3 307.5,1233.7 315.0,1232.4 321.3,1230.2 326.9,1230.4 333.3,1230.4 339.8,1228.4 346.7,1228.0 353.1,1229.1 359.2,1228.5 365.9,1228.0 371.5,1227.5 378.9,1228.3 385.1,1228.6 390.6,1227.8 397.7,1225.9 404.0,1227.1 410.6,1226.9 416.0,1225.3 422.9,1225.6 429.3,1224.8 435.4,1225.0 442.1,1224.8 448.1,1224.9 454.7,1225.7 460.5,1224.8 466.6,1224.0 473.1,1225.9 479.4,1223.6 486.1,1225.3 492.0,1225.4 499.4,1223.8 505.7,1223.4 511.1,1223.6 518.0,1222.9 525.0,1222.5 529.0,1350.1 535.3,1364.1 539.8,1365.1 546.2,1365.3 553.7,1364.3 559.7,1364.3 566.1,1365.0 571.6,1365.3 579.0,1365.1 584.7,1364.8 592.5,1279.6 599.3,1231.5 605.8,1224.9 613.0,1221.2 619.2,1220.5 624.3,1220.6 631.3,1219.4 637.5,1219.1 644.2,1219.9 651.0,1219.8 657.3,1219.1 662.5,1218.5 670.0,1216.1 675.2,1216.7 682.3,1215.4 688.2,1215.6 694.8,1214.3 701.0,1213.4 707.4,1214.6 714.4,1213.4 719.9,1212.5 726.2,1211.5 733.5,1210.9 739.8,1211.3 745.8,1210.6 752.9,1210.7 759.2,1210.2 764.6,1209.0 772.0,1207.8 777.6,1206.3 783.7,1206.6 790.5,1205.3 797.2,1204.9 803.0,1205.1 809.0,1203.2 816.2,1202.8 821.8,1202.9 829.0,1201.9 834.4,1201.6 841.9,1201.5 845.3,1313.8 851.8,1353.9 856.7,1365.2 862.6,1364.9 869.4,1365.2 875.4,1365.1 882.8,1364.4 887.8,1364.1 894.2,1364.9 901.9,1364.3 907.9,1364.8" fill="none" stroke="#0000ff" stroke-width="3.6" stroke-linejoin="round"/>
<rect x="210.2" y="1356.8" width="17.0" height="16.0" rx="1.3" fill="#0000ff"/>
<rect x="217.0" y="1356.4" width="17.0" height="16.0" rx="1.3" fill="#0000ff"/>
<rect x="222.4" y="1356.1" width="17.0" height="16.0" rx="1.3" fill="#0000ff"/>
<rect x="228.4" y="1356.7" width="17.0" height="16.0" rx="1.3" fill="#0000ff"/>
<rect x="235.3" y="1357.1" width="17.0" height="16.0" rx="1.3" fill="#0000ff"/>
<rect x="241.2" y="1356.3" width="17.0" height="16.0" rx="1.3" fill="#0000ff"/>
<rect x="247.4" y="1348.7" width="17.0" height="16.0" rx="1.3" fill="#0000ff"/>
<rect x="255.2" y="1345.6" width="17.0" height="16.0" rx="1.3" fill="#0000ff"/>
<rect x="260.5" y="1337.6" width="17.0" height="16.0" rx="1.3" fill="#0000ff"/>
<rect x="267.9" y="1291.2" width="17.0" height="16.0" rx="1.3" fill="#0000ff"/>
<rect x="274.8" y="1264.9" width="17.0" height="16.0" rx="1.3" fill="#0000ff"/>
<rect x="280.3" y="1244.1" width="17.0" height="16.0" rx="1.3" fill="#0000ff"/>
<rect x="286.3" y="1231.8" width="17.0" height="16.0" rx="1.3" fill="#0000ff"/>
<rect x="293.8" y="1228.3" width="17.0" height="16.0" rx="1.3" fill="#0000ff"/>
<rect x="299.0" y="1225.7" width="17.0" height="16.0" rx="1.3" fill="#0000ff"/>
<rect x="306.5" y="1224.4" width="17.0" height="16.0" rx="1.3" fill="#0000ff"/>
<rect x="312.8" y="1222.2" width="17.0" height="16.0" rx="1.3" fill="#0000ff"/>
<rect x="318.4" y="1222.4" width="17.0" height="16.0" rx="1.3" fill="#0000ff"/>
<rect x="324.8" y="1222.4" width="17.0" height="16.0" rx="1.3" fill="#0000ff"/>
<rect x="331.3" y="1220.4" width="17.0" height="16.0" rx="1.3" fill="#0000ff"/>
<rect x="338.2" y="1220.0" width="17.0" height="16.0" rx="1.3" fill="#0000ff"/>
<rect x="344.6" y="1221.1" width="17.0" height="16.0" rx="1.3" fill="#0000ff"/>
<rect x="350.7" y="1220.5" width="17.0" height="16.0" rx="1.3" fill="#0000ff"/>
<rect x="357.4" y="1220.0" width="17.0" height="16.0" rx="1.3" fill="#0000ff"/>
<rect x="363.0" y="1219.5" width="17.0" height="16.0" rx="1.3" fill="#0000ff"/>
<rect x="370.4" y="1220.3" width="17.0" height="16.0" rx="1.3" fill="#0000ff"/>
<rect x="376.6" y="1220.6" width="17.0" height="16.0" rx="1.3" fill="#0000ff"/>
<rect x="382.1" y="1219.8" width="17.0" height="16.0" rx="1.3" fill="#0000ff"/>
<rect x="389.2" y="1217.9" width="17.0" height="16.0" rx="1.3" fill="#0000ff"/>
<rect x="395.5" y="1219.1" width="17.0" height="16.0" rx="1.3" fill="#0000ff"/>
<rect x="402.1" y="1218.9" width="17.0" height="16.0" rx="1.3" fill="#0000ff"/>
<rect x="407.5" y="1217.3" width="17.0" height="16.0" rx="1.3" fill="#0000ff"/>
<rect x="414.4" y="1217.6" width="17.0" height="16.0" rx="1.3" fill="#0000ff"/>
<rect x="420.8" y="1216.8" width="17.0" height="16.0" rx="1.3" fill="#0000ff"/>
<rect x="426.9" y="1217.0" width="17.0" height="16.0" rx="1.3" fill="#0000ff"/>
<rect x="433.6" y="1216.8" width="17.0" height="16.0" rx="1.3" fill="#0000ff"/>
<rect x="439.6" y="1216.9" width="17.0" height="16.0" rx="1.3" fill="#0000ff"/>
<rect x="446.2" y="1217.7" width="17.0" height="16.0" rx="1.3" fill="#0000ff"/>
<rect x="452.0" y="1216.8" width="17.0" height="16.0" rx="1.3" fill="#0000ff"/>
<rect x="458.1" y="1216.0" width="17.0" height="16.0" rx="1.3" fill="#0000ff"/>
<rect x="464.6" y="1217.9" width="17.0" height="16.0" rx="1.3" fill="#0000ff"/>
<rect x="470.9" y="1215.6" width="17.0" height="16.0" rx="1.3" fill="#0000ff"/>
<rect x="477.6" y="1217.3" width="17.0" height="16.0" rx="1.3" fill="#0000ff"/>
<rect x="483.5" y="1217.4" width="17.0" height="16.0" rx="1.3" fill="#0000ff"/>
<rect x="490.9" y="1215.8" width="17.0" height="16.0" rx="1.3" fill="#0000ff"/>
<rect x="497.2" y="1215.4" width="17.0" height="16.0" rx="1.3" fill="#0000ff"/>
<rect x="502.6" y="1215.6" width="17.0" height="16.0" rx="1.3" fill="#0000ff"/>
<rect x="509.5" y="1214.9" width="17.0" height="16.0" rx="1.3" fill="#0000ff"/>
<rect x="516.5" y="1214.5" width="17.0" height="16.0" rx="1.3" fill="#0000ff"/>
<rect x="520.5" y="1342.1" width="17.0" height="16.0" rx="1.3" fill="#0000ff"/>
<rect x="526.8" y="1356.1" width="17.0" height="16.0" rx="1.3" fill="#0000ff"/>
<rect x="531.3" y="1357.1" width="17.0" height="16.0" rx="1.3" fill="#0000ff"/>
<rect x="537.7" y="1357.3" width="17.0" height="16.0" rx="1.3" fill="#0000ff"/>
<rect x="545.2" y="1356.3" width="17.0" height="16.0" rx="1.3" fill="#0000ff"/>
<rect x="551.2" y="1356.3" width="17.0" height="16.0" rx="1.3" fill="#0000ff"/>
<rect x="557.6" y="1357.0" width="17.0" height="16.0" rx="1.3" fill="#0000ff"/>
<rect x="563.1" y="1357.3" width="17.0" height="16.0" rx="1.3" fill="#0000ff"/>
<rect x="570.5" y="1357.1" width="17.0" height="16.0" rx="1.3" fill="#0000ff"/>
<rect x="576.2" y="1356.8" width="17.0" height="16.0" rx="1.3" fill="#0000ff"/>
<rect x="584.0" y="1271.6" width="17.0" height="16.0" rx="1.3" fill="#0000ff"/>
<rect x="590.8" y="1223.5" width="17.0" height="16.0" rx="1.3" fill="#0000ff"/>
<rect x="597.3" y="1216.9" width="17.0" height="16.0" rx="1.3" fill="#0000ff"/>
<rect x="604.5" y="1213.2" width="17.0" height="16.0" rx="1.3" fill="#0000ff"/>
<rect x="610.7" y="1212.5" width="17.0" height="16.0" rx="1.3" fill="#0000ff"/>
<rect x="615.8" y="1212.6" width="17.0" height="16.0" rx="1.3" fill="#0000ff"/>
<rect x="622.8" y="1211.4" width="17.0" height="16.0" rx="1.3" fill="#0000ff"/>
<rect x="629.0" y="1211.1" width="17.0" height="16.0" rx="1.3" fill="#0000ff"/>
<rect x="635.7" y="1211.9" width="17.0" height="16.0" rx="1.3" fill="#0000ff"/>
<rect x="642.5" y="1211.8" width="17.0" height="16.0" rx="1.3" fill="#0000ff"/>
<rect x="648.8" y="1211.1" width="17.0" height="16.0" rx="1.3" fill="#0000ff"/>
<rect x="654.0" y="1210.5" width="17.0" height="16.0" rx="1.3" fill="#0000ff"/>
<rect x="661.5" y="1208.1" width="17.0" height="16.0" rx="1.3" fill="#0000ff"/>
<rect x="666.7" y="1208.7" width="17.0" height="16.0" rx="1.3" fill="#0000ff"/>
<rect x="673.8" y="1207.4" width="17.0" height="16.0" rx="1.3" fill="#0000ff"/>
<rect x="679.7" y="1207.6" width="17.0" height="16.0" rx="1.3" fill="#0000ff"/>
<rect x="686.3" y="1206.3" width="17.0" height="16.0" rx="1.3" fill="#0000ff"/>
<rect x="692.5" y="1205.4" width="17.0" height="16.0" rx="1.3" fill="#0000ff"/>
<rect x="698.9" y="1206.6" width="17.0" height="16.0" rx="1.3" fill="#0000ff"/>
<rect x="705.9" y="1205.4" width="17.0" height="16.0" rx="1.3" fill="#0000ff"/>
<rect x="711.4" y="1204.5" width="17.0" height="16.0" rx="1.3" fill="#0000ff"/>
<rect x="717.7" y="1203.5" width="17.0" height="16.0" rx="1.3" fill="#0000ff"/>
<rect x="725.0" y="1202.9" width="17.0" height="16.0" rx="1.3" fill="#0000ff"/>
<rect x="731.3" y="1203.3" width="17.0" height="16.0" rx="1.3" fill="#0000ff"/>
<rect x="737.3" y="1202.6" width="17.0" height="16.0" rx="1.3" fill="#0000ff"/>
<rect x="744.4" y="1202.7" width="17.0" height="16.0" rx="1.3" fill="#0000ff"/>
<rect x="750.7" y="1202.2" width="17.0" height="16.0" rx="1.3" fill="#0000ff"/>
<rect x="756.1" y="1201.0" width="17.0" height="16.0" rx="1.3" fill="#0000ff"/>
<rect x="763.5" y="1199.8" width="17.0" height="16.0" rx="1.3" fill="#0000ff"/>
<rect x="769.1" y="1198.3" width="17.0" height="16.0" rx="1.3" fill="#0000ff"/>
<rect x="775.2" y="1198.6" width="17.0" height="16.0" rx="1.3" fill="#0000ff"/>
<rect x="782.0" y="1197.3" width="17.0" height="16.0" rx="1.3" fill="#0000ff"/>
<rect x="788.7" y="1196.9" width="17.0" height="16.0" rx="1.3" fill="#0000ff"/>
<rect x="794.5" y="1197.1" width="17.0" height="16.0" rx="1.3" fill="#0000ff"/>
<rect x="800.5" y="1195.2" width="17.0" height="16.0" rx="1.3" fill="#0000ff"/>
<rect x="807.7" y="1194.8" width="17.0" height="16.0" rx="1.3" fill="#0000ff"/>
<rect x="813.3" y="1194.9" width="17.0" height="16.0" rx="1.3" fill="#0000ff"/>
<rect x="820.5" y="1193.9" width="17.0" height="16.0" rx="1.3" fill="#0000ff"/>
<rect x="825.9" y="1193.6" width="17.0" height="16.0" rx="1.3" fill="#0000ff"/>
<rect x="833.4" y="1193.5" width="17.0" height="16.0" rx="1.3" fill="#0000ff"/>
<rect x="836.8" y="1305.8" width="17.0" height="16.0" rx="1.3" fill="#0000ff"/>
<rect x="843.3" y="1345.9" width="17.0" height="16.0" rx="1.3" fill="#0000ff"/>
<rect x="848.2" y="1357.2" width="17.0" height="16.0" rx="1.3" fill="#0000ff"/>
<rect x="854.1" y="1356.9" width="17.0" height="16.0" rx="1.3" fill="#0000ff"/>
<rect x="860.9" y="1357.2" width="17.0" height="16.0" rx="1.3" fill="#0000ff"/>
<rect x="866.9" y="1357.1" width="17.0" height="16.0" rx="1.3" fill="#0000ff"/>
<rect x="874.3" y="1356.4" width="17.0" height="16.0" rx="1.3" fill="#0000ff"/>
<rect x="879.3" y="1356.1" width="17.0" height="16.0" rx="1.3" fill="#0000ff"/>
<rect x="885.7" y="1356.9" width="17.0" height="16.0" rx="1.3" fill="#0000ff"/>
<rect x="893.4" y="1356.3" width="17.0" height="16.0" rx="1.3" fill="#0000ff"/>
<rect x="899.4" y="1356.8" width="17.0" height="16.0" rx="1.3" fill="#0000ff"/>
<polyline points="218.1,1364.5 224.3,1365.1 231.1,1365.3 237.4,1364.3 244.3,1364.7 250.5,1364.8 256.1,1364.6 262.9,1364.4 270.0,1364.8 276.5,1329.9 282.7,1265.9 289.5,1193.9 295.9,1177.9 302.4,1174.3 308.4,1173.6 314.3,1172.4 320.3,1172.0 327.7,1170.6 333.9,1170.7 339.9,1169.8 346.6,1169.6 353.0,1168.2 358.6,1168.4 365.9,1168.6 371.8,1167.1 377.5,1167.6 384.0,1166.8 391.6,1167.0 396.7,1166.5 403.7,1165.8 410.0,1165.6 416.9,1165.4 422.6,1164.1 428.7,1164.2 435.3,1163.7 441.2,1162.8 448.0,1164.3 454.2,1163.2 460.2,1162.7 467.1,1161.7 473.4,1162.2 479.6,1160.8 487.0,1160.8 492.3,1159.8 498.9,1160.6 504.9,1159.1 512.3,1158.9 518.1,1158.7 524.1,1157.4 529.4,1306.1 535.2,1364.3 540.4,1365.0 546.9,1365.2 553.7,1364.9 560.1,1365.0 565.7,1365.0 572.1,1365.1 577.8,1364.4 584.6,1365.0 592.9,1313.3 599.5,1217.0 606.2,1167.9 613.0,1162.2 618.0,1160.6 625.7,1159.1 630.9,1157.4 638.0,1157.4 643.4,1153.9 650.7,1153.7 656.2,1153.0 662.8,1151.3 669.3,1152.2 676.6,1150.5 681.8,1149.9 688.8,1149.8 695.3,1149.2 701.8,1148.9 707.3,1148.8 714.2,1148.3 720.4,1147.6 726.9,1148.7 732.8,1148.8 739.6,1148.8 745.9,1148.5 752.3,1147.6 758.7,1146.7 764.3,1146.6 771.3,1147.0 778.0,1146.3 783.9,1147.0 791.2,1147.5 797.0,1146.2 802.5,1146.1 809.8,1145.3 815.6,1145.0 822.3,1145.9 829.2,1146.6 835.3,1145.2 841.1,1144.6 845.6,1243.1 851.6,1312.7 856.8,1364.8 862.9,1364.6 869.8,1365.0 876.2,1364.8 882.1,1365.0 888.4,1364.0 895.0,1364.3 900.9,1365.0 907.2,1364.6" fill="none" stroke="#ff7f00" stroke-width="3.6" stroke-linejoin="round"/>
<polygon points="207.8,1355.3 228.3,1355.3 218.1,1373.8" fill="#ff7f00" stroke="#ff7f00" stroke-width="1" stroke-linejoin="round"/><polygon points="213.0,1359.6 223.2,1359.6 218.1,1368.4" fill="#fff" />
<polygon points="214.0,1355.9 234.5,1355.9 224.3,1374.4" fill="#ff7f00" stroke="#ff7f00" stroke-width="1" stroke-linejoin="round"/><polygon points="219.2,1360.2 229.4,1360.2 224.3,1369.0" fill="#fff" />
<polygon points="220.8,1356.1 241.3,1356.1 231.1,1374.6" fill="#ff7f00" stroke="#ff7f00" stroke-width="1" stroke-linejoin="round"/><polygon points="226.0,1360.4 236.2,1360.4 231.1,1369.2" fill="#fff" />
<polygon points="227.2,1355.1 247.7,1355.1 237.4,1373.6" fill="#ff7f00" stroke="#ff7f00" stroke-width="1" stroke-linejoin="round"/><polygon points="232.3,1359.4 242.5,1359.4 237.4,1368.2" fill="#fff" />
<polygon points="234.0,1355.4 254.5,1355.4 244.3,1373.9" fill="#ff7f00" stroke="#ff7f00" stroke-width="1" stroke-linejoin="round"/><polygon points="239.2,1359.7 249.4,1359.7 244.3,1368.5" fill="#fff" />
<polygon points="240.3,1355.5 260.8,1355.5 250.5,1374.0" fill="#ff7f00" stroke="#ff7f00" stroke-width="1" stroke-linejoin="round"/><polygon points="245.4,1359.8 255.6,1359.8 250.5,1368.6" fill="#fff" />
<polygon points="245.9,1355.3 266.4,1355.3 256.1,1373.8" fill="#ff7f00" stroke="#ff7f00" stroke-width="1" stroke-linejoin="round"/><polygon points="251.0,1359.6 261.2,1359.6 256.1,1368.4" fill="#fff" />
<polygon points="252.7,1355.1 273.2,1355.1 262.9,1373.6" fill="#ff7f00" stroke="#ff7f00" stroke-width="1" stroke-linejoin="round"/><polygon points="257.8,1359.4 268.0,1359.4 262.9,1368.2" fill="#fff" />
<polygon points="259.8,1355.5 280.3,1355.5 270.0,1374.0" fill="#ff7f00" stroke="#ff7f00" stroke-width="1" stroke-linejoin="round"/><polygon points="264.9,1359.8 275.1,1359.8 270.0,1368.6" fill="#fff" />
<polygon points="266.3,1320.7 286.8,1320.7 276.5,1339.2" fill="#ff7f00" stroke="#ff7f00" stroke-width="1" stroke-linejoin="round"/><polygon points="271.4,1325.0 281.6,1325.0 276.5,1333.8" fill="#fff" />
<polygon points="272.4,1256.6 292.9,1256.6 282.7,1275.1" fill="#ff7f00" stroke="#ff7f00" stroke-width="1" stroke-linejoin="round"/><polygon points="277.6,1260.9 287.8,1260.9 282.7,1269.7" fill="#fff" />
<polygon points="279.2,1184.7 299.7,1184.7 289.5,1203.2" fill="#ff7f00" stroke="#ff7f00" stroke-width="1" stroke-linejoin="round"/><polygon points="284.4,1189.0 294.6,1189.0 289.5,1197.8" fill="#fff" />
<polygon points="285.7,1168.7 306.2,1168.7 295.9,1187.2" fill="#ff7f00" stroke="#ff7f00" stroke-width="1" stroke-linejoin="round"/><polygon points="290.8,1173.0 301.0,1173.0 295.9,1181.8" fill="#fff" />
<polygon points="292.1,1165.1 312.6,1165.1 302.4,1183.6" fill="#ff7f00" stroke="#ff7f00" stroke-width="1" stroke-linejoin="round"/><polygon points="297.3,1169.4 307.5,1169.4 302.4,1178.2" fill="#fff" />
<polygon points="298.2,1164.3 318.7,1164.3 308.4,1182.8" fill="#ff7f00" stroke="#ff7f00" stroke-width="1" stroke-linejoin="round"/><polygon points="303.3,1168.6 313.5,1168.6 308.4,1177.4" fill="#fff" />
<polygon points="304.0,1163.1 324.5,1163.1 314.3,1181.6" fill="#ff7f00" stroke="#ff7f00" stroke-width="1" stroke-linejoin="round"/><polygon points="309.2,1167.4 319.4,1167.4 314.3,1176.2" fill="#fff" />
<polygon points="310.1,1162.7 330.6,1162.7 320.3,1181.2" fill="#ff7f00" stroke="#ff7f00" stroke-width="1" stroke-linejoin="round"/><polygon points="315.2,1167.0 325.4,1167.0 320.3,1175.8" fill="#fff" />
<polygon points="317.5,1161.3 338.0,1161.3 327.7,1179.8" fill="#ff7f00" stroke="#ff7f00" stroke-width="1" stroke-linejoin="round"/><polygon points="322.6,1165.6 332.8,1165.6 327.7,1174.4" fill="#fff" />
<polygon points="323.6,1161.4 344.1,1161.4 333.9,1179.9" fill="#ff7f00" stroke="#ff7f00" stroke-width="1" stroke-linejoin="round"/><polygon points="328.8,1165.7 339.0,1165.7 333.9,1174.5" fill="#fff" />
<polygon points="329.7,1160.6 350.2,1160.6 339.9,1179.1" fill="#ff7f00" stroke="#ff7f00" stroke-width="1" stroke-linejoin="round"/><polygon points="334.8,1164.9 345.0,1164.9 339.9,1173.7" fill="#fff" />
<polygon points="336.3,1160.3 356.8,1160.3 346.6,1178.8" fill="#ff7f00" stroke="#ff7f00" stroke-width="1" stroke-linejoin="round"/><polygon points="341.5,1164.6 351.7,1164.6 346.6,1173.4" fill="#fff" />
<polygon points="342.8,1158.9 363.3,1158.9 353.0,1177.4" fill="#ff7f00" stroke="#ff7f00" stroke-width="1" stroke-linejoin="round"/><polygon points="347.9,1163.2 358.1,1163.2 353.0,1172.0" fill="#fff" />
<polygon points="348.4,1159.1 368.9,1159.1 358.6,1177.6" fill="#ff7f00" stroke="#ff7f00" stroke-width="1" stroke-linejoin="round"/><polygon points="353.5,1163.4 363.7,1163.4 358.6,1172.2" fill="#fff" />
<polygon points="355.7,1159.4 376.2,1159.4 365.9,1177.9" fill="#ff7f00" stroke="#ff7f00" stroke-width="1" stroke-linejoin="round"/><polygon points="360.8,1163.7 371.0,1163.7 365.9,1172.5" fill="#fff" />
<polygon points="361.6,1157.8 382.1,1157.8 371.8,1176.3" fill="#ff7f00" stroke="#ff7f00" stroke-width="1" stroke-linejoin="round"/><polygon points="366.7,1162.1 376.9,1162.1 371.8,1170.9" fill="#fff" />
<polygon points="367.2,1158.3 387.7,1158.3 377.5,1176.8" fill="#ff7f00" stroke="#ff7f00" stroke-width="1" stroke-linejoin="round"/><polygon points="372.4,1162.6 382.6,1162.6 377.5,1171.4" fill="#fff" />
<polygon points="373.8,1157.5 394.3,1157.5 384.0,1176.0" fill="#ff7f00" stroke="#ff7f00" stroke-width="1" stroke-linejoin="round"/><polygon points="378.9,1161.8 389.1,1161.8 384.0,1170.6" fill="#fff" />
<polygon points="381.3,1157.7 401.8,1157.7 391.6,1176.2" fill="#ff7f00" stroke="#ff7f00" stroke-width="1" stroke-linejoin="round"/><polygon points="386.5,1162.0 396.7,1162.0 391.6,1170.8" fill="#fff" />
<polygon points="386.4,1157.3 406.9,1157.3 396.7,1175.8" fill="#ff7f00" stroke="#ff7f00" stroke-width="1" stroke-linejoin="round"/><polygon points="391.6,1161.6 401.8,1161.6 396.7,1170.4" fill="#fff" />
<polygon points="393.5,1156.6 414.0,1156.6 403.7,1175.1" fill="#ff7f00" stroke="#ff7f00" stroke-width="1" stroke-linejoin="round"/><polygon points="398.6,1160.9 408.8,1160.9 403.7,1169.7" fill="#fff" />
<polygon points="399.8,1156.3 420.3,1156.3 410.0,1174.8" fill="#ff7f00" stroke="#ff7f00" stroke-width="1" stroke-linejoin="round"/><polygon points="404.9,1160.6 415.1,1160.6 410.0,1169.4" fill="#fff" />
<polygon points="406.6,1156.1 427.1,1156.1 416.9,1174.6" fill="#ff7f00" stroke="#ff7f00" stroke-width="1" stroke-linejoin="round"/><polygon points="411.8,1160.4 422.0,1160.4 416.9,1169.2" fill="#fff" />
<polygon points="412.3,1154.9 432.8,1154.9 422.6,1173.4" fill="#ff7f00" stroke="#ff7f00" stroke-width="1" stroke-linejoin="round"/><polygon points="417.5,1159.2 427.7,1159.2 422.6,1168.0" fill="#fff" />
<polygon points="418.4,1155.0 438.9,1155.0 428.7,1173.5" fill="#ff7f00" stroke="#ff7f00" stroke-width="1" stroke-linejoin="round"/><polygon points="423.6,1159.3 433.8,1159.3 428.7,1168.1" fill="#fff" />
<polygon points="425.0,1154.4 445.5,1154.4 435.3,1172.9" fill="#ff7f00" stroke="#ff7f00" stroke-width="1" stroke-linejoin="round"/><polygon points="430.2,1158.7 440.4,1158.7 435.3,1167.5" fill="#fff" />
<polygon points="431.0,1153.5 451.5,1153.5 441.2,1172.0" fill="#ff7f00" stroke="#ff7f00" stroke-width="1" stroke-linejoin="round"/><polygon points="436.1,1157.8 446.3,1157.8 441.2,1166.6" fill="#fff" />
<polygon points="437.7,1155.0 458.2,1155.0 448.0,1173.5" fill="#ff7f00" stroke="#ff7f00" stroke-width="1" stroke-linejoin="round"/><polygon points="442.9,1159.3 453.1,1159.3 448.0,1168.1" fill="#fff" />
<polygon points="444.0,1153.9 464.5,1153.9 454.2,1172.4" fill="#ff7f00" stroke="#ff7f00" stroke-width="1" stroke-linejoin="round"/><polygon points="449.1,1158.2 459.3,1158.2 454.2,1167.0" fill="#fff" />
<polygon points="449.9,1153.5 470.4,1153.5 460.2,1172.0" fill="#ff7f00" stroke="#ff7f00" stroke-width="1" stroke-linejoin="round"/><polygon points="455.1,1157.8 465.3,1157.8 460.2,1166.6" fill="#fff" />
<polygon points="456.9,1152.5 477.4,1152.5 467.1,1171.0" fill="#ff7f00" stroke="#ff7f00" stroke-width="1" stroke-linejoin="round"/><polygon points="462.0,1156.8 472.2,1156.8 467.1,1165.6" fill="#fff" />
<polygon points="463.2,1153.0 483.7,1153.0 473.4,1171.5" fill="#ff7f00" stroke="#ff7f00" stroke-width="1" stroke-linejoin="round"/><polygon points="468.3,1157.3 478.5,1157.3 473.4,1166.1" fill="#fff" />
<polygon points="469.3,1151.6 489.8,1151.6 479.6,1170.1" fill="#ff7f00" stroke="#ff7f00" stroke-width="1" stroke-linejoin="round"/><polygon points="474.5,1155.9 484.7,1155.9 479.6,1164.7" fill="#fff" />
<polygon points="476.8,1151.6 497.3,1151.6 487.0,1170.1" fill="#ff7f00" stroke="#ff7f00" stroke-width="1" stroke-linejoin="round"/><polygon points="481.9,1155.9 492.1,1155.9 487.0,1164.7" fill="#fff" />
<polygon points="482.0,1150.6 502.5,1150.6 492.3,1169.1" fill="#ff7f00" stroke="#ff7f00" stroke-width="1" stroke-linejoin="round"/><polygon points="487.2,1154.9 497.4,1154.9 492.3,1163.7" fill="#fff" />
<polygon points="488.7,1151.4 509.2,1151.4 498.9,1169.9" fill="#ff7f00" stroke="#ff7f00" stroke-width="1" stroke-linejoin="round"/><polygon points="493.8,1155.7 504.0,1155.7 498.9,1164.5" fill="#fff" />
<polygon points="494.6,1149.8 515.1,1149.8 504.9,1168.3" fill="#ff7f00" stroke="#ff7f00" stroke-width="1" stroke-linejoin="round"/><polygon points="499.8,1154.1 510.0,1154.1 504.9,1162.9" fill="#fff" />
<polygon points="502.0,1149.7 522.5,1149.7 512.3,1168.2" fill="#ff7f00" stroke="#ff7f00" stroke-width="1" stroke-linejoin="round"/><polygon points="507.2,1154.0 517.4,1154.0 512.3,1162.8" fill="#fff" />
<polygon points="507.9,1149.4 528.4,1149.4 518.1,1167.9" fill="#ff7f00" stroke="#ff7f00" stroke-width="1" stroke-linejoin="round"/><polygon points="513.0,1153.7 523.2,1153.7 518.1,1162.5" fill="#fff" />
<polygon points="513.9,1148.2 534.4,1148.2 524.1,1166.7" fill="#ff7f00" stroke="#ff7f00" stroke-width="1" stroke-linejoin="round"/><polygon points="519.0,1152.5 529.2,1152.5 524.1,1161.3" fill="#fff" />
<polygon points="519.1,1296.9 539.6,1296.9 529.4,1315.4" fill="#ff7f00" stroke="#ff7f00" stroke-width="1" stroke-linejoin="round"/><polygon points="524.3,1301.2 534.5,1301.2 529.4,1310.0" fill="#fff" />
<polygon points="524.9,1355.0 545.4,1355.0 535.2,1373.5" fill="#ff7f00" stroke="#ff7f00" stroke-width="1" stroke-linejoin="round"/><polygon points="530.1,1359.3 540.3,1359.3 535.2,1368.1" fill="#fff" />
<polygon points="530.1,1355.7 550.6,1355.7 540.4,1374.2" fill="#ff7f00" stroke="#ff7f00" stroke-width="1" stroke-linejoin="round"/><polygon points="535.3,1360.0 545.5,1360.0 540.4,1368.8" fill="#fff" />
<polygon points="536.6,1356.0 557.1,1356.0 546.9,1374.5" fill="#ff7f00" stroke="#ff7f00" stroke-width="1" stroke-linejoin="round"/><polygon points="541.8,1360.3 552.0,1360.3 546.9,1369.1" fill="#fff" />
<polygon points="543.4,1355.6 563.9,1355.6 553.7,1374.1" fill="#ff7f00" stroke="#ff7f00" stroke-width="1" stroke-linejoin="round"/><polygon points="548.6,1359.9 558.8,1359.9 553.7,1368.7" fill="#fff" />
<polygon points="549.8,1355.8 570.3,1355.8 560.1,1374.3" fill="#ff7f00" stroke="#ff7f00" stroke-width="1" stroke-linejoin="round"/><polygon points="555.0,1360.1 565.2,1360.1 560.1,1368.9" fill="#fff" />
<polygon points="555.4,1355.8 575.9,1355.8 565.7,1374.3" fill="#ff7f00" stroke="#ff7f00" stroke-width="1" stroke-linejoin="round"/><polygon points="560.6,1360.1 570.8,1360.1 565.7,1368.9" fill="#fff" />
<polygon points="561.9,1355.9 582.4,1355.9 572.1,1374.4" fill="#ff7f00" stroke="#ff7f00" stroke-width="1" stroke-linejoin="round"/><polygon points="567.0,1360.2 577.2,1360.2 572.1,1369.0" fill="#fff" />
<polygon points="567.6,1355.1 588.1,1355.1 577.8,1373.6" fill="#ff7f00" stroke="#ff7f00" stroke-width="1" stroke-linejoin="round"/><polygon points="572.7,1359.4 582.9,1359.4 577.8,1368.2" fill="#fff" />
<polygon points="574.4,1355.8 594.9,1355.8 584.6,1374.3" fill="#ff7f00" stroke="#ff7f00" stroke-width="1" stroke-linejoin="round"/><polygon points="579.5,1360.1 589.7,1360.1 584.6,1368.9" fill="#fff" />
<polygon points="582.7,1304.1 603.2,1304.1 592.9,1322.6" fill="#ff7f00" stroke="#ff7f00" stroke-width="1" stroke-linejoin="round"/><polygon points="587.8,1308.4 598.0,1308.4 592.9,1317.2" fill="#fff" />
<polygon points="589.2,1207.8 609.7,1207.8 599.5,1226.3" fill="#ff7f00" stroke="#ff7f00" stroke-width="1" stroke-linejoin="round"/><polygon points="594.4,1212.1 604.6,1212.1 599.5,1220.9" fill="#fff" />
<polygon points="596.0,1158.7 616.5,1158.7 606.2,1177.2" fill="#ff7f00" stroke="#ff7f00" stroke-width="1" stroke-linejoin="round"/><polygon points="601.1,1163.0 611.3,1163.0 606.2,1171.8" fill="#fff" />
<polygon points="602.7,1152.9 623.2,1152.9 613.0,1171.4" fill="#ff7f00" stroke="#ff7f00" stroke-width="1" stroke-linejoin="round"/><polygon points="607.9,1157.2 618.1,1157.2 613.0,1166.0" fill="#fff" />
<polygon points="607.8,1151.3 628.3,1151.3 618.0,1169.8" fill="#ff7f00" stroke="#ff7f00" stroke-width="1" stroke-linejoin="round"/><polygon points="612.9,1155.6 623.1,1155.6 618.0,1164.4" fill="#fff" />
<polygon points="615.4,1149.8 635.9,1149.8 625.7,1168.3" fill="#ff7f00" stroke="#ff7f00" stroke-width="1" stroke-linejoin="round"/><polygon points="620.6,1154.1 630.8,1154.1 625.7,1162.9" fill="#fff" />
<polygon points="620.6,1148.1 641.1,1148.1 630.9,1166.6" fill="#ff7f00" stroke="#ff7f00" stroke-width="1" stroke-linejoin="round"/><polygon points="625.8,1152.4 636.0,1152.4 630.9,1161.2" fill="#fff" />
<polygon points="627.7,1148.2 648.2,1148.2 638.0,1166.7" fill="#ff7f00" stroke="#ff7f00" stroke-width="1" stroke-linejoin="round"/><polygon points="632.9,1152.5 643.1,1152.5 638.0,1161.3" fill="#fff" />
<polygon points="633.1,1144.6 653.6,1144.6 643.4,1163.1" fill="#ff7f00" stroke="#ff7f00" stroke-width="1" stroke-linejoin="round"/><polygon points="638.3,1148.9 648.5,1148.9 643.4,1157.7" fill="#fff" />
<polygon points="640.5,1144.4 661.0,1144.4 650.7,1162.9" fill="#ff7f00" stroke="#ff7f00" stroke-width="1" stroke-linejoin="round"/><polygon points="645.6,1148.7 655.8,1148.7 650.7,1157.5" fill="#fff" />
<polygon points="646.0,1143.8 666.5,1143.8 656.2,1162.3" fill="#ff7f00" stroke="#ff7f00" stroke-width="1" stroke-linejoin="round"/><polygon points="651.1,1148.1 661.3,1148.1 656.2,1156.9" fill="#fff" />
<polygon points="652.6,1142.1 673.1,1142.1 662.8,1160.6" fill="#ff7f00" stroke="#ff7f00" stroke-width="1" stroke-linejoin="round"/><polygon points="657.7,1146.4 667.9,1146.4 662.8,1155.2" fill="#fff" />
<polygon points="659.1,1143.0 679.6,1143.0 669.3,1161.5" fill="#ff7f00" stroke="#ff7f00" stroke-width="1" stroke-linejoin="round"/><polygon points="664.2,1147.3 674.4,1147.3 669.3,1156.1" fill="#fff" />
<polygon points="666.3,1141.3 686.8,1141.3 676.6,1159.8" fill="#ff7f00" stroke="#ff7f00" stroke-width="1" stroke-linejoin="round"/><polygon points="671.5,1145.6 681.7,1145.6 676.6,1154.4" fill="#fff" />
<polygon points="671.5,1140.7 692.0,1140.7 681.8,1159.2" fill="#ff7f00" stroke="#ff7f00" stroke-width="1" stroke-linejoin="round"/><polygon points="676.7,1145.0 686.9,1145.0 681.8,1153.8" fill="#fff" />
<polygon points="678.6,1140.5 699.1,1140.5 688.8,1159.0" fill="#ff7f00" stroke="#ff7f00" stroke-width="1" stroke-linejoin="round"/><polygon points="683.7,1144.8 693.9,1144.8 688.8,1153.6" fill="#fff" />
<polygon points="685.0,1139.9 705.5,1139.9 695.3,1158.4" fill="#ff7f00" stroke="#ff7f00" stroke-width="1" stroke-linejoin="round"/><polygon points="690.2,1144.2 700.4,1144.2 695.3,1153.0" fill="#fff" />
<polygon points="691.6,1139.6 712.1,1139.6 701.8,1158.1" fill="#ff7f00" stroke="#ff7f00" stroke-width="1" stroke-linejoin="round"/><polygon points="696.7,1143.9 706.9,1143.9 701.8,1152.7" fill="#fff" />
<polygon points="697.0,1139.6 717.5,1139.6 707.3,1158.1" fill="#ff7f00" stroke="#ff7f00" stroke-width="1" stroke-linejoin="round"/><polygon points="702.2,1143.9 712.4,1143.9 707.3,1152.7" fill="#fff" />
<polygon points="703.9,1139.1 724.4,1139.1 714.2,1157.6" fill="#ff7f00" stroke="#ff7f00" stroke-width="1" stroke-linejoin="round"/><polygon points="709.1,1143.4 719.3,1143.4 714.2,1152.2" fill="#fff" />
<polygon points="710.1,1138.4 730.6,1138.4 720.4,1156.9" fill="#ff7f00" stroke="#ff7f00" stroke-width="1" stroke-linejoin="round"/><polygon points="715.3,1142.7 725.5,1142.7 720.4,1151.5" fill="#fff" />
<polygon points="716.7,1139.5 737.2,1139.5 726.9,1158.0" fill="#ff7f00" stroke="#ff7f00" stroke-width="1" stroke-linejoin="round"/><polygon points="721.8,1143.8 732.0,1143.8 726.9,1152.6" fill="#fff" />
<polygon points="722.5,1139.6 743.0,1139.6 732.8,1158.1" fill="#ff7f00" stroke="#ff7f00" stroke-width="1" stroke-linejoin="round"/><polygon points="727.7,1143.9 737.9,1143.9 732.8,1152.7" fill="#fff" />
<polygon points="729.3,1139.6 749.8,1139.6 739.6,1158.1" fill="#ff7f00" stroke="#ff7f00" stroke-width="1" stroke-linejoin="round"/><polygon points="734.5,1143.9 744.7,1143.9 739.6,1152.7" fill="#fff" />
<polygon points="735.6,1139.3 756.1,1139.3 745.9,1157.8" fill="#ff7f00" stroke="#ff7f00" stroke-width="1" stroke-linejoin="round"/><polygon points="740.8,1143.6 751.0,1143.6 745.9,1152.4" fill="#fff" />
<polygon points="742.0,1138.4 762.5,1138.4 752.3,1156.9" fill="#ff7f00" stroke="#ff7f00" stroke-width="1" stroke-linejoin="round"/><polygon points="747.2,1142.7 757.4,1142.7 752.3,1151.5" fill="#fff" />
<polygon points="748.5,1137.5 769.0,1137.5 758.7,1156.0" fill="#ff7f00" stroke="#ff7f00" stroke-width="1" stroke-linejoin="round"/><polygon points="753.6,1141.8 763.8,1141.8 758.7,1150.6" fill="#fff" />
<polygon points="754.0,1137.3 774.5,1137.3 764.3,1155.8" fill="#ff7f00" stroke="#ff7f00" stroke-width="1" stroke-linejoin="round"/><polygon points="759.2,1141.6 769.4,1141.6 764.3,1150.4" fill="#fff" />
<polygon points="761.1,1137.7 781.6,1137.7 771.3,1156.2" fill="#ff7f00" stroke="#ff7f00" stroke-width="1" stroke-linejoin="round"/><polygon points="766.2,1142.0 776.4,1142.0 771.3,1150.8" fill="#fff" />
<polygon points="767.7,1137.0 788.2,1137.0 778.0,1155.5" fill="#ff7f00" stroke="#ff7f00" stroke-width="1" stroke-linejoin="round"/><polygon points="772.9,1141.3 783.1,1141.3 778.0,1150.1" fill="#fff" />
<polygon points="773.7,1137.7 794.2,1137.7 783.9,1156.2" fill="#ff7f00" stroke="#ff7f00" stroke-width="1" stroke-linejoin="round"/><polygon points="778.8,1142.0 789.0,1142.0 783.9,1150.8" fill="#fff" />
<polygon points="780.9,1138.3 801.4,1138.3 791.2,1156.8" fill="#ff7f00" stroke="#ff7f00" stroke-width="1" stroke-linejoin="round"/><polygon points="786.1,1142.6 796.3,1142.6 791.2,1151.4" fill="#fff" />
<polygon points="786.8,1136.9 807.3,1136.9 797.0,1155.4" fill="#ff7f00" stroke="#ff7f00" stroke-width="1" stroke-linejoin="round"/><polygon points="791.9,1141.2 802.1,1141.2 797.0,1150.0" fill="#fff" />
<polygon points="792.2,1136.8 812.7,1136.8 802.5,1155.3" fill="#ff7f00" stroke="#ff7f00" stroke-width="1" stroke-linejoin="round"/><polygon points="797.4,1141.1 807.6,1141.1 802.5,1149.9" fill="#fff" />
<polygon points="799.6,1136.0 820.1,1136.0 809.8,1154.5" fill="#ff7f00" stroke="#ff7f00" stroke-width="1" stroke-linejoin="round"/><polygon points="804.7,1140.3 814.9,1140.3 809.8,1149.1" fill="#fff" />
<polygon points="805.4,1135.7 825.9,1135.7 815.6,1154.2" fill="#ff7f00" stroke="#ff7f00" stroke-width="1" stroke-linejoin="round"/><polygon points="810.5,1140.0 820.7,1140.0 815.6,1148.8" fill="#fff" />
<polygon points="812.0,1136.6 832.5,1136.6 822.3,1155.1" fill="#ff7f00" stroke="#ff7f00" stroke-width="1" stroke-linejoin="round"/><polygon points="817.2,1140.9 827.4,1140.9 822.3,1149.7" fill="#fff" />
<polygon points="819.0,1137.4 839.5,1137.4 829.2,1155.9" fill="#ff7f00" stroke="#ff7f00" stroke-width="1" stroke-linejoin="round"/><polygon points="824.1,1141.7 834.3,1141.7 829.2,1150.5" fill="#fff" />
<polygon points="825.1,1136.0 845.6,1136.0 835.3,1154.5" fill="#ff7f00" stroke="#ff7f00" stroke-width="1" stroke-linejoin="round"/><polygon points="830.2,1140.3 840.4,1140.3 835.3,1149.1" fill="#fff" />
<polygon points="830.9,1135.3 851.4,1135.3 841.1,1153.8" fill="#ff7f00" stroke="#ff7f00" stroke-width="1" stroke-linejoin="round"/><polygon points="836.0,1139.6 846.2,1139.6 841.1,1148.4" fill="#fff" />
<polygon points="835.4,1233.8 855.9,1233.8 845.6,1252.3" fill="#ff7f00" stroke="#ff7f00" stroke-width="1" stroke-linejoin="round"/><polygon points="840.5,1238.1 850.7,1238.1 845.6,1246.9" fill="#fff" />
<polygon points="841.3,1303.5 861.8,1303.5 851.6,1322.0" fill="#ff7f00" stroke="#ff7f00" stroke-width="1" stroke-linejoin="round"/><polygon points="846.5,1307.8 856.7,1307.8 851.6,1316.6" fill="#fff" />
<polygon points="846.6,1355.5 867.1,1355.5 856.8,1374.0" fill="#ff7f00" stroke="#ff7f00" stroke-width="1" stroke-linejoin="round"/><polygon points="851.7,1359.8 861.9,1359.8 856.8,1368.6" fill="#fff" />
<polygon points="852.6,1355.4 873.1,1355.4 862.9,1373.9" fill="#ff7f00" stroke="#ff7f00" stroke-width="1" stroke-linejoin="round"/><polygon points="857.8,1359.7 868.0,1359.7 862.9,1368.5" fill="#fff" />
<polygon points="859.6,1355.7 880.1,1355.7 869.8,1374.2" fill="#ff7f00" stroke="#ff7f00" stroke-width="1" stroke-linejoin="round"/><polygon points="864.7,1360.0 874.9,1360.0 869.8,1368.8" fill="#fff" />
<polygon points="866.0,1355.6 886.5,1355.6 876.2,1374.1" fill="#ff7f00" stroke="#ff7f00" stroke-width="1" stroke-linejoin="round"/><polygon points="871.1,1359.9 881.3,1359.9 876.2,1368.7" fill="#fff" />
<polygon points="871.8,1355.8 892.3,1355.8 882.1,1374.3" fill="#ff7f00" stroke="#ff7f00" stroke-width="1" stroke-linejoin="round"/><polygon points="877.0,1360.1 887.2,1360.1 882.1,1368.9" fill="#fff" />
<polygon points="878.2,1354.8 898.7,1354.8 888.4,1373.3" fill="#ff7f00" stroke="#ff7f00" stroke-width="1" stroke-linejoin="round"/><polygon points="883.3,1359.1 893.5,1359.1 888.4,1367.9" fill="#fff" />
<polygon points="884.8,1355.0 905.3,1355.0 895.0,1373.5" fill="#ff7f00" stroke="#ff7f00" stroke-width="1" stroke-linejoin="round"/><polygon points="889.9,1359.3 900.1,1359.3 895.0,1368.1" fill="#fff" />
<polygon points="890.6,1355.7 911.1,1355.7 900.9,1374.2" fill="#ff7f00" stroke="#ff7f00" stroke-width="1" stroke-linejoin="round"/><polygon points="895.8,1360.0 906.0,1360.0 900.9,1368.8" fill="#fff" />
<polygon points="897.0,1355.3 917.5,1355.3 907.2,1373.8" fill="#ff7f00" stroke="#ff7f00" stroke-width="1" stroke-linejoin="round"/><polygon points="902.1,1359.6 912.3,1359.6 907.2,1368.4" fill="#fff" />
<polyline points="218.7,1364.3 224.2,1364.4 231.8,1364.6 236.9,1365.0 243.2,1365.1 251.0,1364.6 256.9,1364.3 263.7,1364.5 269.6,1364.5 276.7,1306.2 283.0,1135.6 289.4,1078.9 295.9,1062.8 301.4,1060.3 308.6,1057.0 314.8,1057.5 321.4,1056.1 327.4,1056.7 333.4,1055.9 339.8,1055.5 346.6,1054.0 352.1,1054.3 358.4,1054.8 366.0,1053.4 372.5,1053.3 377.5,1053.1 384.7,1051.6 391.7,1052.2 397.2,1052.7 403.9,1052.1 409.5,1052.1 415.6,1050.4 422.2,1049.6 428.5,1049.5 434.9,1051.0 442.2,1050.3 448.5,1050.2 453.9,1048.8 461.2,1048.3 467.6,1049.8 473.8,1048.3 479.9,1047.7 486.0,1047.5 493.0,1049.4 498.3,1047.9 505.9,1048.9 511.5,1047.5 517.7,1047.1 524.5,1048.6 529.4,1287.1 534.6,1364.5 539.9,1364.3 546.6,1364.5 553.4,1364.8 559.3,1364.3 566.6,1364.3 572.3,1365.0 577.9,1364.1 585.3,1364.3 593.0,1303.5 600.3,1059.7 606.1,1055.6 612.2,1050.5 618.5,1049.8 625.2,1048.3 631.9,1048.4 637.0,1047.3 644.0,1045.6 651.0,1043.8 656.2,1042.8 663.7,1041.7 669.7,1042.5 676.5,1041.0 682.6,1040.4 688.4,1041.7 695.1,1039.9 700.9,1039.6 708.4,1040.2 714.3,1038.9 720.4,1039.5 726.5,1038.0 733.6,1038.2 738.9,1037.1 746.3,1037.8 752.4,1036.1 759.2,1036.5 765.0,1035.9 770.9,1036.3 777.2,1034.9 783.9,1034.8 790.3,1034.5 796.3,1035.0 803.9,1033.9 808.9,1032.8 816.3,1033.3 822.4,1032.4 828.7,1032.5 834.3,1030.0 841.9,1030.5 845.9,1200.7 852.0,1307.3 857.9,1354.1 863.5,1364.1 869.0,1365.3 875.3,1365.1 881.4,1365.3 888.5,1364.2 894.7,1364.1 901.8,1365.3 907.7,1364.8" fill="none" stroke="#0000ff" stroke-width="3.6" stroke-linejoin="round"/>
<rect x="210.5" y="1356.6" width="16.4" height="15.4" rx="1.3" fill="#0000ff"/><rect x="215.0" y="1361.1" width="7.4" height="6.4" fill="#fff"/>
<rect x="216.0" y="1356.7" width="16.4" height="15.4" rx="1.3" fill="#0000ff"/><rect x="220.5" y="1361.2" width="7.4" height="6.4" fill="#fff"/>
<rect x="223.6" y="1356.9" width="16.4" height="15.4" rx="1.3" fill="#0000ff"/><rect x="228.1" y="1361.4" width="7.4" height="6.4" fill="#fff"/>
<rect x="228.7" y="1357.3" width="16.4" height="15.4" rx="1.3" fill="#0000ff"/><rect x="233.2" y="1361.8" width="7.4" height="6.4" fill="#fff"/>
<rect x="235.0" y="1357.4" width="16.4" height="15.4" rx="1.3" fill="#0000ff"/><rect x="239.5" y="1361.9" width="7.4" height="6.4" fill="#fff"/>
<rect x="242.8" y="1356.9" width="16.4" height="15.4" rx="1.3" fill="#0000ff"/><rect x="247.3" y="1361.4" width="7.4" height="6.4" fill="#fff"/>
<rect x="248.7" y="1356.6" width="16.4" height="15.4" rx="1.3" fill="#0000ff"/><rect x="253.2" y="1361.1" width="7.4" height="6.4" fill="#fff"/>
<rect x="255.5" y="1356.8" width="16.4" height="15.4" rx="1.3" fill="#0000ff"/><rect x="260.0" y="1361.3" width="7.4" height="6.4" fill="#fff"/>
<rect x="261.4" y="1356.8" width="16.4" height="15.4" rx="1.3" fill="#0000ff"/><rect x="265.9" y="1361.3" width="7.4" height="6.4" fill="#fff"/>
<rect x="268.5" y="1298.5" width="16.4" height="15.4" rx="1.3" fill="#0000ff"/><rect x="273.0" y="1303.0" width="7.4" height="6.4" fill="#fff"/>
<rect x="274.8" y="1127.9" width="16.4" height="15.4" rx="1.3" fill="#0000ff"/><rect x="279.3" y="1132.4" width="7.4" height="6.4" fill="#fff"/>
<rect x="281.2" y="1071.2" width="16.4" height="15.4" rx="1.3" fill="#0000ff"/><rect x="285.7" y="1075.7" width="7.4" height="6.4" fill="#fff"/>
<rect x="287.7" y="1055.1" width="16.4" height="15.4" rx="1.3" fill="#0000ff"/><rect x="292.2" y="1059.6" width="7.4" height="6.4" fill="#fff"/>
<rect x="293.2" y="1052.6" width="16.4" height="15.4" rx="1.3" fill="#0000ff"/><rect x="297.7" y="1057.1" width="7.4" height="6.4" fill="#fff"/>
<rect x="300.4" y="1049.3" width="16.4" height="15.4" rx="1.3" fill="#0000ff"/><rect x="304.9" y="1053.8" width="7.4" height="6.4" fill="#fff"/>
<rect x="306.6" y="1049.8" width="16.4" height="15.4" rx="1.3" fill="#0000ff"/><rect x="311.1" y="1054.3" width="7.4" height="6.4" fill="#fff"/>
<rect x="313.2" y="1048.4" width="16.4" height="15.4" rx="1.3" fill="#0000ff"/><rect x="317.7" y="1052.9" width="7.4" height="6.4" fill="#fff"/>
<rect x="319.2" y="1049.0" width="16.4" height="15.4" rx="1.3" fill="#0000ff"/><rect x="323.7" y="1053.5" width="7.4" height="6.4" fill="#fff"/>
<rect x="325.2" y="1048.2" width="16.4" height="15.4" rx="1.3" fill="#0000ff"/><rect x="329.7" y="1052.7" width="7.4" height="6.4" fill="#fff"/>
<rect x="331.6" y="1047.8" width="16.4" height="15.4" rx="1.3" fill="#0000ff"/><rect x="336.1" y="1052.3" width="7.4" height="6.4" fill="#fff"/>
<rect x="338.4" y="1046.3" width="16.4" height="15.4" rx="1.3" fill="#0000ff"/><rect x="342.9" y="1050.8" width="7.4" height="6.4" fill="#fff"/>
<rect x="343.9" y="1046.6" width="16.4" height="15.4" rx="1.3" fill="#0000ff"/><rect x="348.4" y="1051.1" width="7.4" height="6.4" fill="#fff"/>
<rect x="350.2" y="1047.1" width="16.4" height="15.4" rx="1.3" fill="#0000ff"/><rect x="354.7" y="1051.6" width="7.4" height="6.4" fill="#fff"/>
<rect x="357.8" y="1045.7" width="16.4" height="15.4" rx="1.3" fill="#0000ff"/><rect x="362.3" y="1050.2" width="7.4" height="6.4" fill="#fff"/>
<rect x="364.3" y="1045.6" width="16.4" height="15.4" rx="1.3" fill="#0000ff"/><rect x="368.8" y="1050.1" width="7.4" height="6.4" fill="#fff"/>
<rect x="369.3" y="1045.4" width="16.4" height="15.4" rx="1.3" fill="#0000ff"/><rect x="373.8" y="1049.9" width="7.4" height="6.4" fill="#fff"/>
<rect x="376.5" y="1043.9" width="16.4" height="15.4" rx="1.3" fill="#0000ff"/><rect x="381.0" y="1048.4" width="7.4" height="6.4" fill="#fff"/>
<rect x="383.5" y="1044.5" width="16.4" height="15.4" rx="1.3" fill="#0000ff"/><rect x="388.0" y="1049.0" width="7.4" height="6.4" fill="#fff"/>
<rect x="389.0" y="1045.0" width="16.4" height="15.4" rx="1.3" fill="#0000ff"/><rect x="393.5" y="1049.5" width="7.4" height="6.4" fill="#fff"/>
<rect x="395.7" y="1044.4" width="16.4" height="15.4" rx="1.3" fill="#0000ff"/><rect x="400.2" y="1048.9" width="7.4" height="6.4" fill="#fff"/>
<rect x="401.3" y="1044.4" width="16.4" height="15.4" rx="1.3" fill="#0000ff"/><rect x="405.8" y="1048.9" width="7.4" height="6.4" fill="#fff"/>
<rect x="407.4" y="1042.7" width="16.4" height="15.4" rx="1.3" fill="#0000ff"/><rect x="411.9" y="1047.2" width="7.4" height="6.4" fill="#fff"/>
<rect x="414.0" y="1041.9" width="16.4" height="15.4" rx="1.3" fill="#0000ff"/><rect x="418.5" y="1046.4" width="7.4" height="6.4" fill="#fff"/>
<rect x="420.3" y="1041.8" width="16.4" height="15.4" rx="1.3" fill="#0000ff"/><rect x="424.8" y="1046.3" width="7.4" height="6.4" fill="#fff"/>
<rect x="426.7" y="1043.3" width="16.4" height="15.4" rx="1.3" fill="#0000ff"/><rect x="431.2" y="1047.8" width="7.4" height="6.4" fill="#fff"/>
<rect x="434.0" y="1042.6" width="16.4" height="15.4" rx="1.3" fill="#0000ff"/><rect x="438.5" y="1047.1" width="7.4" height="6.4" fill="#fff"/>
<rect x="440.3" y="1042.5" width="16.4" height="15.4" rx="1.3" fill="#0000ff"/><rect x="444.8" y="1047.0" width="7.4" height="6.4" fill="#fff"/>
<rect x="445.7" y="1041.1" width="16.4" height="15.4" rx="1.3" fill="#0000ff"/><rect x="450.2" y="1045.6" width="7.4" height="6.4" fill="#fff"/>
<rect x="453.0" y="1040.6" width="16.4" height="15.4" rx="1.3" fill="#0000ff"/><rect x="457.5" y="1045.1" width="7.4" height="6.4" fill="#fff"/>
<rect x="459.4" y="1042.1" width="16.4" height="15.4" rx="1.3" fill="#0000ff"/><rect x="463.9" y="1046.6" width="7.4" height="6.4" fill="#fff"/>
<rect x="465.6" y="1040.6" width="16.4" height="15.4" rx="1.3" fill="#0000ff"/><rect x="470.1" y="1045.1" width="7.4" height="6.4" fill="#fff"/>
<rect x="471.7" y="1040.0" width="16.4" height="15.4" rx="1.3" fill="#0000ff"/><rect x="476.2" y="1044.5" width="7.4" height="6.4" fill="#fff"/>
<rect x="477.8" y="1039.8" width="16.4" height="15.4" rx="1.3" fill="#0000ff"/><rect x="482.3" y="1044.3" width="7.4" height="6.4" fill="#fff"/>
<rect x="484.8" y="1041.7" width="16.4" height="15.4" rx="1.3" fill="#0000ff"/><rect x="489.3" y="1046.2" width="7.4" height="6.4" fill="#fff"/>
<rect x="490.1" y="1040.2" width="16.4" height="15.4" rx="1.3" fill="#0000ff"/><rect x="494.6" y="1044.7" width="7.4" height="6.4" fill="#fff"/>
<rect x="497.7" y="1041.2" width="16.4" height="15.4" rx="1.3" fill="#0000ff"/><rect x="502.2" y="1045.7" width="7.4" height="6.4" fill="#fff"/>
<rect x="503.3" y="1039.8" width="16.4" height="15.4" rx="1.3" fill="#0000ff"/><rect x="507.8" y="1044.3" width="7.4" height="6.4" fill="#fff"/>
<rect x="509.5" y="1039.4" width="16.4" height="15.4" rx="1.3" fill="#0000ff"/><rect x="514.0" y="1043.9" width="7.4" height="6.4" fill="#fff"/>
<rect x="516.3" y="1040.9" width="16.4" height="15.4" rx="1.3" fill="#0000ff"/><rect x="520.8" y="1045.4" width="7.4" height="6.4" fill="#fff"/>
<rect x="521.2" y="1279.4" width="16.4" height="15.4" rx="1.3" fill="#0000ff"/><rect x="525.7" y="1283.9" width="7.4" height="6.4" fill="#fff"/>
<rect x="526.4" y="1356.8" width="16.4" height="15.4" rx="1.3" fill="#0000ff"/><rect x="530.9" y="1361.3" width="7.4" height="6.4" fill="#fff"/>
<rect x="531.7" y="1356.6" width="16.4" height="15.4" rx="1.3" fill="#0000ff"/><rect x="536.2" y="1361.1" width="7.4" height="6.4" fill="#fff"/>
<rect x="538.4" y="1356.8" width="16.4" height="15.4" rx="1.3" fill="#0000ff"/><rect x="542.9" y="1361.3" width="7.4" height="6.4" fill="#fff"/>
<rect x="545.2" y="1357.1" width="16.4" height="15.4" rx="1.3" fill="#0000ff"/><rect x="549.7" y="1361.6" width="7.4" height="6.4" fill="#fff"/>
<rect x="551.1" y="1356.6" width="16.4" height="15.4" rx="1.3" fill="#0000ff"/><rect x="555.6" y="1361.1" width="7.4" height="6.4" fill="#fff"/>
<rect x="558.4" y="1356.6" width="16.4" height="15.4" rx="1.3" fill="#0000ff"/><rect x="562.9" y="1361.1" width="7.4" height="6.4" fill="#fff"/>
<rect x="564.1" y="1357.3" width="16.4" height="15.4" rx="1.3" fill="#0000ff"/><rect x="568.6" y="1361.8" width="7.4" height="6.4" fill="#fff"/>
<rect x="569.7" y="1356.4" width="16.4" height="15.4" rx="1.3" fill="#0000ff"/><rect x="574.2" y="1360.9" width="7.4" height="6.4" fill="#fff"/>
<rect x="577.1" y="1356.6" width="16.4" height="15.4" rx="1.3" fill="#0000ff"/><rect x="581.6" y="1361.1" width="7.4" height="6.4" fill="#fff"/>
<rect x="584.8" y="1295.8" width="16.4" height="15.4" rx="1.3" fill="#0000ff"/><rect x="589.3" y="1300.3" width="7.4" height="6.4" fill="#fff"/>
<rect x="592.1" y="1052.0" width="16.4" height="15.4" rx="1.3" fill="#0000ff"/><rect x="596.6" y="1056.5" width="7.4" height="6.4" fill="#fff"/>
<rect x="597.9" y="1047.9" width="16.4" height="15.4" rx="1.3" fill="#0000ff"/><rect x="602.4" y="1052.4" width="7.4" height="6.4" fill="#fff"/>
<rect x="604.0" y="1042.8" width="16.4" height="15.4" rx="1.3" fill="#0000ff"/><rect x="608.5" y="1047.3" width="7.4" height="6.4" fill="#fff"/>
<rect x="610.3" y="1042.1" width="16.4" height="15.4" rx="1.3" fill="#0000ff"/><rect x="614.8" y="1046.6" width="7.4" height="6.4" fill="#fff"/>
<rect x="617.0" y="1040.6" width="16.4" height="15.4" rx="1.3" fill="#0000ff"/><rect x="621.5" y="1045.1" width="7.4" height="6.4" fill="#fff"/>
<rect x="623.7" y="1040.7" width="16.4" height="15.4" rx="1.3" fill="#0000ff"/><rect x="628.2" y="1045.2" width="7.4" height="6.4" fill="#fff"/>
<rect x="628.8" y="1039.6" width="16.4" height="15.4" rx="1.3" fill="#0000ff"/><rect x="633.3" y="1044.1" width="7.4" height="6.4" fill="#fff"/>
<rect x="635.8" y="1037.9" width="16.4" height="15.4" rx="1.3" fill="#0000ff"/><rect x="640.3" y="1042.4" width="7.4" height="6.4" fill="#fff"/>
<rect x="642.8" y="1036.1" width="16.4" height="15.4" rx="1.3" fill="#0000ff"/><rect x="647.3" y="1040.6" width="7.4" height="6.4" fill="#fff"/>
<rect x="648.0" y="1035.1" width="16.4" height="15.4" rx="1.3" fill="#0000ff"/><rect x="652.5" y="1039.6" width="7.4" height="6.4" fill="#fff"/>
<rect x="655.5" y="1034.0" width="16.4" height="15.4" rx="1.3" fill="#0000ff"/><rect x="660.0" y="1038.5" width="7.4" height="6.4" fill="#fff"/>
<rect x="661.5" y="1034.8" width="16.4" height="15.4" rx="1.3" fill="#0000ff"/><rect x="666.0" y="1039.3" width="7.4" height="6.4" fill="#fff"/>
<rect x="668.3" y="1033.3" width="16.4" height="15.4" rx="1.3" fill="#0000ff"/><rect x="672.8" y="1037.8" width="7.4" height="6.4" fill="#fff"/>
<rect x="674.4" y="1032.7" width="16.4" height="15.4" rx="1.3" fill="#0000ff"/><rect x="678.9" y="1037.2" width="7.4" height="6.4" fill="#fff"/>
<rect x="680.2" y="1034.0" width="16.4" height="15.4" rx="1.3" fill="#0000ff"/><rect x="684.7" y="1038.5" width="7.4" height="6.4" fill="#fff"/>
<rect x="686.9" y="1032.2" width="16.4" height="15.4" rx="1.3" fill="#0000ff"/><rect x="691.4" y="1036.7" width="7.4" height="6.4" fill="#fff"/>
<rect x="692.7" y="1031.9" width="16.4" height="15.4" rx="1.3" fill="#0000ff"/><rect x="697.2" y="1036.4" width="7.4" height="6.4" fill="#fff"/>
<rect x="700.2" y="1032.5" width="16.4" height="15.4" rx="1.3" fill="#0000ff"/><rect x="704.7" y="1037.0" width="7.4" height="6.4" fill="#fff"/>
<rect x="706.1" y="1031.2" width="16.4" height="15.4" rx="1.3" fill="#0000ff"/><rect x="710.6" y="1035.7" width="7.4" height="6.4" fill="#fff"/>
<rect x="712.2" y="1031.8" width="16.4" height="15.4" rx="1.3" fill="#0000ff"/><rect x="716.7" y="1036.3" width="7.4" height="6.4" fill="#fff"/>
<rect x="718.3" y="1030.3" width="16.4" height="15.4" rx="1.3" fill="#0000ff"/><rect x="722.8" y="1034.8" width="7.4" height="6.4" fill="#fff"/>
<rect x="725.4" y="1030.5" width="16.4" height="15.4" rx="1.3" fill="#0000ff"/><rect x="729.9" y="1035.0" width="7.4" height="6.4" fill="#fff"/>
<rect x="730.7" y="1029.4" width="16.4" height="15.4" rx="1.3" fill="#0000ff"/><rect x="735.2" y="1033.9" width="7.4" height="6.4" fill="#fff"/>
<rect x="738.1" y="1030.1" width="16.4" height="15.4" rx="1.3" fill="#0000ff"/><rect x="742.6" y="1034.6" width="7.4" height="6.4" fill="#fff"/>
<rect x="744.2" y="1028.4" width="16.4" height="15.4" rx="1.3" fill="#0000ff"/><rect x="748.7" y="1032.9" width="7.4" height="6.4" fill="#fff"/>
<rect x="751.0" y="1028.8" width="16.4" height="15.4" rx="1.3" fill="#0000ff"/><rect x="755.5" y="1033.3" width="7.4" height="6.4" fill="#fff"/>
<rect x="756.8" y="1028.2" width="16.4" height="15.4" rx="1.3" fill="#0000ff"/><rect x="761.3" y="1032.7" width="7.4" height="6.4" fill="#fff"/>
<rect x="762.7" y="1028.6" width="16.4" height="15.4" rx="1.3" fill="#0000ff"/><rect x="767.2" y="1033.1" width="7.4" height="6.4" fill="#fff"/>
<rect x="769.0" y="1027.2" width="16.4" height="15.4" rx="1.3" fill="#0000ff"/><rect x="773.5" y="1031.7" width="7.4" height="6.4" fill="#fff"/>
<rect x="775.7" y="1027.1" width="16.4" height="15.4" rx="1.3" fill="#0000ff"/><rect x="780.2" y="1031.6" width="7.4" height="6.4" fill="#fff"/>
<rect x="782.1" y="1026.8" width="16.4" height="15.4" rx="1.3" fill="#0000ff"/><rect x="786.6" y="1031.3" width="7.4" height="6.4" fill="#fff"/>
<rect x="788.1" y="1027.3" width="16.4" height="15.4" rx="1.3" fill="#0000ff"/><rect x="792.6" y="1031.8" width="7.4" height="6.4" fill="#fff"/>
<rect x="795.7" y="1026.2" width="16.4" height="15.4" rx="1.3" fill="#0000ff"/><rect x="800.2" y="1030.7" width="7.4" height="6.4" fill="#fff"/>
<rect x="800.7" y="1025.1" width="16.4" height="15.4" rx="1.3" fill="#0000ff"/><rect x="805.2" y="1029.6" width="7.4" height="6.4" fill="#fff"/>
<rect x="808.1" y="1025.6" width="16.4" height="15.4" rx="1.3" fill="#0000ff"/><rect x="812.6" y="1030.1" width="7.4" height="6.4" fill="#fff"/>
<rect x="814.2" y="1024.7" width="16.4" height="15.4" rx="1.3" fill="#0000ff"/><rect x="818.7" y="1029.2" width="7.4" height="6.4" fill="#fff"/>
<rect x="820.5" y="1024.8" width="16.4" height="15.4" rx="1.3" fill="#0000ff"/><rect x="825.0" y="1029.3" width="7.4" height="6.4" fill="#fff"/>
<rect x="826.1" y="1022.3" width="16.4" height="15.4" rx="1.3" fill="#0000ff"/><rect x="830.6" y="1026.8" width="7.4" height="6.4" fill="#fff"/>
<rect x="833.7" y="1022.8" width="16.4" height="15.4" rx="1.3" fill="#0000ff"/><rect x="838.2" y="1027.3" width="7.4" height="6.4" fill="#fff"/>
<rect x="837.7" y="1193.0" width="16.4" height="15.4" rx="1.3" fill="#0000ff"/><rect x="842.2" y="1197.5" width="7.4" height="6.4" fill="#fff"/>
<rect x="843.8" y="1299.6" width="16.4" height="15.4" rx="1.3" fill="#0000ff"/><rect x="848.3" y="1304.1" width="7.4" height="6.4" fill="#fff"/>
<rect x="849.7" y="1346.4" width="16.4" height="15.4" rx="1.3" fill="#0000ff"/><rect x="854.2" y="1350.9" width="7.4" height="6.4" fill="#fff"/>
<rect x="855.3" y="1356.4" width="16.4" height="15.4" rx="1.3" fill="#0000ff"/><rect x="859.8" y="1360.9" width="7.4" height="6.4" fill="#fff"/>
<rect x="860.8" y="1357.6" width="16.4" height="15.4" rx="1.3" fill="#0000ff"/><rect x="865.3" y="1362.1" width="7.4" height="6.4" fill="#fff"/>
<rect x="867.1" y="1357.4" width="16.4" height="15.4" rx="1.3" fill="#0000ff"/><rect x="871.6" y="1361.9" width="7.4" height="6.4" fill="#fff"/>
<rect x="873.2" y="1357.6" width="16.4" height="15.4" rx="1.3" fill="#0000ff"/><rect x="877.7" y="1362.1" width="7.4" height="6.4" fill="#fff"/>
<rect x="880.3" y="1356.5" width="16.4" height="15.4" rx="1.3" fill="#0000ff"/><rect x="884.8" y="1361.0" width="7.4" height="6.4" fill="#fff"/>
<rect x="886.5" y="1356.4" width="16.4" height="15.4" rx="1.3" fill="#0000ff"/><rect x="891.0" y="1360.9" width="7.4" height="6.4" fill="#fff"/>
<rect x="893.6" y="1357.6" width="16.4" height="15.4" rx="1.3" fill="#0000ff"/><rect x="898.1" y="1362.1" width="7.4" height="6.4" fill="#fff"/>
<rect x="899.5" y="1357.1" width="16.4" height="15.4" rx="1.3" fill="#0000ff"/><rect x="904.0" y="1361.6" width="7.4" height="6.4" fill="#fff"/>
</g>
<text x="205.5" y="1409" font-family="Liberation Sans" font-size="30.5" font-weight="bold" font-style="normal" text-anchor="start" fill="#000" >OFF</text>
<text x="367" y="1409" font-family="Liberation Sans" font-size="30" font-weight="bold" font-style="normal" text-anchor="start" fill="#ff0000" >ON</text>
<text x="529" y="1409" font-family="Liberation Sans" font-size="30.5" font-weight="bold" font-style="normal" text-anchor="start" fill="#000" >OFF</text>
<text x="685" y="1409" font-family="Liberation Sans" font-size="30" font-weight="bold" font-style="normal" text-anchor="start" fill="#ff0000" >ON</text>
<text x="849.5" y="1409" font-family="Liberation Sans" font-size="30.5" font-weight="bold" font-style="normal" text-anchor="start" fill="#000" >OFF</text>
<line x1="212.6" y1="910.7" x2="276.8" y2="910.7" stroke="#000000" stroke-width="3.8"/>
<ellipse cx="245.5" cy="910.7" rx="8.0" ry="8.2" fill="#000000"/>
<text x="284.5" y="919.4000000000001" font-family="Liberation Sans" font-size="22" font-weight="bold" font-style="normal" text-anchor="start" fill="#000" letter-spacing="1">CSNP</text>
<line x1="212.6" y1="946.8" x2="276.8" y2="946.8" stroke="#0000ff" stroke-width="3.8"/>
<rect x="237.0" y="938.8" width="17.0" height="16.0" rx="1.3" fill="#0000ff"/>
<text x="284.5" y="955.5" font-family="Liberation Sans" font-size="22" font-weight="bold" font-style="normal" text-anchor="start" fill="#000" letter-spacing="1">PT-CSNP</text>
<line x1="212.6" y1="981" x2="276.8" y2="981" stroke="#ff7f00" stroke-width="3.8"/>
<polygon points="234.5,971.5 256.5,971.5 245.5,990.5" fill="#ff7f00" stroke="#ff7f00" stroke-width="1" stroke-linejoin="round"/>
<text x="284.5" y="989.7" font-family="Liberation Sans" font-size="22" font-weight="bold" font-style="normal" text-anchor="start" fill="#000" letter-spacing="1">PPy-CSNP</text>
<line x1="212.6" y1="1015.8" x2="276.8" y2="1015.8" stroke="#008000" stroke-width="3.8"/>
<polygon points="235.0,1025.3 256.0,1025.3 245.5,1006.3" fill="#008000" stroke="#008000" stroke-width="1" stroke-linejoin="round"/>
<text x="284.5" y="1024.5" font-family="Liberation Sans" font-size="22" font-weight="bold" font-style="normal" text-anchor="start" fill="#000" letter-spacing="1">PANI-CSNP</text>
<line x1="436" y1="910.7" x2="500.2" y2="910.7" stroke="#000000" stroke-width="3.8"/>
<ellipse cx="467.0" cy="910.7" rx="5.8" ry="6.0" fill="#fff" stroke="#000000" stroke-width="4.3"/>
<text x="505.5" y="919.4000000000001" font-family="Liberation Sans" font-size="22" font-weight="bold" font-style="normal" text-anchor="start" fill="#000" letter-spacing="1">HNP</text>
<line x1="436" y1="946.8" x2="500.2" y2="946.8" stroke="#0000ff" stroke-width="3.8"/>
<rect x="458.8" y="939.1" width="16.4" height="15.4" rx="1.3" fill="#0000ff"/><rect x="463.3" y="943.6" width="7.4" height="6.4" fill="#fff"/>
<text x="505.5" y="955.5" font-family="Liberation Sans" font-size="22" font-weight="bold" font-style="normal" text-anchor="start" fill="#000" letter-spacing="1">PT-HNP</text>
<line x1="436" y1="981" x2="500.2" y2="981" stroke="#ff7f00" stroke-width="3.8"/>
<polygon points="456.8,971.8 477.2,971.8 467.0,990.2" fill="#ff7f00" stroke="#ff7f00" stroke-width="1" stroke-linejoin="round"/><polygon points="461.9,976.0 472.1,976.0 467.0,984.8" fill="#fff" />
<text x="505.5" y="989.7" font-family="Liberation Sans" font-size="22" font-weight="bold" font-style="normal" text-anchor="start" fill="#000" letter-spacing="1">PPy-HNP</text>
<line x1="436" y1="1015.8" x2="500.2" y2="1015.8" stroke="#008000" stroke-width="3.8"/>
<polygon points="456.8,1025.0 477.2,1025.0 467.0,1006.5" fill="#008000" stroke="#008000" stroke-width="1" stroke-linejoin="round"/><polygon points="462.4,1020.8 471.6,1020.8 467.0,1012.1" fill="#fff" />
<text x="505.5" y="1024.5" font-family="Liberation Sans" font-size="22" font-weight="bold" font-style="normal" text-anchor="start" fill="#000" letter-spacing="1">PANI-HNP</text>
<rect x="195.8" y="884.7" width="724.7" height="531.8" fill="none" stroke="#000" stroke-width="4.5"/>
<line x1="183" y1="1364.7" x2="196" y2="1364.7" stroke="#000" stroke-width="4"/>
<line x1="183" y1="1227.6" x2="196" y2="1227.6" stroke="#000" stroke-width="4"/>
<line x1="183" y1="1090.5" x2="196" y2="1090.5" stroke="#000" stroke-width="4"/>
<line x1="183" y1="953.4" x2="196" y2="953.4" stroke="#000" stroke-width="4"/>
<line x1="188.5" y1="1296.2" x2="196" y2="1296.2" stroke="#000" stroke-width="3.6"/>
<line x1="188.5" y1="1159.0" x2="196" y2="1159.0" stroke="#000" stroke-width="3.6"/>
<line x1="188.5" y1="1022.0" x2="196" y2="1022.0" stroke="#000" stroke-width="3.6"/>
<line x1="188.5" y1="884.9" x2="196" y2="884.9" stroke="#000" stroke-width="3.6"/>
<line x1="207.7" y1="1416" x2="207.7" y2="1428.7" stroke="#000" stroke-width="4.2"/>
<line x1="525.8" y1="1416" x2="525.8" y2="1428.7" stroke="#000" stroke-width="4.2"/>
<line x1="843.9" y1="1416" x2="843.9" y2="1428.7" stroke="#000" stroke-width="4.2"/>
<line x1="271.3" y1="1416" x2="271.3" y2="1423" stroke="#000" stroke-width="3.6"/>
<line x1="334.9" y1="1416" x2="334.9" y2="1423" stroke="#000" stroke-width="3.6"/>
<line x1="398.6" y1="1416" x2="398.6" y2="1423" stroke="#000" stroke-width="3.6"/>
<line x1="462.2" y1="1416" x2="462.2" y2="1423" stroke="#000" stroke-width="3.6"/>
<line x1="589.4" y1="1416" x2="589.4" y2="1423" stroke="#000" stroke-width="3.6"/>
<line x1="653.0" y1="1416" x2="653.0" y2="1423" stroke="#000" stroke-width="3.6"/>
<line x1="716.7" y1="1416" x2="716.7" y2="1423" stroke="#000" stroke-width="3.6"/>
<line x1="780.3" y1="1416" x2="780.3" y2="1423" stroke="#000" stroke-width="3.6"/>
<line x1="907.5" y1="1416" x2="907.5" y2="1423" stroke="#000" stroke-width="3.6"/>
<text x="152.73" y="1374.9" font-family="Liberation Sans" font-size="41.5" font-weight="bold" font-style="normal" text-anchor="start" fill="#000" >0</text>
<text x="129.65" y="1237.8" font-family="Liberation Sans" font-size="41.5" font-weight="bold" font-style="normal" text-anchor="start" fill="#000" >40</text>
<text x="129.65" y="1100.7" font-family="Liberation Sans" font-size="41.5" font-weight="bold" font-style="normal" text-anchor="start" fill="#000" >80</text>
<text x="106.58" y="963.6" font-family="Liberation Sans" font-size="41.5" font-weight="bold" font-style="normal" text-anchor="start" fill="#000" clip-path="url(#c1b)">1</text><text x="129.65" y="963.6" font-family="Liberation Sans" font-size="41.5" font-weight="bold" font-style="normal" text-anchor="start" fill="#000" >20</text>
<text x="194.36" y="1467.3" font-family="Liberation Sans" font-size="41.5" font-weight="bold" font-style="normal" text-anchor="start" fill="#000" >0</text>
<text x="500.93" y="1467.3" font-family="Liberation Sans" font-size="41.5" font-weight="bold" font-style="normal" text-anchor="start" fill="#000" >50</text>
<text x="807.49" y="1467.3" font-family="Liberation Sans" font-size="41.5" font-weight="bold" font-style="normal" text-anchor="start" fill="#000" clip-path="url(#c1b)">1</text><text x="830.56" y="1467.3" font-family="Liberation Sans" font-size="41.5" font-weight="bold" font-style="normal" text-anchor="start" fill="#000" >00</text>
<g transform="translate(86.7,1403.4) rotate(-90)"><text x="0" y="0" font-family="Liberation Sans" font-size="41.7" font-weight="bold" font-style="normal" text-anchor="start" fill="#000" >Dynamic yield stress (Pa)</text></g>
<text x="479.6" y="1525.4" font-family="Liberation Sans" font-size="41.7" font-weight="bold" font-style="normal" text-anchor="start" fill="#000" >Time (s)</text>
</svg>
</body></html>
